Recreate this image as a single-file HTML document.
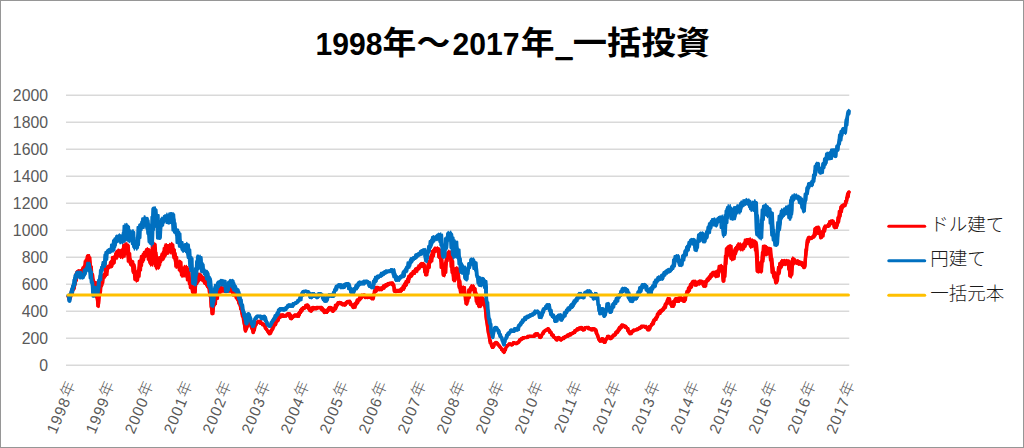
<!DOCTYPE html>
<html lang="ja"><head><meta charset="utf-8"><title>1998年～2017年_一括投資</title>
<style>
html,body{margin:0;padding:0;background:#fff;}
body{width:1024px;height:448px;overflow:hidden;font-family:"Liberation Sans","Noto Sans CJK JP",sans-serif;}
#chart{position:relative;width:1024px;height:448px;box-sizing:border-box;}
#chart svg{display:block;position:absolute;left:0;top:0;}
#frame{position:absolute;left:0;top:0;width:1024px;height:448px;box-sizing:border-box;border:1px solid #969696;pointer-events:none;}
</style></head><body>
<div id="chart">
<svg width="1024" height="448" viewBox="0 0 1024 448">
<rect x="0" y="0" width="1024" height="448" fill="#fff"/>
<line x1="66.0" x2="849.25" y1="95.25" y2="95.25" stroke="#d9d9d9" stroke-width="1.5"/>
<line x1="66.0" x2="849.25" y1="122.25" y2="122.25" stroke="#d9d9d9" stroke-width="1.5"/>
<line x1="66.0" x2="849.25" y1="149.25" y2="149.25" stroke="#d9d9d9" stroke-width="1.5"/>
<line x1="66.0" x2="849.25" y1="176.25" y2="176.25" stroke="#d9d9d9" stroke-width="1.5"/>
<line x1="66.0" x2="849.25" y1="203.25" y2="203.25" stroke="#d9d9d9" stroke-width="1.5"/>
<line x1="66.0" x2="849.25" y1="230.25" y2="230.25" stroke="#d9d9d9" stroke-width="1.5"/>
<line x1="66.0" x2="849.25" y1="257.25" y2="257.25" stroke="#d9d9d9" stroke-width="1.5"/>
<line x1="66.0" x2="849.25" y1="284.25" y2="284.25" stroke="#d9d9d9" stroke-width="1.5"/>
<line x1="66.0" x2="849.25" y1="311.25" y2="311.25" stroke="#d9d9d9" stroke-width="1.5"/>
<line x1="66.0" x2="849.25" y1="338.25" y2="338.25" stroke="#d9d9d9" stroke-width="1.5"/>
<line x1="66.0" x2="849.25" y1="365.25" y2="365.25" stroke="#d9d9d9" stroke-width="1.5"/>
<g font-family="'Liberation Sans', sans-serif" font-size="15.8" fill="#595959" text-anchor="end">
<text x="48.0" y="100.50">2000</text>
<text x="48.0" y="127.50">1800</text>
<text x="48.0" y="154.50">1600</text>
<text x="48.0" y="181.50">1400</text>
<text x="48.0" y="208.50">1200</text>
<text x="48.0" y="235.50">1000</text>
<text x="48.0" y="262.50">800</text>
<text x="48.0" y="289.50">600</text>
<text x="48.0" y="316.50">400</text>
<text x="48.0" y="343.50">200</text>
<text x="48.0" y="370.50">0</text>
</g>
<g fill="#595959" text-anchor="end">
<text transform="translate(77.30,384.5) rotate(-67)" x="0" y="0"><tspan font-family="'Liberation Sans', sans-serif" font-size="15.3" letter-spacing="1.0">1998</tspan><tspan font-family="'Noto Sans CJK JP', sans-serif" font-size="15.5" font-weight="300" dx="1.0" dy="-1.5">年</tspan></text>
<text transform="translate(116.27,384.5) rotate(-67)" x="0" y="0"><tspan font-family="'Liberation Sans', sans-serif" font-size="15.3" letter-spacing="1.0">1999</tspan><tspan font-family="'Noto Sans CJK JP', sans-serif" font-size="15.5" font-weight="300" dx="1.0" dy="-1.5">年</tspan></text>
<text transform="translate(155.24,384.5) rotate(-67)" x="0" y="0"><tspan font-family="'Liberation Sans', sans-serif" font-size="15.3" letter-spacing="1.0">2000</tspan><tspan font-family="'Noto Sans CJK JP', sans-serif" font-size="15.5" font-weight="300" dx="1.0" dy="-1.5">年</tspan></text>
<text transform="translate(194.21,384.5) rotate(-67)" x="0" y="0"><tspan font-family="'Liberation Sans', sans-serif" font-size="15.3" letter-spacing="1.0">2001</tspan><tspan font-family="'Noto Sans CJK JP', sans-serif" font-size="15.5" font-weight="300" dx="1.0" dy="-1.5">年</tspan></text>
<text transform="translate(233.18,384.5) rotate(-67)" x="0" y="0"><tspan font-family="'Liberation Sans', sans-serif" font-size="15.3" letter-spacing="1.0">2002</tspan><tspan font-family="'Noto Sans CJK JP', sans-serif" font-size="15.5" font-weight="300" dx="1.0" dy="-1.5">年</tspan></text>
<text transform="translate(272.15,384.5) rotate(-67)" x="0" y="0"><tspan font-family="'Liberation Sans', sans-serif" font-size="15.3" letter-spacing="1.0">2003</tspan><tspan font-family="'Noto Sans CJK JP', sans-serif" font-size="15.5" font-weight="300" dx="1.0" dy="-1.5">年</tspan></text>
<text transform="translate(311.12,384.5) rotate(-67)" x="0" y="0"><tspan font-family="'Liberation Sans', sans-serif" font-size="15.3" letter-spacing="1.0">2004</tspan><tspan font-family="'Noto Sans CJK JP', sans-serif" font-size="15.5" font-weight="300" dx="1.0" dy="-1.5">年</tspan></text>
<text transform="translate(350.09,384.5) rotate(-67)" x="0" y="0"><tspan font-family="'Liberation Sans', sans-serif" font-size="15.3" letter-spacing="1.0">2005</tspan><tspan font-family="'Noto Sans CJK JP', sans-serif" font-size="15.5" font-weight="300" dx="1.0" dy="-1.5">年</tspan></text>
<text transform="translate(389.06,384.5) rotate(-67)" x="0" y="0"><tspan font-family="'Liberation Sans', sans-serif" font-size="15.3" letter-spacing="1.0">2006</tspan><tspan font-family="'Noto Sans CJK JP', sans-serif" font-size="15.5" font-weight="300" dx="1.0" dy="-1.5">年</tspan></text>
<text transform="translate(428.03,384.5) rotate(-67)" x="0" y="0"><tspan font-family="'Liberation Sans', sans-serif" font-size="15.3" letter-spacing="1.0">2007</tspan><tspan font-family="'Noto Sans CJK JP', sans-serif" font-size="15.5" font-weight="300" dx="1.0" dy="-1.5">年</tspan></text>
<text transform="translate(467.00,384.5) rotate(-67)" x="0" y="0"><tspan font-family="'Liberation Sans', sans-serif" font-size="15.3" letter-spacing="1.0">2008</tspan><tspan font-family="'Noto Sans CJK JP', sans-serif" font-size="15.5" font-weight="300" dx="1.0" dy="-1.5">年</tspan></text>
<text transform="translate(505.97,384.5) rotate(-67)" x="0" y="0"><tspan font-family="'Liberation Sans', sans-serif" font-size="15.3" letter-spacing="1.0">2009</tspan><tspan font-family="'Noto Sans CJK JP', sans-serif" font-size="15.5" font-weight="300" dx="1.0" dy="-1.5">年</tspan></text>
<text transform="translate(544.94,384.5) rotate(-67)" x="0" y="0"><tspan font-family="'Liberation Sans', sans-serif" font-size="15.3" letter-spacing="1.0">2010</tspan><tspan font-family="'Noto Sans CJK JP', sans-serif" font-size="15.5" font-weight="300" dx="1.0" dy="-1.5">年</tspan></text>
<text transform="translate(583.91,384.5) rotate(-67)" x="0" y="0"><tspan font-family="'Liberation Sans', sans-serif" font-size="15.3" letter-spacing="1.0">2011</tspan><tspan font-family="'Noto Sans CJK JP', sans-serif" font-size="15.5" font-weight="300" dx="1.0" dy="-1.5">年</tspan></text>
<text transform="translate(622.88,384.5) rotate(-67)" x="0" y="0"><tspan font-family="'Liberation Sans', sans-serif" font-size="15.3" letter-spacing="1.0">2012</tspan><tspan font-family="'Noto Sans CJK JP', sans-serif" font-size="15.5" font-weight="300" dx="1.0" dy="-1.5">年</tspan></text>
<text transform="translate(661.85,384.5) rotate(-67)" x="0" y="0"><tspan font-family="'Liberation Sans', sans-serif" font-size="15.3" letter-spacing="1.0">2013</tspan><tspan font-family="'Noto Sans CJK JP', sans-serif" font-size="15.5" font-weight="300" dx="1.0" dy="-1.5">年</tspan></text>
<text transform="translate(700.82,384.5) rotate(-67)" x="0" y="0"><tspan font-family="'Liberation Sans', sans-serif" font-size="15.3" letter-spacing="1.0">2014</tspan><tspan font-family="'Noto Sans CJK JP', sans-serif" font-size="15.5" font-weight="300" dx="1.0" dy="-1.5">年</tspan></text>
<text transform="translate(739.79,384.5) rotate(-67)" x="0" y="0"><tspan font-family="'Liberation Sans', sans-serif" font-size="15.3" letter-spacing="1.0">2015</tspan><tspan font-family="'Noto Sans CJK JP', sans-serif" font-size="15.5" font-weight="300" dx="1.0" dy="-1.5">年</tspan></text>
<text transform="translate(778.76,384.5) rotate(-67)" x="0" y="0"><tspan font-family="'Liberation Sans', sans-serif" font-size="15.3" letter-spacing="1.0">2016</tspan><tspan font-family="'Noto Sans CJK JP', sans-serif" font-size="15.5" font-weight="300" dx="1.0" dy="-1.5">年</tspan></text>
<text transform="translate(817.73,384.5) rotate(-67)" x="0" y="0"><tspan font-family="'Liberation Sans', sans-serif" font-size="15.3" letter-spacing="1.0">2016</tspan><tspan font-family="'Noto Sans CJK JP', sans-serif" font-size="15.5" font-weight="300" dx="1.0" dy="-1.5">年</tspan></text>
<text transform="translate(856.70,384.5) rotate(-67)" x="0" y="0"><tspan font-family="'Liberation Sans', sans-serif" font-size="15.3" letter-spacing="1.0">2017</tspan><tspan font-family="'Noto Sans CJK JP', sans-serif" font-size="15.5" font-weight="300" dx="1.0" dy="-1.5">年</tspan></text>
</g>
<path d="M67.6,296.5 L68.1,296.3 L68.5,296.3 L68.9,300.0 L69.3,300.0 L69.8,295.0 L70.2,298.2 L70.6,293.8 L71.1,290.0 L71.5,293.4 L72.0,287.6 L72.4,291.6 L72.9,284.8 L73.4,289.8 L73.8,285.0 L74.2,285.2 L74.6,279.8 L75.0,277.6 L75.4,278.2 L75.8,273.4 L76.2,272.5 L76.7,272.7 L77.1,271.0 L77.5,272.7 L77.9,271.0 L78.4,271.1 L78.8,271.8 L79.2,271.2 L79.6,271.0 L80.1,271.5 L80.5,271.5 L80.9,271.0 L81.3,271.5 L81.7,271.2 L82.1,268.5 L82.5,267.3 L82.9,271.2 L83.4,271.5 L83.8,266.0 L84.2,266.2 L84.7,261.2 L85.2,266.5 L85.6,259.7 L86.1,260.0 L86.5,260.3 L87.0,256.0 L87.4,256.2 L87.8,260.0 L88.3,256.0 L88.7,264.0 L89.2,263.8 L89.7,263.5 L90.2,275.2 L90.7,267.3 L91.2,275.0 L91.7,282.2 L92.1,279.1 L92.6,283.3 L93.0,285.0 L93.5,282.5 L93.9,285.2 L94.3,282.3 L94.8,282.5 L95.3,291.4 L95.8,297.3 L96.4,297.5 L96.9,297.3 L97.4,306.2 L97.9,305.2 L98.4,295.9 L98.8,295.0 L99.3,289.0 L99.7,294.1 L100.1,285.2 L100.5,285.0 L100.9,285.2 L101.4,279.6 L101.8,280.8 L102.2,277.5 L102.7,274.8 L103.2,277.7 L103.7,274.8 L104.2,275.0 L104.6,275.3 L105.0,267.2 L105.4,275.3 L105.8,267.2 L106.2,273.0 L106.6,267.5 L107.1,266.8 L107.5,267.7 L107.9,266.0 L108.3,267.7 L108.7,266.0 L109.1,266.2 L109.5,266.5 L109.9,262.4 L110.4,266.5 L110.8,262.2 L111.2,265.5 L111.6,262.5 L112.0,257.2 L112.4,262.8 L112.8,257.2 L113.2,261.9 L113.6,257.4 L114.0,257.5 L114.4,257.6 L114.8,257.8 L115.2,253.4 L115.6,253.4 L116.0,257.3 L116.4,253.8 L116.8,250.9 L117.2,250.9 L117.6,254.1 L118.0,250.9 L118.4,254.1 L118.8,251.2 L119.3,250.9 L119.8,256.6 L120.3,252.6 L120.8,256.2 L121.3,256.6 L121.8,249.6 L122.3,256.3 L122.7,250.0 L123.2,244.6 L123.6,249.5 L124.0,248.5 L124.5,244.6 L124.9,245.0 L125.4,254.2 L125.8,246.1 L126.3,254.1 L126.8,253.8 L127.3,253.4 L127.8,261.6 L128.3,253.4 L128.8,261.2 L129.2,260.9 L129.7,261.1 L130.1,264.6 L130.5,262.7 L130.9,265.2 L131.4,265.0 L131.9,264.6 L132.4,265.8 L132.9,272.8 L133.4,272.5 L133.8,272.2 L134.3,279.7 L134.7,272.2 L135.1,280.3 L135.6,276.5 L136.0,280.0 L136.5,271.6 L136.9,280.3 L137.4,271.4 L137.9,270.0 L138.3,269.3 L138.8,260.9 L139.2,270.4 L139.6,260.9 L140.1,261.2 L140.5,261.6 L140.9,256.2 L141.3,261.6 L141.7,255.9 L142.1,260.7 L142.5,256.2 L142.9,253.8 L143.3,256.6 L143.8,252.2 L144.2,255.8 L144.6,252.1 L145.0,252.5 L145.4,252.9 L145.9,249.6 L146.3,252.9 L146.7,250.0 L147.2,249.6 L147.8,259.6 L148.3,255.2 L148.8,260.0 L149.3,262.8 L149.8,259.6 L150.3,264.1 L150.8,263.8 L151.3,264.1 L151.8,245.1 L152.2,254.6 L152.7,243.8 L153.1,243.3 L153.6,257.9 L154.1,247.3 L154.5,257.5 L155.0,266.3 L155.5,257.1 L155.9,267.9 L156.4,267.5 L156.9,262.6 L157.3,266.5 L157.8,259.6 L158.3,260.0 L158.7,260.4 L159.1,260.4 L159.5,257.1 L160.0,257.1 L160.4,258.8 L160.8,257.5 L161.2,255.8 L161.6,253.5 L162.0,257.9 L162.4,257.7 L162.8,256.5 L163.3,253.8 L163.7,248.2 L164.1,254.1 L164.5,254.2 L164.9,245.8 L165.3,253.6 L165.7,246.2 L166.2,245.8 L166.7,245.8 L167.2,251.7 L167.7,251.2 L168.2,245.2 L168.7,251.7 L169.2,250.9 L169.7,245.0 L170.2,244.6 L170.7,250.4 L171.2,245.1 L171.7,250.0 L172.2,253.6 L172.8,251.8 L173.3,257.9 L173.8,257.5 L174.3,257.1 L174.8,257.1 L175.3,266.6 L175.9,266.2 L176.4,263.2 L176.8,266.6 L177.3,266.6 L177.8,262.5 L178.3,262.1 L178.8,270.4 L179.2,262.1 L179.7,270.4 L180.1,270.0 L180.6,269.7 L181.0,275.3 L181.4,269.7 L181.8,275.3 L182.3,275.3 L182.7,275.0 L183.2,267.3 L183.7,275.3 L184.1,273.6 L184.6,267.5 L185.1,267.1 L185.5,267.2 L186.0,268.7 L186.4,272.5 L186.9,280.3 L187.4,272.2 L188.0,274.7 L188.5,280.0 L188.9,284.2 L189.3,279.7 L189.8,287.8 L190.2,281.1 L190.6,287.8 L191.0,287.5 L191.5,287.5 L192.0,290.7 L192.4,289.0 L192.9,292.7 L193.3,292.5 L193.8,287.7 L194.3,290.2 L194.8,282.6 L195.3,282.5 L195.7,282.8 L196.1,278.7 L196.5,280.1 L196.9,274.7 L197.3,282.0 L197.7,275.0 L198.1,277.8 L198.5,277.8 L198.9,274.7 L199.4,277.8 L199.8,275.2 L200.2,277.5 L200.6,279.8 L201.1,280.3 L201.5,277.2 L201.9,280.3 L202.3,277.2 L202.7,280.0 L203.2,281.3 L203.6,279.7 L204.0,282.8 L204.4,279.7 L204.8,282.8 L205.3,282.5 L205.7,282.2 L206.1,285.4 L206.5,282.7 L206.9,286.6 L207.4,286.6 L207.8,286.2 L208.3,286.9 L208.8,292.3 L209.3,290.3 L209.9,295.0 L210.2,300.0 L210.6,306.9 L211.1,306.8 L211.6,313.8 L212.0,313.1 L212.5,307.1 L213.0,305.0 L213.4,302.6 L213.8,305.3 L214.2,298.5 L214.7,298.8 L215.1,293.5 L215.6,299.0 L216.1,293.5 L216.6,293.8 L217.0,289.9 L217.4,294.0 L217.9,287.7 L218.3,294.0 L218.7,287.7 L219.1,289.6 L219.6,288.0 L220.0,288.6 L220.5,287.7 L220.9,290.7 L221.4,287.7 L221.8,291.1 L222.3,288.1 L222.8,291.3 L223.2,288.7 L223.7,291.3 L224.1,290.0 L224.6,291.0 L225.0,291.3 L225.5,289.9 L225.9,289.6 L226.4,291.3 L226.8,288.2 L227.3,291.3 L227.7,288.2 L228.2,290.1 L228.7,288.2 L229.1,289.7 L229.6,288.5 L230.0,288.2 L230.5,290.7 L230.9,288.9 L231.4,291.5 L231.9,290.4 L232.3,294.8 L232.8,288.7 L233.2,290.4 L233.7,294.8 L234.2,294.8 L234.6,294.5 L235.1,294.2 L235.6,297.8 L236.1,294.2 L236.6,297.5 L237.2,300.4 L237.7,298.1 L238.2,302.8 L238.7,302.5 L239.1,302.3 L239.6,302.3 L240.1,309.0 L240.5,308.8 L241.0,309.8 L241.4,313.4 L241.9,316.5 L242.4,316.2 L242.9,316.1 L243.4,322.7 L244.0,325.0 L244.5,327.5 L245.0,331.2 L245.5,331.2 L246.0,326.2 L246.5,326.2 L246.9,326.4 L247.4,326.4 L247.8,321.1 L248.2,321.2 L248.7,321.1 L249.1,323.9 L249.6,321.5 L250.0,323.8 L250.5,326.6 L250.9,324.5 L251.4,328.9 L251.8,328.8 L252.3,328.6 L252.7,332.6 L253.1,332.5 L253.6,328.4 L254.1,329.9 L254.6,326.2 L255.1,324.0 L255.6,325.4 L256.1,322.6 L256.6,322.5 L257.0,322.6 L257.5,321.5 L257.9,322.0 L258.4,321.3 L258.8,321.2 L259.2,322.1 L259.7,321.5 L260.1,323.6 L260.5,321.8 L260.9,323.9 L261.3,323.8 L261.8,323.6 L262.2,325.1 L262.6,323.6 L263.0,325.1 L263.4,324.2 L263.9,325.0 L264.3,326.4 L264.7,326.3 L265.2,328.7 L265.6,328.8 L266.1,328.8 L266.6,330.3 L267.2,330.4 L267.7,331.2 L268.1,332.6 L268.5,333.3 L269.0,333.9 L269.4,333.8 L269.9,331.2 L270.4,332.6 L270.9,330.3 L271.4,330.0 L271.8,330.1 L272.2,326.7 L272.6,328.3 L273.0,325.9 L273.5,327.6 L273.9,325.0 L274.3,322.9 L274.7,325.1 L275.1,321.6 L275.5,324.1 L275.9,323.2 L276.3,321.2 L276.8,320.3 L277.2,320.4 L277.6,318.8 L278.0,319.3 L278.4,318.7 L278.8,317.5 L279.2,316.6 L279.6,317.5 L280.1,315.4 L280.5,316.6 L280.9,314.9 L281.3,315.0 L281.7,314.9 L282.1,316.4 L282.6,314.9 L283.0,316.4 L283.4,316.4 L283.8,316.2 L284.2,315.1 L284.6,316.4 L285.1,314.9 L285.5,316.2 L285.9,314.9 L286.3,315.0 L286.7,315.1 L287.1,314.0 L287.6,315.1 L288.0,315.1 L288.4,313.6 L288.8,313.8 L289.3,317.5 L289.8,313.6 L290.3,318.9 L290.8,318.8 L291.3,317.5 L291.7,318.7 L292.2,316.1 L292.6,317.8 L293.1,316.2 L293.5,315.3 L293.9,316.4 L294.3,315.1 L294.7,315.9 L295.2,314.9 L295.6,315.0 L296.1,315.8 L296.6,314.9 L297.1,316.4 L297.6,316.2 L298.1,313.0 L298.6,316.4 L299.1,312.4 L299.6,312.5 L300.0,310.3 L300.4,309.7 L300.8,312.3 L301.2,308.6 L301.6,310.5 L302.0,308.8 L302.5,308.3 L302.9,308.6 L303.3,307.4 L303.7,308.6 L304.1,307.4 L304.5,307.5 L304.9,307.6 L305.4,304.8 L305.8,307.7 L306.2,304.8 L306.6,306.7 L307.0,305.0 L307.5,307.7 L307.9,304.9 L308.3,308.8 L308.8,308.8 L309.2,308.7 L309.7,309.1 L310.1,309.8 L310.6,311.2 L311.0,307.8 L311.5,311.4 L312.0,307.4 L312.5,307.5 L312.9,308.6 L313.4,307.4 L313.8,308.9 L314.2,308.0 L314.6,308.8 L315.0,308.8 L315.5,307.5 L315.9,308.9 L316.3,307.4 L316.7,308.9 L317.1,307.4 L317.5,307.5 L317.9,307.4 L318.4,307.6 L318.8,307.6 L319.2,307.4 L319.6,307.6 L320.0,307.5 L320.4,307.4 L320.9,309.7 L321.3,307.6 L321.7,310.1 L322.1,308.8 L322.5,310.0 L323.0,309.9 L323.4,311.2 L323.8,310.9 L324.2,312.6 L324.6,310.8 L325.1,312.5 L325.5,312.6 L325.9,310.2 L326.3,312.6 L326.7,309.9 L327.1,311.7 L327.5,310.0 L328.0,308.2 L328.4,309.7 L328.8,309.3 L329.2,307.8 L329.6,307.5 L330.0,307.5 L330.5,309.0 L331.0,308.7 L331.5,308.7 L332.1,311.2 L332.5,309.4 L333.0,311.0 L333.5,308.6 L334.0,308.8 L334.5,308.9 L334.9,304.9 L335.4,305.2 L335.8,306.9 L336.3,305.0 L336.7,304.1 L337.1,304.8 L337.5,303.0 L337.9,304.0 L338.3,302.3 L338.7,302.5 L339.2,302.3 L339.6,303.9 L340.0,302.3 L340.4,303.9 L340.8,302.9 L341.3,303.8 L341.7,304.2 L342.1,303.9 L342.5,305.1 L342.9,303.9 L343.3,303.6 L343.8,305.0 L344.2,305.2 L344.6,303.5 L345.0,303.1 L345.4,303.9 L345.8,302.5 L346.2,302.5 L346.7,301.1 L347.1,302.7 L347.5,301.1 L347.9,302.7 L348.3,301.1 L348.7,301.2 L349.2,301.1 L349.6,304.2 L350.0,304.9 L350.4,301.7 L350.8,305.2 L351.3,305.0 L351.8,304.8 L352.3,307.3 L352.8,305.3 L353.3,307.5 L353.7,307.6 L354.2,303.6 L354.6,303.6 L355.1,306.0 L355.5,303.8 L355.9,301.8 L356.3,303.9 L356.7,299.8 L357.2,302.5 L357.6,299.8 L358.0,300.0 L358.4,300.2 L358.8,298.1 L359.2,297.3 L359.6,300.2 L360.1,297.5 L360.5,297.5 L360.9,297.5 L361.3,294.9 L361.7,297.7 L362.1,295.0 L362.5,296.1 L363.0,295.0 L363.4,295.1 L363.8,295.5 L364.2,296.9 L364.6,296.1 L365.0,297.7 L365.5,297.5 L365.9,296.7 L366.3,297.4 L366.7,297.2 L367.1,296.1 L367.5,296.9 L368.0,296.2 L368.4,296.1 L368.8,297.7 L369.2,296.1 L369.6,297.7 L370.1,296.8 L370.5,297.5 L371.0,298.5 L371.5,297.3 L372.0,298.9 L372.5,298.8 L372.9,294.2 L373.3,298.2 L373.8,295.0 L374.2,291.2 L374.6,289.4 L375.0,291.4 L375.4,287.3 L375.8,289.7 L376.2,287.4 L376.7,287.5 L377.1,288.5 L377.6,287.4 L378.0,287.3 L378.5,289.7 L379.0,288.3 L379.4,289.5 L379.8,288.5 L380.3,289.7 L380.7,287.8 L381.1,288.9 L381.5,287.9 L381.9,288.0 L382.3,287.0 L382.7,288.2 L383.2,285.8 L383.6,287.9 L384.0,285.8 L384.4,286.0 L384.8,286.2 L385.2,286.2 L385.6,284.3 L386.1,284.3 L386.5,286.2 L386.9,284.5 L387.3,283.6 L387.7,284.7 L388.1,283.3 L388.6,284.7 L389.0,283.4 L389.4,283.5 L389.9,283.7 L390.4,283.7 L390.9,283.0 L391.4,282.8 L391.9,283.3 L392.4,285.1 L392.9,285.0 L393.3,285.8 L393.8,290.7 L394.2,291.5 L394.6,290.3 L395.1,291.7 L395.6,290.3 L396.0,291.7 L396.5,290.9 L396.9,290.5 L397.3,290.8 L397.8,290.3 L398.2,291.2 L398.6,291.2 L399.0,290.4 L399.4,291.0 L399.8,291.2 L400.3,289.3 L400.7,291.2 L401.1,291.2 L401.5,288.8 L401.9,289.0 L402.3,289.2 L402.7,286.4 L403.2,285.6 L403.6,288.6 L404.0,284.8 L404.4,285.0 L404.8,282.5 L405.2,285.2 L405.6,281.1 L406.0,281.1 L406.5,283.5 L406.9,281.2 L407.3,278.4 L407.7,281.4 L408.1,276.0 L408.5,276.0 L408.9,276.0 L409.3,276.2 L409.8,276.5 L410.2,274.4 L410.6,276.5 L411.0,273.5 L411.4,276.2 L411.8,273.8 L412.2,274.0 L412.7,271.0 L413.1,274.0 L413.5,273.0 L413.9,271.0 L414.3,271.2 L414.7,271.5 L415.1,268.5 L415.6,271.3 L416.0,268.5 L416.4,269.9 L416.8,268.8 L417.2,267.6 L417.6,268.8 L418.0,268.4 L418.5,269.0 L418.9,266.0 L419.3,266.2 L419.7,266.5 L420.1,263.8 L420.5,266.5 L421.0,266.0 L421.4,263.5 L421.8,263.8 L422.3,265.2 L422.8,266.5 L423.3,264.0 L423.8,266.2 L424.2,272.4 L424.7,266.2 L425.1,275.2 L425.6,275.0 L426.0,269.6 L426.4,272.6 L426.9,270.6 L427.3,267.5 L427.8,263.8 L428.3,266.9 L428.8,261.0 L429.3,261.2 L429.8,261.5 L430.2,256.4 L430.7,259.6 L431.2,256.2 L431.7,251.0 L432.2,256.5 L432.7,251.0 L433.1,251.2 L433.6,251.5 L434.0,249.3 L434.5,250.7 L434.9,248.5 L435.3,248.8 L435.7,249.5 L436.1,248.5 L436.6,250.3 L437.0,250.3 L437.4,249.1 L437.8,250.0 L438.2,257.2 L438.7,249.7 L439.1,257.8 L439.5,257.5 L440.1,257.2 L440.6,267.8 L441.1,258.9 L441.6,267.5 L442.1,267.6 L442.6,274.9 L443.1,275.0 L443.5,274.7 L443.9,266.4 L444.3,263.4 L444.7,263.8 L445.2,264.1 L445.6,262.6 L446.0,254.7 L446.4,255.0 L446.9,255.1 L447.4,252.9 L447.9,255.4 L448.3,252.5 L448.8,252.1 L449.2,258.6 L449.7,254.6 L450.1,258.8 L450.6,267.0 L451.1,260.3 L451.5,272.8 L452.0,272.5 L452.5,272.2 L453.0,280.3 L453.6,280.0 L454.0,274.5 L454.4,280.3 L454.8,268.4 L455.2,268.8 L455.7,275.3 L456.1,275.3 L456.6,275.3 L457.0,275.0 L457.5,274.7 L458.1,276.1 L458.6,287.8 L459.1,287.5 L459.6,287.2 L460.0,292.8 L460.5,289.4 L460.9,292.5 L461.4,292.8 L461.9,287.5 L462.4,290.9 L462.9,287.5 L463.3,292.6 L463.7,295.0 L464.2,295.0 L464.6,294.8 L465.1,295.4 L465.5,303.8 L465.9,298.2 L466.4,304.0 L466.8,297.3 L467.2,297.5 L467.7,297.8 L468.2,289.7 L468.7,296.0 L469.1,290.0 L469.6,290.3 L470.1,290.3 L470.6,289.8 L471.1,286.2 L471.6,286.0 L472.1,286.0 L472.6,289.0 L473.1,288.8 L473.6,288.5 L474.2,294.5 L474.7,289.2 L475.2,295.0 L475.7,301.3 L476.2,295.0 L476.7,304.0 L477.3,303.8 L477.8,303.5 L478.3,306.5 L478.8,306.2 L479.2,300.5 L479.6,306.1 L480.0,297.3 L480.5,297.5 L480.9,297.3 L481.3,300.2 L481.8,297.3 L482.2,300.0 L482.7,305.0 L483.3,299.8 L483.8,305.9 L484.3,306.2 L484.8,309.6 L485.4,314.5 L485.9,320.0 L486.4,322.5 L487.0,326.0 L487.5,330.0 L488.0,333.5 L488.6,332.9 L489.1,338.8 L489.6,343.0 L490.1,340.1 L490.7,343.8 L491.1,346.3 L491.6,343.7 L492.0,347.6 L492.5,347.5 L492.9,344.7 L493.3,347.6 L493.7,343.7 L494.2,343.8 L494.7,343.9 L495.2,342.4 L495.7,343.7 L496.2,342.5 L496.7,344.2 L497.2,342.6 L497.7,345.1 L498.2,345.0 L498.7,344.9 L499.2,346.7 L499.7,346.5 L500.2,347.5 L500.7,347.4 L501.2,350.0 L501.7,348.5 L502.3,350.0 L502.8,351.8 L503.3,351.1 L503.8,352.5 L504.3,352.0 L504.8,349.5 L505.2,349.2 L505.7,347.5 L506.2,346.1 L506.7,347.2 L507.2,345.8 L507.7,345.0 L508.2,344.5 L508.7,344.9 L509.2,343.7 L509.7,343.8 L510.2,344.7 L510.7,343.7 L511.2,344.9 L511.7,345.0 L512.2,344.1 L512.7,344.7 L513.2,342.4 L513.7,342.5 L514.2,343.0 L514.7,342.9 L515.2,343.8 L515.7,343.8 L516.2,343.8 L516.7,342.4 L517.2,343.5 L517.7,342.5 L518.2,341.3 L518.7,342.0 L519.2,339.9 L519.7,340.0 L520.2,340.1 L520.7,338.6 L521.2,340.1 L521.6,338.8 L522.1,337.6 L522.6,338.9 L523.1,337.4 L523.6,337.5 L524.1,337.6 L524.5,337.4 L524.9,337.4 L525.3,337.6 L525.7,337.4 L526.1,337.5 L526.6,337.6 L527.0,336.7 L527.4,337.6 L527.8,336.1 L528.2,337.3 L528.6,336.2 L529.0,336.1 L529.5,336.4 L529.9,336.1 L530.3,336.4 L530.7,336.1 L531.1,336.2 L531.5,336.4 L532.0,336.1 L532.4,336.4 L532.8,336.1 L533.2,336.4 L533.6,336.2 L534.0,336.3 L534.4,333.9 L534.9,336.4 L535.3,333.6 L535.7,335.4 L536.1,333.8 L536.6,334.3 L537.1,334.1 L537.6,335.1 L538.1,335.0 L538.6,334.9 L539.1,334.9 L539.6,337.6 L540.1,337.5 L540.6,335.0 L541.1,337.5 L541.6,335.7 L542.1,333.8 L542.6,332.3 L543.1,333.3 L543.6,331.1 L544.1,331.2 L544.6,331.4 L545.1,329.9 L545.6,330.1 L546.1,330.0 L546.6,329.9 L547.1,328.6 L547.6,330.1 L548.1,328.8 L548.6,328.6 L549.1,332.6 L549.6,332.6 L550.1,332.5 L550.6,332.4 L551.1,335.1 L551.6,333.2 L552.1,335.0 L552.6,336.6 L553.1,335.2 L553.6,337.6 L554.1,337.5 L554.6,337.4 L555.1,339.1 L555.7,339.1 L556.2,340.0 L556.7,340.1 L557.1,337.4 L557.6,338.5 L558.1,337.5 L558.6,337.7 L559.1,337.4 L559.7,338.1 L560.2,340.0 L560.7,340.1 L561.2,338.6 L561.7,340.0 L562.1,338.8 L562.6,337.5 L563.1,338.9 L563.6,338.8 L564.1,337.5 L564.6,336.1 L565.1,337.6 L565.6,336.1 L566.1,336.2 L566.5,336.4 L567.0,334.9 L567.4,336.4 L567.8,336.4 L568.2,334.9 L568.6,335.0 L569.0,334.1 L569.4,335.1 L569.9,333.8 L570.3,334.7 L570.7,333.6 L571.1,333.8 L571.5,333.9 L571.9,333.1 L572.3,332.8 L572.8,333.6 L573.2,332.4 L573.6,332.5 L574.0,332.6 L574.4,330.6 L574.8,332.0 L575.2,330.2 L575.7,329.9 L576.1,330.0 L576.5,330.1 L576.9,329.3 L577.3,329.6 L577.7,328.6 L578.1,329.7 L578.6,328.8 L579.0,327.6 L579.4,328.9 L579.8,327.4 L580.2,328.9 L580.6,327.4 L581.0,327.5 L581.5,329.6 L582.1,327.4 L582.6,330.1 L583.1,330.0 L583.6,329.0 L584.1,329.1 L584.5,327.4 L585.0,327.5 L585.5,327.4 L586.0,327.6 L586.5,327.6 L587.0,327.5 L587.5,327.4 L588.0,328.9 L588.6,328.1 L589.1,328.8 L589.6,329.4 L590.1,328.6 L590.6,330.1 L591.1,330.0 L591.6,328.7 L592.1,330.1 L592.6,329.7 L593.1,328.8 L593.6,328.6 L594.1,330.1 L594.6,328.6 L595.1,330.0 L595.6,333.1 L596.1,330.7 L596.6,333.8 L597.1,336.2 L597.6,336.3 L598.1,338.8 L598.7,340.4 L599.2,338.9 L599.7,341.4 L600.2,341.2 L600.7,339.3 L601.2,339.1 L601.7,338.6 L602.1,338.8 L602.7,341.6 L603.2,338.6 L603.7,342.6 L604.2,342.5 L604.7,339.9 L605.2,342.2 L605.7,338.6 L606.1,338.8 L606.6,338.9 L607.1,336.4 L607.6,337.4 L608.1,336.2 L608.6,336.4 L609.1,336.1 L609.6,338.9 L610.1,338.8 L610.6,337.5 L611.1,338.2 L611.6,336.1 L612.1,336.2 L612.6,336.4 L613.1,334.9 L613.6,336.3 L614.1,335.0 L614.6,335.1 L615.1,332.7 L615.6,334.0 L616.1,332.5 L616.6,331.0 L617.1,332.6 L617.6,331.9 L618.1,330.0 L618.6,327.8 L619.1,330.1 L619.5,327.4 L620.0,327.5 L620.5,327.6 L621.0,325.4 L621.5,326.4 L622.0,325.0 L622.5,325.1 L623.0,325.9 L623.5,324.9 L624.0,326.2 L624.5,327.6 L625.0,326.6 L625.5,327.4 L626.0,327.5 L626.6,327.5 L627.1,330.4 L627.6,329.3 L628.1,331.2 L628.6,332.6 L629.1,331.1 L629.6,333.9 L630.1,333.8 L630.6,331.8 L631.1,333.9 L631.6,331.3 L632.1,331.2 L632.6,331.4 L633.1,329.9 L633.6,331.4 L634.1,330.0 L634.6,329.9 L635.1,330.1 L635.6,329.9 L636.1,330.0 L636.6,328.9 L637.1,330.1 L637.6,328.6 L638.1,328.8 L638.6,328.9 L639.0,327.4 L639.5,328.4 L640.0,327.5 L640.5,326.6 L641.0,327.6 L641.5,326.1 L642.0,326.2 L642.5,326.4 L643.0,326.4 L643.5,326.1 L644.0,326.2 L644.5,327.5 L645.0,326.1 L645.5,327.6 L646.0,327.5 L646.5,327.4 L647.1,330.1 L647.6,328.5 L648.1,330.0 L648.6,330.1 L649.0,326.1 L649.5,326.1 L650.0,326.2 L650.5,326.4 L651.0,323.9 L651.5,325.4 L652.0,323.8 L652.5,321.4 L653.0,323.9 L653.5,319.8 L654.0,320.0 L654.5,319.9 L655.0,318.1 L655.5,319.8 L656.0,317.5 L656.4,317.7 L656.9,314.1 L657.4,313.6 L657.9,313.8 L658.4,311.9 L658.9,311.1 L659.4,313.4 L659.9,311.2 L660.4,309.8 L660.9,311.4 L661.4,309.8 L661.9,310.0 L662.4,310.2 L662.9,307.5 L663.4,308.6 L663.9,307.5 L664.4,307.2 L664.9,303.6 L665.4,307.4 L665.9,303.8 L666.4,301.3 L666.9,299.9 L667.4,304.0 L667.9,298.8 L668.4,298.5 L668.9,302.0 L669.4,300.4 L669.9,302.5 L670.4,305.0 L670.9,302.6 L671.4,306.4 L671.9,306.2 L672.4,301.5 L672.9,306.4 L673.4,301.1 L673.9,301.2 L674.4,301.4 L674.9,299.0 L675.4,300.6 L675.9,298.8 L676.4,298.6 L676.9,298.9 L677.4,301.4 L677.9,301.2 L678.4,297.3 L678.9,301.4 L679.4,297.6 L679.9,297.5 L680.4,298.8 L680.9,297.3 L681.4,297.3 L681.9,300.0 L682.4,300.9 L682.9,300.0 L683.5,301.4 L684.0,301.2 L684.4,296.2 L684.9,294.8 L685.4,295.0 L685.9,295.2 L686.4,291.1 L686.9,294.6 L687.4,291.2 L687.9,288.2 L688.4,291.4 L688.9,287.3 L689.4,287.5 L689.9,284.9 L690.4,287.7 L690.9,287.3 L691.4,283.8 L691.9,281.5 L692.4,283.9 L692.9,281.1 L693.4,281.2 L693.9,283.3 L694.4,281.1 L694.9,285.2 L695.4,285.0 L695.9,282.8 L696.4,285.2 L696.9,282.3 L697.4,282.5 L697.7,284.0 L698.1,283.8 L698.5,281.0 L699.0,284.0 L699.4,281.0 L699.8,281.2 L700.3,282.7 L700.8,282.7 L701.3,281.2 L701.8,282.5 L702.4,285.0 L702.9,282.6 L703.4,286.5 L703.9,286.2 L704.4,281.3 L704.8,285.1 L705.3,281.3 L705.8,281.2 L706.3,281.5 L706.8,278.5 L707.3,280.0 L707.8,278.8 L708.3,277.5 L708.8,279.0 L709.3,276.0 L709.8,276.2 L710.3,274.0 L710.8,276.5 L711.3,273.5 L711.8,273.8 L712.3,272.4 L712.8,274.0 L713.3,272.3 L713.8,272.5 L714.3,275.4 L714.8,272.3 L715.2,276.5 L715.7,276.2 L716.2,271.0 L716.7,275.2 L717.2,271.2 L717.7,271.2 L718.1,271.5 L718.6,266.0 L719.1,271.5 L719.6,266.2 L720.1,266.0 L720.6,269.0 L721.1,268.8 L721.6,269.8 L722.1,272.1 L722.6,281.2 L723.1,281.5 L723.5,267.2 L724.0,267.5 L724.5,267.8 L724.9,255.9 L725.4,256.2 L725.9,248.4 L726.4,252.5 L726.9,248.8 L727.3,246.9 L727.8,249.1 L728.3,246.2 L728.9,245.9 L729.4,254.1 L729.9,253.8 L730.4,258.6 L730.9,255.7 L731.4,258.8 L731.9,256.2 L732.4,258.7 L732.9,255.0 L733.4,250.8 L733.9,253.6 L734.4,250.0 L734.9,248.2 L735.4,250.4 L735.9,247.1 L736.4,247.5 L736.8,247.9 L737.3,244.8 L737.8,247.9 L738.3,245.0 L738.8,244.6 L739.4,249.1 L739.9,245.8 L740.4,248.8 L740.9,247.0 L741.4,248.7 L741.9,245.9 L742.4,246.2 L742.8,246.6 L743.3,243.4 L743.8,246.6 L744.3,243.8 L744.8,239.6 L745.3,239.6 L745.8,244.1 L746.3,240.0 L746.8,239.6 L747.3,240.4 L747.8,239.6 L748.3,240.0 L748.8,244.3 L749.3,240.0 L749.9,246.6 L750.4,246.2 L750.9,240.9 L751.3,246.6 L751.8,241.2 L752.3,240.9 L752.8,240.9 L753.3,242.9 L753.8,242.5 L754.4,242.1 L754.9,250.4 L755.4,250.0 L756.0,256.6 L756.6,271.2 L757.0,271.6 L757.5,270.3 L758.0,263.8 L758.5,263.4 L759.0,263.4 L759.6,271.2 L760.0,271.6 L760.5,267.9 L761.0,261.2 L761.5,261.6 L761.9,252.2 L762.4,252.5 L762.9,245.9 L763.4,245.9 L763.9,246.2 L764.4,251.8 L764.9,245.9 L765.4,254.1 L765.9,253.8 L766.4,249.3 L766.9,254.1 L767.4,248.9 L767.9,248.8 L768.4,251.6 L768.9,249.2 L769.4,253.8 L770.0,260.3 L770.5,255.3 L771.0,265.0 L771.5,272.8 L772.1,267.6 L772.6,272.5 L773.1,276.5 L773.6,277.8 L774.1,277.5 L774.6,277.2 L775.1,282.8 L775.7,282.5 L776.1,273.6 L776.6,273.5 L777.1,273.8 L777.6,274.0 L778.1,267.2 L778.6,267.5 L779.0,267.8 L779.4,263.4 L779.8,267.8 L780.3,263.8 L780.7,264.1 L781.1,261.0 L781.6,263.3 L782.0,261.2 L782.5,260.9 L783.0,264.1 L783.5,260.9 L784.0,263.8 L784.5,264.1 L785.0,264.1 L785.5,263.5 L786.0,261.2 L786.5,260.9 L786.9,261.6 L787.3,260.9 L787.8,261.2 L788.2,269.7 L788.7,263.6 L789.2,276.2 L789.6,276.2 L790.1,276.5 L790.6,267.0 L791.1,266.2 L791.6,266.4 L792.1,258.5 L792.5,258.8 L793.1,262.8 L793.6,258.8 L794.1,262.5 L794.6,262.8 L795.1,261.1 L795.7,262.2 L796.2,261.2 L796.7,261.0 L797.2,264.0 L797.7,261.0 L798.2,263.8 L798.8,264.0 L799.3,262.3 L799.8,264.0 L800.3,262.5 L800.8,262.3 L801.3,265.1 L801.8,263.9 L802.4,265.0 L802.9,266.5 L803.4,265.8 L803.9,267.5 L804.4,263.6 L804.9,257.5 L805.4,249.3 L805.9,252.1 L806.4,243.8 L806.9,239.7 L807.3,241.6 L807.8,237.5 L808.3,239.0 L808.8,237.3 L809.3,238.8 L809.8,239.0 L810.3,237.3 L810.8,239.0 L811.3,237.5 L811.8,237.7 L812.3,237.6 L812.8,236.0 L813.3,236.2 L813.8,236.5 L814.3,228.5 L814.8,233.9 L815.3,228.8 L815.8,227.3 L816.3,228.8 L816.8,227.5 L817.3,227.5 L817.8,234.0 L818.3,228.8 L818.9,233.8 L819.4,233.8 L819.9,234.6 L820.4,237.7 L820.9,237.5 L821.4,232.9 L821.9,231.0 L822.4,236.4 L822.8,231.2 L823.3,228.9 L823.8,227.5 L824.3,230.5 L824.8,226.2 L825.3,226.0 L825.8,226.5 L826.3,226.0 L826.8,226.2 L827.3,226.1 L827.8,224.5 L828.3,226.5 L828.8,223.8 L829.3,221.0 L829.8,224.0 L830.3,224.0 L830.8,221.2 L831.3,221.2 L831.8,221.5 L832.3,222.7 L832.8,222.5 L833.3,222.3 L833.9,227.7 L834.4,222.3 L834.9,227.5 L835.4,227.7 L835.9,223.5 L836.4,227.7 L836.9,223.8 L837.4,217.3 L837.8,224.0 L838.3,217.5 L838.8,211.0 L839.3,216.9 L839.8,211.2 L840.3,206.7 L840.8,206.5 L841.3,209.5 L841.8,206.2 L842.3,204.8 L842.8,206.5 L843.3,204.8 L843.8,205.0 L844.3,205.2 L844.8,204.8 L845.3,201.0 L845.8,201.2 L846.3,197.5 L846.8,197.3 L847.3,193.2 L847.8,193.0 L848.2,193.1 L848.5,192.0" fill="none" stroke="#ff0000" stroke-width="2.2" stroke-linejoin="round" stroke-linecap="round"/>
<path d="M68.2,296.5 L68.7,296.8 L69.1,299.7 L69.5,300.0 L69.9,297.6 L70.4,297.9 L70.8,293.8 L71.2,293.8 L71.7,293.8 L72.2,290.1 L72.6,291.2 L73.1,286.3 L73.6,285.2 L74.0,288.7 L74.5,285.0 L74.9,280.3 L75.3,283.6 L75.8,275.8 L76.2,274.0 L76.6,276.8 L77.0,272.5 L77.4,271.9 L77.9,272.7 L78.3,271.0 L78.7,272.7 L79.1,271.0 L79.6,272.2 L80.0,271.2 L80.4,271.0 L80.8,271.5 L81.2,271.0 L81.7,271.0 L82.1,271.5 L82.5,271.2 L82.9,269.6 L83.3,270.6 L83.8,267.7 L84.2,269.8 L84.6,266.0 L85.0,266.2 L85.5,265.6 L86.0,262.1 L86.5,263.9 L87.0,260.0 L87.4,256.1 L87.8,260.3 L88.2,256.2 L88.7,256.0 L89.1,261.3 L89.6,260.8 L90.0,263.8 L90.5,269.2 L91.0,266.4 L91.5,275.2 L92.0,275.0 L92.4,274.8 L92.9,283.3 L93.3,279.7 L93.8,285.0 L94.2,285.2 L94.6,282.3 L95.1,285.2 L95.5,282.5 L96.0,284.4 L96.5,293.5 L97.0,297.5 L97.5,300.9 L98.0,306.2 L98.5,303.9 L99.0,297.2 L99.5,295.0 L99.9,293.8 L100.4,288.4 L100.8,286.7 L101.2,285.0 L101.7,284.0 L102.1,280.6 L102.6,280.0 L103.0,277.5 L103.5,276.2 L104.0,277.0 L104.5,274.8 L105.0,275.0 L105.4,275.3 L105.8,270.3 L106.2,273.6 L106.7,267.2 L107.1,271.4 L107.5,267.5 L107.9,266.3 L108.3,267.8 L108.8,267.8 L109.2,266.0 L109.6,266.9 L110.0,266.2 L110.4,266.4 L110.8,262.6 L111.2,266.5 L111.7,266.5 L112.1,262.2 L112.5,262.5 L112.9,259.0 L113.3,262.8 L113.8,257.2 L114.2,262.8 L114.6,257.2 L115.0,257.5 L115.4,257.8 L115.8,255.3 L116.2,256.7 L116.7,254.2 L117.1,255.0 L117.5,253.8 L117.9,251.0 L118.3,254.1 L118.8,250.9 L119.2,253.7 L119.6,250.9 L120.0,251.2 L120.5,250.9 L121.0,256.6 L121.5,250.9 L122.0,256.2 L122.5,256.6 L123.0,250.7 L123.5,253.1 L124.0,250.0 L124.5,247.6 L124.9,249.6 L125.3,245.4 L125.8,248.0 L126.2,245.0 L126.7,245.0 L127.1,253.4 L127.6,248.1 L128.0,253.8 L128.5,253.4 L129.0,253.4 L129.5,257.8 L130.0,261.2 L130.4,262.8 L130.8,260.9 L131.2,265.1 L131.7,265.4 L132.1,262.4 L132.5,265.0 L133.0,271.4 L133.5,264.6 L134.0,271.5 L134.5,272.5 L134.9,274.5 L135.3,276.6 L135.8,274.5 L136.2,280.0 L136.6,276.8 L137.0,280.0 L137.5,280.3 L138.0,271.4 L138.5,273.8 L139.0,270.0 L139.4,267.0 L139.9,268.0 L140.3,263.2 L140.8,263.8 L141.2,261.2 L141.7,261.1 L142.1,256.5 L142.5,261.6 L142.9,255.9 L143.3,259.6 L143.8,256.2 L144.2,254.9 L144.6,255.9 L145.0,252.1 L145.4,256.3 L145.8,252.1 L146.2,252.5 L146.7,249.6 L147.1,252.0 L147.6,251.3 L148.0,250.0 L148.5,249.6 L149.0,259.1 L149.5,260.4 L150.0,260.0 L150.5,259.6 L151.0,264.1 L151.5,264.1 L152.0,263.8 L152.5,257.8 L153.0,254.9 L153.5,247.5 L154.0,243.8 L154.4,248.5 L154.9,248.4 L155.3,255.9 L155.8,257.5 L156.2,258.0 L156.6,264.8 L157.1,260.5 L157.5,267.5 L158.0,261.1 L158.5,267.9 L159.0,265.8 L159.5,260.0 L159.9,258.3 L160.3,260.4 L160.8,259.5 L161.2,259.0 L161.6,257.1 L162.0,257.5 L162.4,255.2 L162.8,254.6 L163.2,257.3 L163.7,257.9 L164.1,253.4 L164.5,253.8 L164.9,254.1 L165.3,248.5 L165.8,254.2 L166.2,245.8 L166.6,249.1 L167.0,246.2 L167.5,245.8 L168.0,250.9 L168.5,248.1 L169.0,251.2 L169.5,251.7 L170.0,251.7 L170.5,245.4 L171.0,245.0 L171.5,247.4 L172.0,244.6 L172.5,250.4 L173.0,250.0 L173.5,255.6 L174.0,249.6 L174.5,257.9 L175.0,257.5 L175.5,262.0 L176.0,259.7 L176.5,265.9 L177.0,266.2 L177.5,263.3 L178.0,266.6 L178.5,262.1 L179.0,262.5 L179.4,266.7 L179.9,262.2 L180.3,270.3 L180.8,267.0 L181.2,270.0 L181.7,272.1 L182.1,274.0 L182.5,270.1 L182.9,275.3 L183.3,270.6 L183.8,275.0 L184.2,275.3 L184.8,274.9 L185.2,267.6 L185.8,267.5 L186.2,267.1 L186.6,272.8 L187.1,268.8 L187.5,272.5 L188.0,277.9 L188.5,272.3 L189.0,280.3 L189.5,280.0 L189.9,279.7 L190.3,281.5 L190.8,284.8 L191.2,287.8 L191.6,282.6 L192.0,287.5 L192.4,291.9 L192.9,292.8 L193.3,287.2 L193.8,292.8 L194.2,292.5 L194.8,287.3 L195.2,290.7 L195.8,282.4 L196.2,282.5 L196.7,282.8 L197.1,276.8 L197.5,282.2 L197.9,274.9 L198.3,278.4 L198.8,275.0 L199.2,274.7 L199.6,277.2 L200.0,275.3 L200.4,277.6 L200.8,275.3 L201.2,277.5 L201.7,279.7 L202.1,279.6 L202.5,277.4 L202.9,280.3 L203.3,277.6 L203.8,280.0 L204.2,282.0 L204.6,282.8 L205.0,280.2 L205.4,282.6 L205.8,281.6 L206.2,282.5 L206.7,283.7 L207.1,282.2 L207.5,286.6 L207.9,284.4 L208.3,286.1 L208.8,286.2 L209.2,286.0 L209.8,295.2 L210.2,289.0 L210.8,295.0 L211.0,300.0 L211.4,308.2 L211.8,308.2 L212.2,313.8 L212.8,311.8 L213.2,305.6 L213.8,305.0 L214.2,305.3 L214.6,298.5 L215.1,304.0 L215.5,298.8 L216.0,299.0 L216.5,293.5 L217.0,295.8 L217.5,293.8 L217.9,292.4 L218.4,294.0 L218.8,287.7 L219.2,293.3 L219.6,287.7 L220.1,290.6 L220.5,288.0 L221.0,287.7 L221.4,290.0 L221.9,287.7 L222.3,289.7 L222.8,290.0 L223.2,289.1 L223.7,290.4 L224.1,289.7 L224.6,290.0 L225.0,291.3 L225.5,291.0 L226.0,291.3 L226.4,289.7 L226.9,291.3 L227.3,289.4 L227.8,289.1 L228.2,291.3 L228.7,288.2 L229.1,290.0 L229.6,288.2 L230.0,290.0 L230.5,288.5 L231.0,288.2 L231.4,291.2 L231.9,288.3 L232.3,292.4 L232.8,289.5 L233.2,292.7 L233.7,291.4 L234.1,293.4 L234.6,293.0 L235.0,294.5 L235.5,294.5 L236.0,294.4 L236.5,297.8 L237.0,295.2 L237.5,297.5 L238.0,299.5 L238.5,300.8 L239.0,299.8 L239.5,302.5 L239.9,305.5 L240.4,303.7 L240.8,308.8 L241.2,308.8 L241.7,309.5 L242.1,313.8 L242.6,312.9 L243.0,316.2 L243.5,320.6 L244.0,320.4 L244.5,325.0 L245.0,329.7 L245.5,331.2 L246.0,328.5 L246.5,329.0 L247.0,326.2 L247.4,323.7 L247.9,322.3 L248.3,321.9 L248.8,321.2 L249.2,322.3 L249.6,321.1 L250.1,323.9 L250.5,323.8 L250.9,323.9 L251.4,327.5 L251.8,326.6 L252.2,328.8 L252.7,330.9 L253.1,332.6 L253.5,332.5 L254.0,329.0 L254.5,328.7 L255.0,326.2 L255.5,325.6 L256.0,323.3 L256.5,322.5 L257.0,322.5 L257.4,322.6 L257.9,321.2 L258.4,322.0 L258.8,321.3 L259.2,321.2 L259.7,321.1 L260.1,323.1 L260.5,322.0 L260.9,323.4 L261.3,323.0 L261.8,323.8 L262.2,324.2 L262.6,324.0 L263.0,324.6 L263.4,324.0 L263.8,325.1 L264.2,325.0 L264.7,324.9 L265.1,328.1 L265.6,327.5 L266.0,328.8 L266.5,329.6 L267.0,329.5 L267.5,331.0 L268.0,331.2 L268.4,332.6 L268.9,331.7 L269.3,333.9 L269.8,333.8 L270.2,331.7 L270.8,333.0 L271.2,329.9 L271.8,330.0 L272.2,330.1 L272.6,326.9 L273.0,328.8 L273.4,325.4 L273.8,327.0 L274.2,325.0 L274.7,325.1 L275.1,323.5 L275.5,323.4 L275.9,323.9 L276.3,321.1 L276.8,321.2 L277.2,320.9 L277.6,319.7 L278.0,320.7 L278.4,320.0 L278.8,317.4 L279.2,317.5 L279.7,317.6 L280.1,315.6 L280.5,315.1 L280.9,315.0 L281.3,316.1 L281.8,315.0 L282.2,314.9 L282.6,315.0 L283.0,316.4 L283.4,315.0 L283.8,316.4 L284.2,316.2 L284.7,315.6 L285.1,316.1 L285.5,315.4 L285.9,315.8 L286.3,314.9 L286.8,315.0 L287.2,315.1 L287.6,313.8 L288.0,314.1 L288.4,314.4 L288.8,313.6 L289.2,313.8 L289.8,315.9 L290.2,314.9 L290.8,318.7 L291.2,318.8 L291.7,318.0 L292.1,317.4 L292.6,316.9 L293.1,317.0 L293.5,316.2 L293.9,315.8 L294.3,316.2 L294.8,314.9 L295.2,316.2 L295.6,314.9 L296.0,315.0 L296.5,315.8 L297.0,314.9 L297.5,316.4 L298.0,316.2 L298.5,314.5 L299.0,315.3 L299.5,312.4 L300.0,312.5 L300.4,312.6 L300.8,310.3 L301.2,311.7 L301.7,309.2 L302.1,310.0 L302.5,308.8 L302.9,307.8 L303.3,308.9 L303.8,307.8 L304.2,308.2 L304.6,308.4 L305.0,307.5 L305.4,306.2 L305.8,307.0 L306.2,305.9 L306.7,306.0 L307.1,305.2 L307.5,305.0 L307.9,306.4 L308.4,307.4 L308.8,306.2 L309.2,308.8 L309.7,310.6 L310.1,309.6 L310.6,311.0 L311.0,311.2 L311.5,309.0 L312.0,307.8 L312.5,308.8 L313.0,307.5 L313.4,307.9 L313.8,307.4 L314.2,308.9 L314.7,307.7 L315.1,308.9 L315.5,308.8 L315.9,307.8 L316.3,308.9 L316.8,307.4 L317.2,308.6 L317.6,307.4 L318.0,307.5 L318.4,307.6 L318.8,307.4 L319.2,307.6 L319.7,307.4 L320.1,307.4 L320.5,307.5 L320.9,308.9 L321.3,307.4 L321.8,307.5 L322.2,308.0 L322.6,310.1 L323.0,310.0 L323.4,311.4 L323.8,309.9 L324.2,312.6 L324.7,312.4 L325.1,311.5 L325.5,312.5 L325.9,312.5 L326.3,311.1 L326.8,312.1 L327.2,310.0 L327.6,311.0 L328.0,310.0 L328.4,309.0 L328.8,310.1 L329.2,307.6 L329.7,309.2 L330.1,307.4 L330.5,307.5 L331.0,309.2 L331.5,310.2 L332.0,308.9 L332.5,311.2 L333.0,311.4 L333.5,308.6 L334.0,310.6 L334.5,308.8 L334.9,307.5 L335.4,307.9 L335.9,308.4 L336.3,307.3 L336.8,305.0 L337.2,304.4 L337.6,304.4 L338.0,303.4 L338.4,303.7 L338.8,303.4 L339.2,302.5 L339.7,302.3 L340.1,303.4 L340.5,302.6 L340.9,303.9 L341.3,303.0 L341.8,303.8 L342.2,304.5 L342.6,304.9 L343.0,303.7 L343.4,304.0 L343.8,304.0 L344.2,305.0 L344.7,305.2 L345.1,304.0 L345.5,304.0 L345.9,302.6 L346.3,303.5 L346.8,302.5 L347.2,302.7 L347.6,302.7 L348.0,301.4 L348.4,302.1 L348.8,302.3 L349.2,301.2 L349.7,301.1 L350.1,303.2 L350.5,302.4 L350.9,304.5 L351.3,305.0 L351.8,305.0 L352.2,304.8 L352.8,305.1 L353.2,307.6 L353.8,307.5 L354.2,305.5 L354.6,307.2 L355.1,304.1 L355.6,305.6 L356.0,303.8 L356.4,302.1 L356.8,303.3 L357.2,301.0 L357.7,302.9 L358.1,299.8 L358.5,300.0 L358.9,300.0 L359.3,298.6 L359.8,299.7 L360.2,297.5 L360.6,298.4 L361.0,297.5 L361.4,296.6 L361.8,297.1 L362.2,295.7 L362.7,296.2 L363.1,295.1 L363.5,295.0 L363.9,296.0 L364.3,295.1 L364.8,295.1 L365.2,297.7 L365.6,297.4 L366.0,297.5 L366.4,297.5 L366.8,296.1 L367.2,296.1 L367.7,297.5 L368.1,296.1 L368.5,296.2 L368.9,296.1 L369.3,297.4 L369.8,296.1 L370.2,297.7 L370.6,297.1 L371.0,297.5 L371.5,298.0 L372.0,297.3 L372.5,298.9 L373.0,298.8 L373.4,296.2 L373.9,295.8 L374.3,291.1 L374.8,291.2 L375.2,291.4 L375.6,288.0 L376.0,291.4 L376.4,287.3 L376.8,289.8 L377.2,287.5 L377.7,287.3 L378.2,288.8 L378.6,288.1 L379.1,288.4 L379.5,289.7 L380.0,289.5 L380.4,288.4 L380.8,289.6 L381.2,288.1 L381.7,289.5 L382.1,287.8 L382.5,288.0 L382.9,286.9 L383.3,288.2 L383.8,285.8 L384.2,288.1 L384.6,285.8 L385.0,286.0 L385.4,286.2 L385.8,284.7 L386.2,286.1 L386.7,284.4 L387.1,285.2 L387.5,284.5 L387.9,283.6 L388.3,284.7 L388.8,283.6 L389.2,284.2 L389.6,283.3 L390.0,283.5 L390.5,283.7 L391.0,282.8 L391.5,283.0 L392.0,284.5 L392.5,282.8 L393.0,285.2 L393.5,285.0 L393.9,285.2 L394.3,291.3 L394.8,291.5 L395.2,291.2 L395.7,291.4 L396.1,290.3 L396.6,290.3 L397.0,291.4 L397.5,290.5 L397.9,290.3 L398.3,290.3 L398.8,291.2 L399.2,290.3 L399.6,291.2 L400.0,291.0 L400.4,291.2 L400.8,289.3 L401.2,290.8 L401.7,288.9 L402.1,290.0 L402.5,289.0 L402.9,287.3 L403.3,286.1 L403.8,288.6 L404.2,284.8 L404.6,287.3 L405.0,285.0 L405.4,283.3 L405.8,285.0 L406.2,285.1 L406.7,281.1 L407.1,282.8 L407.5,281.2 L407.9,279.3 L408.3,280.3 L408.8,278.0 L409.2,278.7 L409.6,276.4 L410.0,276.2 L410.4,276.5 L410.8,274.1 L411.2,276.0 L411.7,273.6 L412.1,275.2 L412.5,273.8 L412.9,272.3 L413.3,273.5 L413.8,271.8 L414.2,273.0 L414.6,271.0 L415.0,271.2 L415.4,271.1 L415.8,270.1 L416.2,271.2 L416.7,268.5 L417.1,269.5 L417.5,268.8 L417.9,268.0 L418.3,268.9 L418.8,268.5 L419.2,266.0 L419.6,267.7 L420.0,266.2 L420.4,265.4 L420.8,266.0 L421.2,263.9 L421.7,265.7 L422.1,263.5 L422.5,263.8 L423.0,265.2 L423.5,266.2 L424.0,264.6 L424.5,266.2 L424.9,270.1 L425.4,268.7 L425.8,273.8 L426.2,275.0 L426.7,272.1 L427.1,268.6 L427.6,271.7 L428.0,267.5 L428.5,263.1 L429.0,267.7 L429.5,262.3 L430.0,261.2 L430.5,260.6 L431.0,260.7 L431.5,256.0 L432.0,256.2 L432.5,256.4 L433.0,252.1 L433.5,255.6 L434.0,251.2 L434.4,248.9 L434.9,248.5 L435.4,251.5 L435.8,248.5 L436.2,248.8 L436.7,249.5 L437.1,248.5 L437.5,250.3 L437.9,248.5 L438.3,250.3 L438.8,250.0 L439.2,249.7 L439.6,257.7 L440.1,254.7 L440.5,257.5 L441.0,260.9 L441.5,259.6 L442.0,267.5 L442.5,267.5 L443.0,267.2 L443.5,275.3 L444.0,275.0 L444.4,269.0 L444.9,265.6 L445.3,267.4 L445.8,263.8 L446.2,260.7 L446.6,261.4 L447.1,255.4 L447.5,255.0 L448.0,255.4 L448.5,252.1 L449.0,254.8 L449.5,252.5 L449.9,256.7 L450.4,252.1 L450.8,259.1 L451.2,258.8 L451.7,258.4 L452.1,270.2 L452.6,270.6 L453.0,272.5 L453.5,276.6 L454.0,274.0 L454.5,280.0 L454.9,280.3 L455.4,278.7 L455.8,268.4 L456.2,268.8 L456.7,274.4 L457.1,268.4 L457.6,275.3 L458.0,275.0 L458.5,275.0 L459.0,285.9 L459.5,280.4 L460.0,287.5 L460.4,291.0 L460.9,287.4 L461.3,292.8 L461.8,292.5 L462.2,287.7 L462.8,290.8 L463.2,288.1 L463.8,287.5 L464.2,291.8 L464.6,290.8 L465.0,295.0 L465.4,300.1 L465.8,298.7 L466.2,303.8 L466.7,304.0 L467.1,297.3 L467.6,297.4 L468.0,297.5 L468.5,293.9 L469.0,297.6 L469.5,295.3 L470.0,290.0 L470.5,287.5 L471.0,290.0 L471.5,288.0 L472.0,286.2 L472.5,286.3 L473.0,288.7 L473.5,287.1 L474.0,288.8 L474.5,293.3 L475.0,288.5 L475.5,295.3 L476.0,295.0 L476.5,295.0 L477.0,302.3 L477.5,299.1 L478.0,303.8 L478.5,305.2 L479.0,304.8 L479.5,306.2 L479.9,305.4 L480.4,300.3 L480.8,301.2 L481.2,297.5 L481.7,297.3 L482.1,300.2 L482.6,300.2 L483.0,300.0 L483.5,301.0 L484.0,303.7 L484.5,302.4 L485.0,306.2 L485.5,308.6 L486.0,316.2 L486.5,320.0 L487.0,322.7 L487.5,327.3 L488.0,330.0 L488.5,333.4 L489.0,335.2 L489.5,338.8 L490.0,341.0 L490.5,341.5 L491.0,343.8 L491.4,345.1 L491.9,344.6 L492.3,347.4 L492.8,347.5 L493.2,345.7 L493.6,346.6 L494.1,344.1 L494.5,343.8 L495.0,343.7 L495.5,342.5 L496.0,342.4 L496.5,342.5 L497.0,343.7 L497.5,344.4 L498.0,343.9 L498.5,345.0 L499.0,346.1 L499.5,345.6 L500.0,347.4 L500.5,347.5 L501.0,347.6 L501.5,349.3 L502.0,348.9 L502.5,350.0 L503.0,351.4 L503.5,351.2 L504.0,352.5 L504.5,351.8 L505.0,348.8 L505.5,349.9 L506.0,347.5 L506.5,346.7 L507.0,346.5 L507.5,345.3 L508.0,345.0 L508.5,345.0 L509.0,343.9 L509.5,344.4 L510.0,343.8 L510.5,343.9 L511.0,344.5 L511.5,345.1 L512.0,345.0 L512.5,343.9 L513.0,344.2 L513.5,342.7 L514.0,342.5 L514.5,343.0 L515.0,343.0 L515.5,343.6 L516.0,343.8 L516.5,343.2 L517.0,343.5 L517.5,342.5 L518.0,342.5 L518.5,342.3 L519.0,341.8 L519.5,339.9 L520.0,340.0 L520.5,340.1 L521.0,339.0 L521.5,339.4 L522.0,338.8 L522.5,338.8 L523.0,337.7 L523.5,338.4 L524.0,337.5 L524.4,337.6 L524.8,337.4 L525.2,337.6 L525.7,337.6 L526.1,337.4 L526.5,337.5 L526.9,337.6 L527.3,336.7 L527.8,337.3 L528.2,336.2 L528.6,336.9 L529.0,336.2 L529.4,336.1 L529.8,336.4 L530.2,336.1 L530.7,336.1 L531.1,336.4 L531.5,336.2 L531.9,336.1 L532.3,336.1 L532.8,336.1 L533.2,336.4 L533.6,336.1 L534.0,336.2 L534.4,336.4 L534.8,336.0 L535.2,334.3 L535.7,335.6 L536.1,333.6 L536.5,333.8 L537.0,334.6 L537.5,333.7 L538.0,335.1 L538.5,335.0 L539.0,335.1 L539.5,337.2 L540.0,336.1 L540.5,337.5 L541.0,337.2 L541.5,334.8 L542.0,335.2 L542.5,333.8 L543.0,332.7 L543.5,333.3 L544.0,331.2 L544.5,331.2 L545.0,331.2 L545.5,330.3 L546.0,329.9 L546.5,330.0 L547.0,330.1 L547.5,329.8 L548.0,328.7 L548.5,328.8 L549.0,330.3 L549.5,330.0 L550.0,332.3 L550.5,332.5 L551.0,332.6 L551.5,334.0 L552.0,334.6 L552.5,335.0 L553.0,335.2 L553.5,336.8 L554.0,337.4 L554.5,337.5 L555.0,337.7 L555.5,339.0 L556.0,339.2 L556.5,340.0 L557.0,340.1 L557.5,337.8 L558.0,338.7 L558.5,337.5 L559.0,338.7 L559.5,337.8 L560.0,338.6 L560.5,340.0 L561.0,340.1 L561.5,338.8 L562.0,339.3 L562.5,338.8 L563.0,338.7 L563.5,337.4 L564.0,338.5 L564.5,337.5 L565.0,337.4 L565.5,336.7 L566.0,336.1 L566.5,336.2 L566.9,336.4 L567.3,335.0 L567.8,334.9 L568.2,336.3 L568.6,334.9 L569.0,335.0 L569.4,334.1 L569.8,335.1 L570.2,333.6 L570.7,335.0 L571.1,334.2 L571.5,333.8 L571.9,333.3 L572.3,333.8 L572.8,332.6 L573.2,333.2 L573.6,332.4 L574.0,332.5 L574.4,332.6 L574.8,330.6 L575.2,331.7 L575.7,330.4 L576.1,329.9 L576.5,330.0 L576.9,330.1 L577.3,328.6 L577.8,330.1 L578.2,328.9 L578.6,329.2 L579.0,328.8 L579.4,327.8 L579.8,328.9 L580.2,327.9 L580.7,328.1 L581.1,327.4 L581.5,327.5 L582.0,329.3 L582.5,328.3 L583.0,329.8 L583.5,330.0 L584.0,329.0 L584.5,329.2 L585.0,327.7 L585.5,327.5 L586.0,327.6 L586.5,327.4 L587.0,327.4 L587.5,327.5 L588.0,328.5 L588.5,327.4 L589.0,328.9 L589.5,328.8 L590.0,328.6 L590.5,328.6 L591.0,328.9 L591.5,330.0 L592.0,330.1 L592.5,328.6 L593.0,328.6 L593.5,328.8 L594.0,329.7 L594.5,329.1 L595.0,329.9 L595.5,330.0 L596.0,329.9 L596.5,333.9 L597.0,333.8 L597.5,336.1 L598.0,336.4 L598.5,338.8 L599.0,339.7 L599.5,339.6 L600.0,341.2 L600.5,341.2 L601.0,340.1 L601.5,341.0 L602.0,338.6 L602.5,338.8 L603.0,339.3 L603.5,341.0 L604.0,340.6 L604.5,342.5 L605.0,342.5 L605.5,339.7 L606.0,338.9 L606.5,338.8 L607.0,338.9 L607.5,336.4 L608.0,337.5 L608.5,336.2 L609.0,337.5 L609.5,337.8 L610.0,337.9 L610.5,338.8 L611.0,338.7 L611.5,336.8 L612.0,337.8 L612.5,336.2 L613.0,335.2 L613.5,336.1 L614.0,334.9 L614.5,335.0 L615.0,335.1 L615.5,332.5 L616.0,333.9 L616.5,332.5 L617.0,331.1 L617.5,332.4 L618.0,329.9 L618.5,330.0 L619.0,330.1 L619.5,327.4 L620.0,329.0 L620.5,327.5 L621.0,326.0 L621.5,327.6 L622.0,324.9 L622.5,325.0 L623.0,325.1 L623.5,325.8 L624.0,325.6 L624.5,326.2 L625.0,326.9 L625.5,326.1 L626.0,327.6 L626.5,327.5 L627.0,327.9 L627.5,329.9 L628.0,329.1 L628.5,331.2 L629.0,332.7 L629.5,331.4 L630.0,333.9 L630.5,333.8 L631.0,333.7 L631.5,331.8 L632.0,332.5 L632.5,331.2 L633.0,330.5 L633.5,330.9 L634.0,330.1 L634.5,330.0 L635.0,330.1 L635.5,329.9 L636.0,330.1 L636.5,330.0 L637.0,328.9 L637.5,329.0 L638.0,329.4 L638.5,328.8 L639.0,328.1 L639.5,328.6 L640.0,327.4 L640.5,327.5 L641.0,327.6 L641.5,326.1 L642.0,327.2 L642.5,326.2 L643.0,326.4 L643.5,326.1 L644.0,326.1 L644.5,326.2 L645.0,327.0 L645.5,327.6 L646.0,326.3 L646.5,327.5 L647.0,328.6 L647.5,328.2 L648.0,328.7 L648.5,330.0 L649.0,330.0 L649.5,326.5 L650.0,328.6 L650.5,326.2 L651.0,325.9 L651.5,324.7 L652.0,324.6 L652.5,323.8 L653.0,323.1 L653.5,321.3 L654.0,321.4 L654.5,320.0 L655.0,318.8 L655.5,319.4 L656.0,317.3 L656.5,317.5 L657.0,317.7 L657.5,314.0 L658.0,313.6 L658.5,313.8 L659.0,313.7 L659.5,311.8 L660.0,312.4 L660.5,311.2 L661.0,310.5 L661.5,311.4 L662.0,309.8 L662.5,310.0 L663.0,310.2 L663.5,309.7 L664.0,307.3 L664.5,307.5 L665.0,305.2 L665.5,307.5 L666.0,303.6 L666.5,303.8 L667.0,303.6 L667.5,300.0 L668.0,298.5 L668.5,298.8 L669.0,301.3 L669.5,299.5 L670.0,302.5 L670.5,302.5 L671.0,302.3 L671.5,306.0 L672.0,304.3 L672.5,306.2 L673.0,306.2 L673.5,301.7 L674.0,304.3 L674.5,301.2 L675.0,299.6 L675.5,301.2 L676.0,298.6 L676.5,298.8 L677.0,300.8 L677.5,299.0 L678.0,301.4 L678.5,301.2 L679.0,299.4 L679.5,300.4 L680.0,297.3 L680.5,297.5 L681.0,299.2 L681.5,298.3 L682.0,299.7 L682.5,300.0 L683.0,299.8 L683.5,301.4 L684.0,301.4 L684.5,301.2 L685.0,296.8 L685.5,299.7 L686.0,295.0 L686.5,295.2 L687.0,292.4 L687.5,291.6 L688.0,291.2 L688.5,291.4 L689.0,287.4 L689.5,290.6 L690.0,287.5 L690.5,284.3 L691.0,287.5 L691.5,283.6 L692.0,283.8 L692.5,283.9 L693.0,281.3 L693.5,282.3 L694.0,281.2 L694.5,281.6 L695.0,285.2 L695.5,282.1 L696.0,285.0 L696.5,285.2 L697.0,282.3 L697.5,284.1 L698.0,282.5 L698.4,282.3 L698.8,283.8 L699.2,284.0 L699.6,281.0 L700.1,283.4 L700.5,281.2 L701.0,281.0 L701.5,281.0 L702.0,282.7 L702.5,282.5 L703.0,282.3 L703.5,282.4 L704.0,286.1 L704.5,286.2 L705.0,284.1 L705.5,285.1 L706.0,281.3 L706.5,281.2 L707.0,281.1 L707.5,279.4 L708.0,280.1 L708.5,278.8 L709.0,277.4 L709.5,279.0 L710.0,276.0 L710.5,276.2 L711.0,276.1 L711.5,274.5 L712.0,276.1 L712.5,273.8 L713.0,272.3 L713.5,274.0 L714.0,272.3 L714.5,272.5 L715.0,274.9 L715.5,272.6 L716.0,276.5 L716.5,276.2 L717.0,273.1 L717.5,274.4 L718.0,271.9 L718.5,271.2 L719.0,270.9 L719.5,267.7 L720.0,270.2 L720.5,266.2 L721.0,266.0 L721.5,269.0 L722.0,268.8 L722.5,269.1 L723.0,278.5 L723.5,281.2 L724.0,275.3 L724.5,273.9 L725.0,267.5 L725.5,261.7 L726.0,263.9 L726.5,256.2 L727.0,249.7 L727.5,252.7 L728.0,248.8 L728.5,246.8 L729.0,249.1 L729.5,246.2 L730.0,245.9 L730.5,254.1 L731.0,253.8 L731.5,258.8 L732.0,253.7 L732.5,258.8 L733.0,259.1 L733.5,254.7 L734.0,255.0 L734.5,255.3 L735.0,249.6 L735.5,250.0 L736.0,250.4 L736.5,247.5 L737.0,247.1 L737.5,247.5 L738.0,247.9 L738.5,244.6 L739.0,247.9 L739.5,245.0 L740.0,244.6 L740.5,249.0 L741.0,245.9 L741.5,248.8 L742.0,249.1 L742.5,245.9 L743.0,247.8 L743.5,246.2 L744.0,244.6 L744.5,246.6 L745.0,243.4 L745.5,243.8 L746.0,241.7 L746.5,243.1 L747.0,239.6 L747.5,240.0 L748.0,240.4 L748.5,239.6 L749.0,240.4 L749.5,240.0 L750.0,240.6 L750.5,244.2 L751.0,240.9 L751.5,246.2 L752.0,246.6 L752.5,241.0 L753.0,241.2 L753.5,240.9 L754.0,240.9 L754.5,242.9 L755.0,242.5 L755.5,242.1 L756.0,250.4 L756.5,250.0 L757.0,255.5 L757.5,271.2 L758.0,271.6 L758.5,263.4 L759.0,263.8 L759.5,263.4 L760.0,271.6 L760.5,271.2 L761.0,263.7 L761.5,268.2 L762.0,261.2 L762.5,254.6 L763.0,259.0 L763.5,252.5 L764.0,252.8 L764.5,246.0 L765.0,246.2 L765.5,250.3 L766.0,248.1 L766.5,253.5 L767.0,253.8 L767.5,254.1 L768.0,248.4 L768.5,252.3 L769.0,248.8 L769.5,248.4 L770.0,253.4 L770.5,253.8 L771.0,256.2 L771.5,262.4 L772.0,265.0 L772.5,266.4 L773.0,268.2 L773.5,272.5 L774.0,272.4 L774.5,274.1 L775.0,277.5 L775.5,280.9 L776.0,277.3 L776.5,282.5 L777.0,276.0 L777.5,280.7 L778.0,273.8 L778.5,267.4 L779.0,274.0 L779.5,267.5 L779.9,263.4 L780.4,267.8 L780.8,263.4 L781.2,263.8 L781.7,264.1 L782.1,264.1 L782.6,260.9 L783.0,261.2 L783.5,263.5 L784.0,260.9 L784.5,264.1 L785.0,263.8 L785.5,261.5 L786.0,260.9 L786.5,263.8 L787.0,261.2 L787.4,260.9 L787.9,261.6 L788.3,260.9 L788.8,261.2 L789.2,267.7 L789.6,265.7 L790.1,270.2 L790.5,276.2 L791.0,275.4 L791.5,273.6 L792.0,266.2 L792.5,259.6 L793.0,264.7 L793.5,258.8 L794.0,262.8 L794.5,259.7 L795.0,262.5 L795.5,262.8 L796.0,261.0 L796.5,262.8 L797.0,261.2 L797.5,261.0 L798.0,261.0 L798.5,263.5 L799.0,263.8 L799.5,263.7 L800.0,263.5 L800.5,263.1 L801.0,262.5 L801.5,262.3 L802.0,265.2 L802.5,263.0 L803.0,265.0 L803.5,267.5 L804.0,265.7 L804.5,267.5 L805.0,263.7 L805.5,257.5 L806.0,254.4 L806.5,246.8 L807.0,243.8 L807.5,240.0 L808.0,241.3 L808.5,237.5 L809.0,237.3 L809.5,239.0 L810.0,238.8 L810.5,238.2 L811.0,238.4 L811.5,237.5 L812.0,237.5 L812.5,237.5 L813.0,236.1 L813.5,237.2 L814.0,236.2 L814.5,232.2 L815.0,235.1 L815.5,228.5 L816.0,228.8 L816.5,229.0 L817.0,227.3 L817.5,227.5 L818.0,231.3 L818.5,229.9 L819.0,232.8 L819.5,233.8 L820.0,233.6 L820.5,236.9 L821.0,237.7 L821.5,237.5 L822.0,233.7 L822.5,235.2 L823.0,232.1 L823.5,231.2 L824.0,231.5 L824.5,226.8 L825.0,229.0 L825.5,226.2 L826.0,226.0 L826.5,226.5 L827.0,226.0 L827.5,226.2 L828.0,226.4 L828.5,224.2 L829.0,224.7 L829.5,223.8 L830.0,222.8 L830.5,224.0 L831.0,223.8 L831.5,221.2 L832.0,221.0 L832.5,222.7 L833.0,221.0 L833.5,222.5 L834.0,226.5 L834.5,223.4 L835.0,227.6 L835.5,227.5 L836.0,225.1 L836.5,227.3 L837.0,223.8 L837.5,223.8 L838.0,222.8 L838.5,219.0 L839.0,217.5 L839.5,214.8 L840.0,214.0 L840.5,211.2 L841.0,209.4 L841.5,211.5 L842.0,206.0 L842.5,206.2 L843.0,206.2 L843.5,205.9 L844.0,204.8 L844.5,205.0 L845.0,205.2 L845.5,201.7 L846.0,203.4 L846.5,201.2 L847.0,197.5 L847.5,194.1 L848.0,196.4 L848.5,193.0 L848.9,191.8 L849.2,192.0" fill="none" stroke="#ff0000" stroke-width="3.2" stroke-linejoin="round" stroke-linecap="round"/>
<path d="M68.9,296.5 L69.3,296.3 L69.7,300.2 L70.1,300.0 L70.5,296.1 L71.0,294.2 L71.4,296.9 L71.9,293.8 L72.3,291.1 L72.8,292.9 L73.3,288.2 L73.8,290.0 L74.2,286.4 L74.7,288.6 L75.2,285.0 L75.6,280.3 L76.0,282.5 L76.5,277.0 L76.9,280.8 L77.3,272.3 L77.8,272.5 L78.2,272.7 L78.6,271.6 L79.1,272.7 L79.5,271.0 L79.9,272.7 L80.3,271.0 L80.8,271.2 L81.2,271.5 L81.6,271.0 L82.0,271.5 L82.4,271.0 L82.9,271.5 L83.3,271.2 L83.7,269.3 L84.1,271.5 L84.6,266.0 L85.0,270.8 L85.4,266.0 L85.8,266.2 L86.3,266.5 L86.8,266.5 L87.4,266.5 L87.9,260.0 L88.3,256.0 L88.7,258.6 L89.1,256.2 L89.6,257.1 L90.0,264.0 L90.4,257.6 L90.8,263.8 L91.3,268.7 L91.8,266.9 L92.3,275.1 L92.8,275.0 L93.2,274.8 L93.6,281.1 L94.0,281.6 L94.5,285.0 L94.9,285.2 L95.3,282.3 L95.8,285.1 L96.2,282.5 L96.7,284.6 L97.2,295.0 L97.6,297.5 L98.1,299.5 L98.6,306.2 L99.1,303.8 L99.6,297.4 L100.2,295.0 L100.6,293.6 L101.1,291.3 L101.5,284.8 L102.0,285.0 L102.4,285.2 L102.9,277.3 L103.3,282.9 L103.8,277.5 L104.3,277.7 L104.8,277.7 L105.3,274.8 L105.8,275.0 L106.2,270.8 L106.6,274.4 L107.1,269.2 L107.5,274.9 L107.9,267.2 L108.4,267.5 L108.8,267.8 L109.2,266.2 L109.6,267.7 L110.0,266.0 L110.4,266.0 L110.9,266.2 L111.3,266.5 L111.7,262.2 L112.1,266.5 L112.6,262.2 L113.0,264.6 L113.4,262.5 L113.9,258.9 L114.3,262.8 L114.7,258.1 L115.2,257.4 L115.6,257.2 L116.0,257.5 L116.4,257.8 L116.9,253.4 L117.3,257.8 L117.7,253.4 L118.2,256.5 L118.6,253.8 L119.0,250.9 L119.5,254.1 L119.9,250.9 L120.3,254.1 L120.7,250.9 L121.2,251.2 L121.7,256.1 L122.2,250.9 L122.7,256.6 L123.2,256.2 L123.7,256.6 L124.2,249.6 L124.7,256.6 L125.3,250.0 L125.7,244.6 L126.2,250.4 L126.7,244.6 L127.1,250.4 L127.6,245.0 L128.0,244.6 L128.4,254.2 L128.8,245.4 L129.2,253.8 L129.7,261.6 L130.2,253.4 L130.7,261.6 L131.2,261.2 L131.6,260.9 L132.0,265.4 L132.4,260.9 L132.8,265.4 L133.2,261.4 L133.6,265.0 L134.1,272.9 L134.6,264.6 L135.1,267.3 L135.6,272.5 L136.0,276.5 L136.4,272.2 L136.8,280.3 L137.2,272.2 L137.6,280.3 L138.0,280.0 L138.5,276.1 L139.1,276.7 L139.6,276.6 L140.1,270.0 L140.6,264.3 L141.0,270.4 L141.5,260.9 L142.0,266.0 L142.4,261.2 L142.9,257.9 L143.3,261.6 L143.7,255.9 L144.1,260.1 L144.6,255.9 L145.0,256.2 L145.4,256.6 L145.8,253.6 L146.2,255.8 L146.7,255.1 L147.1,252.1 L147.5,252.5 L147.9,249.6 L148.4,252.9 L148.8,249.6 L149.3,250.0 L149.8,249.6 L150.2,259.6 L150.7,256.1 L151.2,260.0 L151.7,262.1 L152.2,260.6 L152.7,261.7 L153.2,263.8 L153.7,251.2 L154.2,262.8 L154.8,246.1 L155.3,243.8 L155.7,244.5 L156.1,252.3 L156.6,252.6 L157.0,257.5 L157.4,267.6 L157.8,257.1 L158.2,266.4 L158.6,267.5 L159.1,264.2 L159.7,260.1 L160.2,265.1 L160.7,260.0 L161.1,260.4 L161.5,257.8 L162.0,260.4 L162.4,257.1 L162.8,260.2 L163.2,257.5 L163.6,254.0 L164.1,254.7 L164.5,257.3 L164.9,253.4 L165.3,256.1 L165.7,253.8 L166.2,247.8 L166.6,254.1 L167.0,245.8 L167.5,245.8 L167.9,253.7 L168.3,246.2 L168.8,245.8 L169.3,251.7 L169.8,247.4 L170.3,251.2 L170.8,251.7 L171.3,251.7 L171.8,244.6 L172.3,245.0 L172.8,249.4 L173.3,244.6 L173.8,250.4 L174.3,250.0 L174.8,249.6 L175.2,257.9 L175.7,253.1 L176.2,257.5 L176.7,262.2 L177.2,257.1 L177.7,266.6 L178.1,266.2 L178.6,262.1 L179.2,266.6 L179.7,262.1 L180.2,262.5 L180.6,270.2 L181.0,270.4 L181.5,262.1 L181.9,270.4 L182.4,270.0 L182.8,269.7 L183.2,275.3 L183.6,269.7 L184.0,270.8 L184.4,275.3 L184.8,275.0 L185.3,270.3 L185.8,268.0 L186.4,272.9 L186.9,267.5 L187.3,267.1 L187.7,267.8 L188.2,269.3 L188.6,272.5 L189.1,280.3 L189.6,272.2 L190.0,280.3 L190.5,280.0 L190.9,284.1 L191.3,280.8 L191.7,285.5 L192.1,283.1 L192.5,287.8 L193.0,287.5 L193.4,291.9 L193.8,287.2 L194.3,292.4 L194.7,290.0 L195.2,292.5 L195.7,292.8 L196.2,282.3 L196.7,282.2 L197.2,282.5 L197.7,282.8 L198.1,277.1 L198.5,281.8 L199.0,281.1 L199.4,279.2 L199.8,275.0 L200.2,274.7 L200.6,277.8 L201.1,274.7 L201.5,277.8 L201.9,276.0 L202.3,277.5 L202.7,279.0 L203.1,277.6 L203.5,279.6 L203.9,277.2 L204.4,280.3 L204.8,280.0 L205.2,279.7 L205.6,282.8 L206.0,279.7 L206.4,282.8 L206.8,279.9 L207.2,282.5 L207.7,285.8 L208.1,285.8 L208.5,286.5 L208.9,283.1 L209.3,286.6 L209.7,286.2 L210.2,291.1 L210.7,287.6 L211.2,289.7 L211.6,295.0 L211.8,300.0 L212.2,307.5 L212.6,304.1 L212.9,313.8 L213.5,314.0 L214.0,306.7 L214.5,305.0 L215.0,304.6 L215.4,298.5 L215.9,304.1 L216.3,298.8 L216.9,294.0 L217.4,293.5 L217.9,299.0 L218.4,293.8 L218.8,289.3 L219.3,294.0 L219.7,287.7 L220.1,294.0 L220.6,287.7 L221.0,291.3 L221.4,288.0 L221.9,287.7 L222.3,290.7 L222.8,287.7 L223.3,291.3 L223.7,287.7 L224.2,291.3 L224.6,287.7 L225.1,291.3 L225.5,289.1 L226.0,291.3 L226.4,291.0 L226.9,288.9 L227.3,291.3 L227.8,288.2 L228.2,290.6 L228.7,289.3 L229.2,291.3 L229.6,288.2 L230.1,291.0 L230.5,288.2 L231.0,290.3 L231.4,288.5 L231.9,288.2 L232.3,292.5 L232.8,288.2 L233.2,292.1 L233.7,289.7 L234.1,294.8 L234.6,288.7 L235.0,294.8 L235.5,290.5 L235.9,294.8 L236.4,294.5 L236.9,297.8 L237.4,294.2 L237.9,295.2 L238.4,297.5 L238.8,301.5 L239.3,302.8 L239.8,297.7 L240.3,302.5 L240.7,307.5 L241.1,304.2 L241.6,308.4 L242.0,308.8 L242.4,309.3 L242.8,314.0 L243.2,316.5 L243.6,316.2 L244.1,316.1 L244.6,323.7 L245.0,325.0 L245.5,329.6 L246.0,331.2 L246.5,328.6 L247.0,328.9 L247.5,326.2 L247.9,322.4 L248.4,326.4 L248.8,321.1 L249.3,321.2 L249.7,323.5 L250.1,321.2 L250.5,322.0 L251.0,323.8 L251.4,323.6 L251.8,327.9 L252.2,328.9 L252.7,328.8 L253.1,328.6 L253.5,332.1 L253.9,332.5 L254.4,329.5 L254.9,330.4 L255.4,326.2 L255.9,323.6 L256.4,325.2 L256.9,324.1 L257.4,322.5 L257.9,321.9 L258.3,322.5 L258.8,321.3 L259.2,321.9 L259.7,321.2 L260.1,321.4 L260.5,322.5 L260.9,321.3 L261.3,321.8 L261.7,323.7 L262.2,323.8 L262.6,323.7 L263.0,325.1 L263.4,323.6 L263.8,325.1 L264.2,324.3 L264.6,325.0 L265.1,326.7 L265.5,326.0 L265.9,328.9 L266.4,328.8 L266.9,328.6 L267.4,331.4 L267.8,331.4 L268.3,331.2 L268.8,331.1 L269.2,333.4 L269.6,332.3 L270.1,333.8 L270.6,333.8 L271.1,330.6 L271.6,332.1 L272.1,330.0 L272.5,328.1 L272.9,329.6 L273.4,326.7 L273.8,327.4 L274.2,324.9 L274.6,325.0 L275.1,325.1 L275.5,321.8 L275.9,325.1 L276.3,321.8 L276.7,322.4 L277.2,321.2 L277.6,319.6 L278.0,321.3 L278.4,318.8 L278.8,319.3 L279.3,317.4 L279.7,317.5 L280.1,317.6 L280.5,315.1 L280.9,317.6 L281.4,315.2 L281.8,315.9 L282.2,315.0 L282.6,314.9 L283.0,316.4 L283.4,315.0 L283.9,315.3 L284.3,316.3 L284.7,316.2 L285.1,315.8 L285.5,316.1 L285.9,315.4 L286.4,316.4 L286.8,314.9 L287.2,315.0 L287.6,315.1 L288.0,313.9 L288.4,315.1 L288.9,313.6 L289.3,314.9 L289.7,313.8 L290.2,313.6 L290.7,318.9 L291.2,314.9 L291.7,318.8 L292.1,318.9 L292.6,316.9 L293.0,316.6 L293.5,317.3 L293.9,316.2 L294.3,315.0 L294.8,316.4 L295.2,315.1 L295.6,315.0 L296.0,315.8 L296.4,315.0 L296.9,314.9 L297.4,316.4 L297.9,315.3 L298.4,316.2 L298.9,316.3 L299.4,313.2 L299.9,314.9 L300.4,312.5 L300.9,310.8 L301.3,311.9 L301.7,310.0 L302.1,308.6 L302.5,311.2 L303.0,308.8 L303.4,307.4 L303.8,308.9 L304.2,307.6 L304.6,308.4 L305.1,307.4 L305.5,307.5 L305.9,307.6 L306.3,305.3 L306.7,307.7 L307.1,304.8 L307.6,306.5 L308.0,305.0 L308.4,305.0 L308.9,305.8 L309.3,308.9 L309.7,308.8 L310.1,308.6 L310.6,311.0 L311.0,309.7 L311.4,311.2 L312.0,310.9 L312.5,308.7 L313.0,310.1 L313.5,307.5 L313.9,307.4 L314.3,308.4 L314.7,307.6 L315.1,308.9 L315.5,307.8 L316.0,308.8 L316.4,308.9 L316.8,307.4 L317.2,308.8 L317.6,308.5 L318.1,307.4 L318.5,307.5 L318.9,307.6 L319.3,307.4 L319.7,307.6 L320.1,307.4 L320.6,307.6 L321.0,307.5 L321.4,307.4 L321.8,307.6 L322.2,310.1 L322.6,307.8 L323.0,310.1 L323.5,310.0 L323.9,309.9 L324.3,312.4 L324.7,309.9 L325.1,312.6 L325.5,311.2 L325.9,312.5 L326.4,312.4 L326.8,311.3 L327.2,312.2 L327.6,309.9 L328.0,311.9 L328.5,310.0 L328.9,308.1 L329.3,310.1 L329.7,310.1 L330.1,307.9 L330.6,308.2 L331.0,307.5 L331.5,309.9 L332.0,307.7 L332.5,309.4 L332.9,311.2 L333.5,311.3 L334.0,309.3 L334.5,310.0 L335.0,308.8 L335.4,306.9 L335.9,308.6 L336.3,305.6 L336.8,306.5 L337.2,305.0 L337.7,303.1 L338.1,305.2 L338.5,302.6 L338.9,304.4 L339.3,302.3 L339.8,302.5 L340.2,303.9 L340.6,302.3 L341.0,303.8 L341.4,302.4 L341.8,303.9 L342.2,303.8 L342.7,303.6 L343.1,303.6 L343.5,304.9 L343.9,304.0 L344.3,305.2 L344.7,305.0 L345.2,303.1 L345.6,302.7 L346.0,305.2 L346.4,302.5 L346.8,303.6 L347.3,302.5 L347.7,301.8 L348.1,302.7 L348.5,301.1 L348.9,302.7 L349.3,301.1 L349.8,301.2 L350.2,303.5 L350.6,303.1 L351.0,302.5 L351.4,305.2 L351.8,305.2 L352.2,305.0 L352.7,304.8 L353.2,307.7 L353.7,306.6 L354.2,307.5 L354.7,307.1 L355.1,303.7 L355.6,307.6 L356.0,303.6 L356.5,303.8 L356.9,303.9 L357.3,303.8 L357.8,300.5 L358.2,302.8 L358.6,299.8 L359.0,300.0 L359.4,300.2 L359.9,298.3 L360.3,299.7 L360.7,297.5 L361.1,298.9 L361.5,297.5 L362.0,296.1 L362.4,297.0 L362.8,295.9 L363.2,296.6 L363.6,294.8 L364.0,295.0 L364.5,294.8 L364.9,297.7 L365.3,295.1 L365.7,297.7 L366.1,296.6 L366.5,297.5 L366.9,296.9 L367.4,297.7 L367.8,296.1 L368.2,297.7 L368.6,296.1 L369.0,296.2 L369.5,297.4 L369.9,297.7 L370.3,297.7 L370.7,296.1 L371.1,297.7 L371.5,297.5 L372.0,297.3 L372.5,298.9 L373.0,297.3 L373.5,298.8 L374.0,298.3 L374.4,293.3 L374.9,291.1 L375.3,291.2 L375.7,291.4 L376.2,288.2 L376.6,291.3 L377.0,287.3 L377.4,290.6 L377.8,287.5 L378.3,287.3 L378.8,287.3 L379.2,289.5 L379.7,287.9 L380.1,289.6 L380.6,289.5 L381.0,288.8 L381.4,289.4 L381.8,288.3 L382.3,289.7 L382.7,287.8 L383.1,288.0 L383.5,288.0 L383.9,287.0 L384.3,288.2 L384.8,285.8 L385.2,287.3 L385.6,286.0 L386.0,284.9 L386.4,286.2 L386.9,284.3 L387.3,286.2 L387.7,284.3 L388.1,284.5 L388.5,284.7 L388.9,283.4 L389.4,284.7 L389.8,283.3 L390.2,283.3 L390.6,283.5 L391.1,283.7 L391.6,283.7 L392.1,283.0 L392.6,282.8 L393.1,284.8 L393.6,283.8 L394.1,285.0 L394.5,288.8 L394.9,287.8 L395.3,291.5 L395.8,291.6 L396.2,290.8 L396.7,291.7 L397.2,290.3 L397.6,291.0 L398.1,290.5 L398.5,290.3 L398.9,291.0 L399.3,290.4 L399.7,291.2 L400.2,290.3 L400.6,291.0 L401.0,291.2 L401.4,288.8 L401.8,291.2 L402.2,288.8 L402.7,289.9 L403.1,289.0 L403.5,287.5 L403.9,288.7 L404.3,285.9 L404.8,288.1 L405.2,284.8 L405.6,285.0 L406.0,285.2 L406.4,281.8 L406.9,285.0 L407.3,281.1 L407.7,282.6 L408.1,281.2 L408.5,279.5 L409.0,281.4 L409.4,276.0 L409.8,276.0 L410.2,276.0 L410.7,276.2 L411.1,276.5 L411.5,273.5 L411.9,276.5 L412.3,273.5 L412.7,273.5 L413.2,273.8 L413.6,274.0 L414.0,274.0 L414.4,271.0 L414.8,274.0 L415.3,271.0 L415.7,271.2 L416.1,271.5 L416.5,268.5 L416.9,268.5 L417.4,271.5 L417.8,268.6 L418.2,268.8 L418.6,267.8 L419.0,269.0 L419.5,269.0 L419.9,266.5 L420.3,267.1 L420.7,266.2 L421.1,265.5 L421.5,265.9 L422.0,263.5 L422.4,266.5 L422.8,263.5 L423.2,263.8 L423.7,266.1 L424.2,263.5 L424.7,266.5 L425.2,266.2 L425.6,266.0 L426.1,274.8 L426.5,269.0 L426.9,275.0 L427.4,275.2 L427.8,269.2 L428.3,267.5 L428.7,267.5 L429.2,267.7 L429.7,267.7 L430.2,261.0 L430.7,261.2 L431.2,261.5 L431.8,256.0 L432.3,261.5 L432.8,256.2 L433.3,251.4 L433.8,256.5 L434.3,251.0 L434.9,251.2 L435.3,251.5 L435.8,248.5 L436.2,248.5 L436.7,250.0 L437.2,248.8 L437.6,248.5 L438.0,250.0 L438.4,248.5 L438.9,250.3 L439.3,248.8 L439.7,250.0 L440.1,249.7 L440.6,257.8 L441.0,254.1 L441.5,257.5 L441.9,261.5 L442.4,259.5 L442.9,267.6 L443.4,267.5 L443.9,267.2 L444.4,275.3 L444.9,275.0 L445.4,269.1 L445.8,273.0 L446.3,272.8 L446.8,263.8 L447.2,255.0 L447.7,261.1 L448.1,255.7 L448.6,255.0 L449.1,252.1 L449.6,255.4 L450.1,252.1 L450.7,252.5 L451.1,252.1 L451.5,259.1 L451.9,252.1 L452.4,258.8 L452.8,266.4 L453.2,261.0 L453.6,272.2 L454.0,272.5 L454.5,272.2 L455.0,280.3 L455.4,280.0 L455.9,273.3 L456.4,270.2 L456.8,275.3 L457.3,268.8 L457.7,268.4 L458.1,274.6 L458.6,269.1 L459.0,275.0 L459.5,282.3 L459.9,285.3 L460.4,281.0 L460.9,287.5 L461.3,292.8 L461.7,292.8 L462.2,290.3 L462.6,292.5 L463.1,292.2 L463.6,287.2 L464.1,287.2 L464.6,287.5 L465.0,287.2 L465.4,295.3 L465.8,295.0 L466.2,294.8 L466.6,297.6 L467.0,303.8 L467.4,304.0 L467.9,297.3 L468.3,301.7 L468.8,297.5 L469.3,292.8 L469.8,297.8 L470.3,289.7 L470.9,290.0 L471.4,286.0 L471.9,286.0 L472.4,286.0 L472.9,286.2 L473.4,288.9 L473.9,286.0 L474.4,289.0 L474.9,288.8 L475.4,288.5 L475.8,295.2 L476.3,292.2 L476.8,295.0 L477.3,298.4 L477.8,294.8 L478.3,304.0 L478.7,303.8 L479.2,303.5 L479.7,306.5 L480.2,306.2 L480.7,299.8 L481.1,306.5 L481.6,297.3 L482.0,297.5 L482.5,300.2 L482.9,297.3 L483.3,300.2 L483.8,300.0 L484.3,299.8 L484.7,306.5 L485.2,302.2 L485.7,306.2 L486.2,313.3 L486.6,317.8 L487.1,320.0 L487.6,321.2 L488.0,328.8 L488.5,330.0 L489.0,331.0 L489.4,334.4 L489.9,338.8 L490.4,341.7 L490.9,340.3 L491.3,343.8 L491.8,346.1 L492.2,345.0 L492.6,346.1 L493.0,347.5 L493.5,347.6 L493.9,343.7 L494.4,346.4 L494.8,343.8 L495.3,342.6 L495.8,343.3 L496.3,342.6 L496.8,342.5 L497.3,344.1 L497.8,342.7 L498.3,344.6 L498.8,345.0 L499.3,345.4 L499.8,346.9 L500.3,346.4 L500.8,347.5 L501.3,348.9 L501.8,349.6 L502.3,350.1 L502.7,350.0 L503.2,350.0 L503.7,352.1 L504.2,352.5 L504.7,351.8 L505.2,348.5 L505.8,350.1 L506.3,347.5 L506.8,346.3 L507.3,346.9 L507.8,345.0 L508.3,345.0 L508.8,345.1 L509.3,344.2 L509.8,344.2 L510.3,343.8 L510.8,343.7 L511.3,345.1 L511.8,343.9 L512.3,345.0 L512.8,345.1 L513.3,342.8 L513.8,343.9 L514.3,342.5 L514.8,342.4 L515.3,343.8 L515.8,343.8 L516.3,343.8 L516.8,342.8 L517.3,342.4 L517.8,343.7 L518.3,342.5 L518.8,340.8 L519.3,342.5 L519.8,339.9 L520.3,340.0 L520.8,340.1 L521.3,338.6 L521.8,339.8 L522.4,338.8 L522.9,337.4 L523.4,337.4 L523.9,338.5 L524.4,337.5 L524.8,337.4 L525.2,337.6 L525.6,337.4 L526.0,337.6 L526.4,337.4 L526.9,337.5 L527.3,337.6 L527.7,336.2 L528.1,337.5 L528.5,336.1 L529.0,336.1 L529.4,336.2 L529.8,336.4 L530.2,336.1 L530.6,336.4 L531.0,336.1 L531.5,336.4 L531.9,336.2 L532.3,336.4 L532.7,336.1 L533.1,336.4 L533.5,336.1 L534.0,336.4 L534.4,336.2 L534.8,335.6 L535.2,336.2 L535.6,334.1 L536.1,334.3 L536.5,334.4 L536.9,333.8 L537.4,333.6 L537.9,333.6 L538.4,335.0 L538.9,335.0 L539.4,335.3 L539.9,337.6 L540.4,335.7 L540.9,337.5 L541.4,335.8 L541.9,336.5 L542.4,333.6 L542.9,333.8 L543.4,333.9 L543.9,333.4 L544.4,331.1 L544.9,331.2 L545.4,331.4 L545.9,329.9 L546.4,329.9 L546.9,330.0 L547.4,330.1 L547.9,329.0 L548.4,328.7 L548.9,328.8 L549.4,330.3 L549.9,329.9 L550.4,330.6 L550.9,332.5 L551.4,332.4 L551.9,334.2 L552.4,334.0 L552.9,335.0 L553.4,337.0 L553.9,334.9 L554.4,337.4 L554.9,337.5 L555.4,337.6 L555.9,340.1 L556.3,338.0 L556.8,340.0 L557.3,340.1 L557.9,337.4 L558.4,338.6 L558.9,337.5 L559.4,338.6 L559.9,338.2 L560.3,339.8 L560.8,340.0 L561.3,339.1 L561.8,340.1 L562.3,338.6 L562.9,338.8 L563.4,337.6 L563.9,337.8 L564.4,338.1 L564.9,337.5 L565.4,336.1 L565.9,337.6 L566.4,336.3 L566.9,336.2 L567.3,336.3 L567.7,336.4 L568.1,334.9 L568.6,335.7 L569.0,335.0 L569.4,335.0 L569.8,334.0 L570.2,335.1 L570.6,335.1 L571.1,333.6 L571.5,334.3 L571.9,333.8 L572.3,333.2 L572.7,333.9 L573.2,332.4 L573.6,333.3 L574.0,332.4 L574.4,332.5 L574.8,332.6 L575.3,332.6 L575.7,330.1 L576.1,329.9 L576.5,329.9 L576.9,330.0 L577.4,330.1 L577.8,329.2 L578.2,329.8 L578.6,328.6 L579.0,329.7 L579.4,328.8 L579.9,328.2 L580.3,328.8 L580.7,327.8 L581.1,328.3 L581.5,328.0 L582.0,327.5 L582.5,328.6 L582.9,330.1 L583.4,328.2 L583.9,330.0 L584.4,330.1 L584.9,330.1 L585.5,327.4 L586.0,327.5 L586.5,327.6 L587.0,327.4 L587.5,327.4 L588.0,327.5 L588.5,328.7 L589.0,327.4 L589.4,328.9 L589.9,328.8 L590.4,328.6 L590.9,329.8 L591.4,329.3 L591.9,330.0 L592.4,330.1 L592.9,328.6 L593.4,328.6 L593.9,328.8 L594.4,329.9 L594.9,328.6 L595.4,330.1 L595.9,330.0 L596.4,333.0 L596.9,330.8 L597.4,333.8 L597.9,337.5 L598.4,335.1 L598.9,338.8 L599.3,340.8 L599.8,338.6 L600.3,341.1 L600.8,341.2 L601.3,340.2 L601.8,338.7 L602.3,340.5 L602.9,338.8 L603.3,338.6 L603.8,342.2 L604.3,341.2 L604.8,342.5 L605.3,341.9 L605.8,339.5 L606.3,340.7 L606.9,338.8 L607.4,337.7 L607.9,338.0 L608.4,336.4 L608.9,336.2 L609.4,336.4 L609.9,338.1 L610.4,338.6 L610.9,338.8 L611.4,337.0 L611.9,336.2 L612.4,338.3 L612.9,336.2 L613.4,334.9 L613.9,335.9 L614.4,335.0 L614.9,335.0 L615.4,333.4 L615.9,334.9 L616.4,332.4 L616.9,332.5 L617.4,332.6 L617.9,332.6 L618.4,332.2 L618.9,330.0 L619.4,327.8 L619.9,330.1 L620.5,327.7 L621.0,327.5 L621.5,327.3 L622.0,325.6 L622.5,325.0 L623.0,325.0 L623.5,326.1 L624.0,324.9 L624.5,326.4 L625.0,326.2 L625.5,326.1 L626.0,327.6 L626.5,326.6 L627.0,327.5 L627.4,330.9 L627.9,331.4 L628.4,328.1 L628.9,331.2 L629.4,333.5 L629.9,331.4 L630.4,333.9 L630.9,333.8 L631.4,331.6 L631.9,333.9 L632.4,331.1 L632.9,331.2 L633.4,331.4 L633.9,329.9 L634.4,331.2 L634.9,330.0 L635.4,329.9 L635.9,330.1 L636.4,329.9 L636.9,330.0 L637.4,330.1 L637.9,330.1 L638.4,328.6 L638.9,328.8 L639.4,327.6 L640.0,328.9 L640.5,328.9 L641.0,327.5 L641.5,326.1 L642.0,327.3 L642.5,326.2 L643.0,326.2 L643.5,326.4 L644.0,326.4 L644.5,326.1 L645.0,326.2 L645.5,327.0 L646.0,327.3 L646.5,326.8 L647.0,327.5 L647.5,329.2 L647.9,327.5 L648.4,327.6 L648.9,330.0 L649.4,330.1 L650.0,329.4 L650.5,326.1 L651.0,326.2 L651.5,326.4 L652.0,323.9 L652.5,325.1 L653.0,323.8 L653.5,321.8 L654.0,323.9 L654.5,319.8 L655.0,320.0 L655.5,320.2 L656.0,317.7 L656.5,320.0 L657.0,317.5 L657.6,314.0 L658.1,316.9 L658.6,313.6 L659.1,313.8 L659.6,313.9 L660.1,311.3 L660.6,313.9 L661.1,311.2 L661.6,309.8 L662.1,311.4 L662.6,309.8 L663.1,310.0 L663.6,310.2 L664.1,307.3 L664.6,308.8 L665.1,307.5 L665.6,305.7 L666.1,306.4 L666.6,304.0 L667.1,303.8 L667.6,303.9 L668.1,298.5 L668.6,303.2 L669.1,298.8 L669.6,298.5 L670.1,298.6 L670.6,302.7 L671.1,302.5 L671.6,305.6 L672.1,302.3 L672.6,303.7 L673.1,306.2 L673.6,306.4 L674.1,301.1 L674.6,305.4 L675.1,301.2 L675.6,299.3 L676.1,301.4 L676.6,298.6 L677.1,298.8 L677.6,301.4 L678.1,298.8 L678.6,301.4 L679.1,301.2 L679.6,299.2 L680.1,300.6 L680.6,297.3 L681.1,297.5 L681.6,300.2 L682.1,297.9 L682.6,300.1 L683.1,300.0 L683.6,300.0 L684.1,301.0 L684.5,300.4 L685.0,301.2 L685.6,300.4 L686.1,294.8 L686.6,295.0 L687.1,295.2 L687.6,291.8 L688.1,293.3 L688.6,291.2 L689.1,289.3 L689.6,290.5 L690.1,287.3 L690.6,287.5 L691.1,287.7 L691.6,283.6 L692.1,287.1 L692.6,283.8 L693.1,282.4 L693.6,283.3 L694.1,281.1 L694.6,281.2 L695.1,284.3 L695.6,281.6 L696.1,285.2 L696.6,285.0 L697.1,282.3 L697.6,282.3 L698.1,284.3 L698.6,282.5 L699.0,282.3 L699.4,283.8 L699.8,284.0 L700.3,281.0 L700.7,282.7 L701.2,281.2 L701.7,281.0 L702.2,282.7 L702.7,281.3 L703.2,282.5 L703.6,286.4 L704.1,282.3 L704.6,286.5 L705.1,286.2 L705.6,281.0 L706.2,286.5 L706.7,281.0 L707.2,281.2 L707.7,281.5 L708.2,278.5 L708.7,280.7 L709.2,278.8 L709.7,276.8 L710.2,276.0 L710.7,278.6 L711.2,276.2 L711.7,273.5 L712.2,276.5 L712.7,273.5 L713.2,273.8 L713.7,274.0 L714.2,272.3 L714.7,273.6 L715.2,272.5 L715.7,272.3 L716.2,272.3 L716.8,276.5 L717.3,276.2 L717.8,271.4 L718.3,276.5 L718.8,276.5 L719.3,271.2 L719.9,267.8 L720.4,271.4 L720.9,266.0 L721.4,266.2 L721.9,269.0 L722.4,266.2 L722.9,268.8 L723.4,275.0 L723.9,281.5 L724.4,281.2 L724.9,270.3 L725.5,276.8 L726.0,267.5 L726.5,258.6 L727.1,257.8 L727.6,256.2 L728.1,256.0 L728.6,248.4 L729.1,248.8 L729.7,249.1 L730.2,245.9 L730.7,246.2 L731.1,250.7 L731.6,245.9 L732.1,253.8 L732.6,259.1 L733.1,259.0 L733.6,258.8 L734.1,255.6 L734.6,259.1 L735.1,255.0 L735.6,249.7 L736.1,253.9 L736.6,250.0 L737.1,248.0 L737.6,250.4 L738.1,247.1 L738.6,247.5 L739.2,247.9 L739.7,244.6 L740.2,247.9 L740.7,245.0 L741.2,244.6 L741.6,244.6 L742.1,244.6 L742.6,248.8 L743.1,249.1 L743.6,245.9 L744.1,249.1 L744.6,246.2 L745.2,243.4 L745.7,246.6 L746.2,243.4 L746.7,243.8 L747.2,244.1 L747.7,239.6 L748.2,242.2 L748.7,240.0 L749.2,239.6 L749.7,240.4 L750.2,239.6 L750.7,240.0 L751.2,239.6 L751.7,246.6 L752.1,239.6 L752.6,246.2 L753.1,246.6 L753.7,240.9 L754.2,241.2 L754.7,242.9 L755.2,240.9 L755.7,242.9 L756.2,242.5 L756.6,242.2 L757.1,244.8 L757.6,250.0 L758.0,259.2 L758.4,271.2 L759.0,270.0 L759.5,263.4 L760.0,263.8 L760.5,271.6 L761.0,263.4 L761.4,271.2 L762.0,271.6 L762.5,260.9 L763.0,261.2 L763.5,261.6 L764.1,252.2 L764.6,252.5 L765.1,252.8 L765.6,252.8 L766.1,246.2 L766.6,253.5 L767.1,247.7 L767.6,253.8 L768.1,253.8 L768.6,250.8 L769.1,253.2 L769.6,248.4 L770.1,248.8 L770.6,254.1 L771.1,248.4 L771.6,253.8 L772.0,261.7 L772.5,258.5 L773.0,265.0 L773.5,270.1 L773.9,272.8 L774.4,272.5 L774.9,277.8 L775.4,272.3 L775.9,277.5 L776.4,277.2 L776.9,282.8 L777.3,282.5 L777.9,275.7 L778.4,273.5 L778.9,273.8 L779.4,267.2 L779.9,272.7 L780.4,267.5 L780.9,267.8 L781.3,263.4 L781.8,267.3 L782.2,263.8 L782.7,260.9 L783.1,264.1 L783.5,260.9 L784.0,261.2 L784.5,264.1 L785.0,260.9 L785.5,260.9 L786.0,263.8 L786.5,264.1 L787.0,260.9 L787.5,264.1 L788.0,261.2 L788.4,260.9 L788.9,261.6 L789.3,260.9 L789.7,261.2 L790.1,266.5 L790.6,267.1 L791.0,275.0 L791.4,276.2 L791.9,270.2 L792.4,274.7 L792.9,266.2 L793.4,258.5 L793.9,263.2 L794.5,258.8 L794.9,261.9 L795.4,262.8 L795.9,262.5 L796.4,261.0 L796.9,262.8 L797.3,262.8 L797.8,261.2 L798.3,261.0 L798.8,264.0 L799.3,261.0 L799.8,263.8 L800.2,262.3 L800.7,264.0 L801.2,262.3 L801.7,262.5 L802.2,264.1 L802.7,262.7 L803.2,265.2 L803.6,265.0 L804.1,267.0 L804.6,264.8 L805.1,267.5 L805.6,265.9 L806.1,257.5 L806.6,250.7 L807.1,250.6 L807.6,243.8 L808.1,238.8 L808.7,242.5 L809.2,237.5 L809.7,237.3 L810.2,237.3 L810.7,238.8 L811.2,237.3 L811.7,239.0 L812.2,238.4 L812.7,237.5 L813.2,237.7 L813.7,236.2 L814.2,237.1 L814.7,236.2 L815.2,231.9 L815.7,235.4 L816.2,228.6 L816.7,228.8 L817.2,229.0 L817.7,227.3 L818.2,227.5 L818.7,231.7 L819.2,227.3 L819.7,229.2 L820.1,233.8 L820.6,236.0 L821.1,234.2 L821.6,237.6 L822.1,237.5 L822.6,234.7 L823.1,231.0 L823.6,236.3 L824.2,231.2 L824.7,226.7 L825.2,231.5 L825.7,226.0 L826.2,226.2 L826.7,226.5 L827.2,226.0 L827.7,226.0 L828.2,226.2 L828.7,226.5 L829.2,223.5 L829.7,226.4 L830.2,223.8 L830.7,221.1 L831.2,223.9 L831.7,223.1 L832.2,221.2 L832.7,221.0 L833.2,222.7 L833.7,221.5 L834.2,222.5 L834.7,225.1 L835.1,227.1 L835.6,224.4 L836.1,227.5 L836.6,227.7 L837.1,223.5 L837.6,225.9 L838.1,223.8 L838.6,220.0 L839.2,221.9 L839.7,217.5 L840.2,213.0 L840.7,216.3 L841.2,211.2 L841.7,207.2 L842.2,207.4 L842.7,208.6 L843.2,206.2 L843.7,204.8 L844.2,204.8 L844.7,206.5 L845.2,205.0 L845.7,201.0 L846.2,201.0 L846.7,201.0 L847.2,201.2 L847.7,197.5 L848.2,197.7 L848.7,196.9 L849.2,193.0 L849.2,191.8 L849.2,192.0" fill="none" stroke="#ff0000" stroke-width="2.2" stroke-linejoin="round" stroke-linecap="round"/>
<path d="M68.2,296.5 L68.9,296.7 L69.5,300.0 L70.1,299.3 L70.7,292.6 L71.2,293.8 L71.9,294.9 L72.5,285.5 L73.2,293.3 L73.8,283.7 L74.5,285.0 L75.1,277.4 L75.8,285.0 L76.4,271.1 L77.0,272.5 L77.6,271.1 L78.2,273.4 L78.8,269.8 L79.4,273.3 L80.0,271.2 L80.6,269.8 L81.2,272.7 L81.9,269.8 L82.5,271.2 L83.1,272.7 L83.8,266.8 L84.4,265.8 L85.0,266.2 L85.7,267.8 L86.3,267.9 L87.0,260.0 L87.6,254.6 L88.2,256.2 L88.8,254.6 L89.4,254.6 L90.0,263.8 L90.7,274.5 L91.3,268.8 L92.0,275.0 L92.6,280.6 L93.2,273.6 L93.8,285.0 L94.3,286.4 L94.9,281.1 L95.5,282.5 L96.2,297.1 L97.0,297.5 L97.5,296.4 L98.0,306.2 L98.8,307.4 L99.5,295.0 L100.1,287.5 L100.7,292.6 L101.2,285.0 L101.8,276.1 L102.4,286.4 L103.0,277.5 L103.7,273.5 L104.3,273.5 L105.0,275.0 L105.6,276.5 L106.2,276.6 L106.9,265.9 L107.5,267.5 L108.1,269.1 L108.8,265.7 L109.4,267.6 L110.0,266.2 L110.6,260.8 L111.2,267.9 L111.9,260.8 L112.5,262.5 L113.1,264.3 L113.8,264.3 L114.4,255.6 L115.0,257.5 L115.6,251.8 L116.2,251.8 L116.9,259.5 L117.5,253.8 L118.1,249.2 L118.8,249.1 L119.4,255.9 L120.0,251.2 L120.7,258.4 L121.3,249.1 L122.0,256.2 L122.7,258.5 L123.3,247.7 L124.0,250.0 L124.6,252.4 L125.1,242.6 L125.7,252.5 L126.2,245.0 L126.8,242.6 L127.4,256.1 L128.0,253.8 L128.7,251.4 L129.3,263.5 L130.0,261.2 L130.6,259.0 L131.2,259.0 L131.9,267.2 L132.5,265.0 L133.2,262.9 L133.8,274.6 L134.5,272.5 L135.1,270.5 L135.8,271.3 L136.4,282.0 L137.0,280.0 L137.7,271.9 L138.3,275.8 L139.0,270.0 L139.6,265.4 L140.1,259.1 L140.7,259.1 L141.2,261.2 L141.9,263.5 L142.5,254.0 L143.1,260.9 L143.8,256.2 L144.4,252.5 L145.0,256.3 L145.6,251.7 L146.2,252.5 L146.8,254.9 L147.4,247.6 L148.0,250.0 L148.7,256.0 L149.3,254.0 L150.0,260.0 L150.7,266.0 L151.3,257.8 L152.0,263.8 L152.7,266.0 L153.3,241.3 L154.0,243.8 L154.6,254.8 L155.2,246.7 L155.8,257.5 L156.3,269.7 L156.9,255.3 L157.5,267.5 L158.2,269.1 L158.8,258.3 L159.5,260.0 L160.1,262.3 L160.8,255.2 L161.4,262.3 L162.0,257.5 L162.6,251.4 L163.2,251.4 L163.9,259.8 L164.5,253.8 L165.1,243.9 L165.8,256.2 L166.4,243.8 L167.0,246.2 L167.7,253.7 L168.3,253.7 L169.0,251.2 L169.7,243.5 L170.3,253.7 L171.0,245.0 L171.7,242.5 L172.3,244.2 L173.0,250.0 L173.7,256.5 L174.3,259.8 L175.0,257.5 L175.7,255.3 L176.3,268.4 L177.0,266.2 L177.7,260.3 L178.3,268.4 L179.0,262.5 L179.6,260.3 L180.1,272.2 L180.7,260.7 L181.2,270.0 L181.9,277.1 L182.5,268.0 L183.1,277.0 L183.8,275.0 L184.4,265.5 L185.1,277.1 L185.8,267.5 L186.3,265.4 L186.9,274.6 L187.5,272.5 L188.2,270.5 L188.8,282.0 L189.5,280.0 L190.1,288.5 L190.8,278.9 L191.4,289.3 L192.0,287.5 L192.6,286.6 L193.1,287.6 L193.7,294.2 L194.2,292.5 L194.9,280.7 L195.6,294.3 L196.2,282.5 L196.9,273.1 L197.5,284.4 L198.1,273.0 L198.8,275.0 L199.4,279.5 L200.0,273.0 L200.6,279.5 L201.2,277.5 L201.9,275.5 L202.5,280.9 L203.1,277.5 L203.8,280.0 L204.4,284.4 L205.0,278.1 L205.6,284.4 L206.2,282.5 L206.9,280.6 L207.5,288.1 L208.1,280.9 L208.8,286.2 L209.4,296.8 L210.1,284.5 L210.8,295.0 L211.0,300.0 L211.6,312.9 L212.2,313.8 L213.0,303.6 L213.8,305.0 L214.3,306.5 L214.9,297.2 L215.5,298.8 L216.2,300.4 L216.8,292.1 L217.5,293.8 L218.1,295.5 L218.7,286.3 L219.3,295.0 L219.9,293.1 L220.5,288.0 L221.1,286.2 L221.8,292.8 L222.4,291.0 L223.0,287.5 L223.6,291.0 L224.2,289.2 L224.9,286.9 L225.5,291.0 L226.1,292.7 L226.8,288.6 L227.4,292.1 L228.0,288.3 L228.6,290.8 L229.2,286.7 L229.9,292.4 L230.5,288.5 L231.1,286.7 L231.8,295.0 L232.4,286.8 L233.0,296.2 L233.6,289.0 L234.2,295.9 L234.9,290.1 L235.5,294.5 L236.2,299.2 L236.8,292.9 L237.5,297.5 L238.2,304.1 L238.8,295.9 L239.5,302.5 L240.1,310.0 L240.7,305.0 L241.2,308.8 L241.8,312.8 L242.4,312.2 L243.0,316.2 L243.8,322.1 L244.5,325.0 L245.0,326.4 L245.5,331.2 L246.2,330.4 L247.0,326.2 L247.6,322.9 L248.2,324.6 L248.8,321.2 L249.3,320.3 L249.9,324.7 L250.5,323.8 L251.1,323.4 L251.7,329.0 L252.2,328.8 L252.9,328.4 L253.5,332.5 L254.2,331.6 L255.0,326.2 L255.7,324.3 L256.3,324.5 L257.0,322.5 L257.6,321.6 L258.1,322.5 L258.7,320.8 L259.2,321.2 L259.9,322.8 L260.5,320.5 L261.1,320.5 L261.8,323.8 L262.4,323.1 L263.0,325.5 L263.6,323.8 L264.2,325.0 L264.8,328.1 L265.4,324.3 L266.0,328.8 L266.7,331.9 L267.3,329.8 L268.0,331.2 L268.6,332.7 L269.2,330.6 L269.8,333.8 L270.4,334.4 L271.1,329.7 L271.8,330.0 L272.4,330.3 L273.0,325.6 L273.6,327.9 L274.2,325.0 L274.9,322.5 L275.5,324.9 L276.1,321.3 L276.8,321.2 L277.4,321.2 L278.0,317.7 L278.6,319.9 L279.2,317.5 L279.9,318.3 L280.5,314.2 L281.1,317.2 L281.8,315.0 L282.4,314.2 L283.0,317.1 L283.6,314.2 L284.2,316.2 L284.9,316.5 L285.5,315.0 L286.1,317.1 L286.8,315.0 L287.4,312.9 L288.0,315.8 L288.6,312.9 L289.2,313.8 L289.9,317.5 L290.6,315.0 L291.2,318.8 L291.8,319.5 L292.4,319.2 L292.9,316.4 L293.5,316.2 L294.1,316.3 L294.8,314.8 L295.4,316.0 L296.0,315.0 L296.7,314.3 L297.3,316.9 L298.0,316.2 L298.7,311.7 L299.3,317.1 L300.0,312.5 L300.6,308.9 L301.2,313.4 L301.9,307.9 L302.5,308.8 L303.1,306.6 L303.8,309.6 L304.4,306.6 L305.0,307.5 L305.6,306.0 L306.2,307.2 L306.9,304.1 L307.5,305.0 L308.1,309.7 L308.7,306.5 L309.2,308.8 L309.8,310.3 L310.4,309.2 L311.0,311.2 L311.7,311.5 L312.3,307.8 L313.0,307.5 L313.6,308.3 L314.2,306.6 L314.9,309.6 L315.5,308.8 L316.1,306.6 L316.8,306.6 L317.4,309.0 L318.0,307.5 L318.6,306.6 L319.2,306.9 L319.9,308.0 L320.5,307.5 L321.1,306.6 L321.8,310.9 L322.4,308.1 L323.0,310.0 L323.6,311.8 L324.2,309.2 L324.9,313.3 L325.5,312.5 L326.1,309.2 L326.8,313.3 L327.4,313.4 L328.0,310.0 L328.6,306.6 L329.2,310.9 L329.9,306.6 L330.5,307.5 L331.2,306.6 L331.8,306.6 L332.5,311.2 L333.2,312.1 L333.8,307.9 L334.5,308.8 L335.1,309.6 L335.6,304.1 L336.2,309.7 L336.8,305.0 L337.4,301.6 L338.0,305.8 L338.6,301.6 L339.2,302.5 L339.9,304.0 L340.5,301.8 L341.1,304.7 L341.8,303.8 L342.4,302.8 L343.0,305.1 L343.6,304.0 L344.2,305.0 L344.9,305.9 L345.5,305.6 L346.1,302.0 L346.8,302.5 L347.4,303.1 L348.0,301.3 L348.6,301.1 L349.2,301.2 L349.9,303.1 L350.5,302.1 L351.1,305.6 L351.8,305.0 L352.4,304.4 L353.1,308.4 L353.8,307.5 L354.3,303.2 L354.9,303.3 L355.4,306.8 L356.0,303.8 L356.6,299.2 L357.2,304.7 L357.9,299.0 L358.5,300.0 L359.1,296.5 L359.8,301.0 L360.4,296.5 L361.0,297.5 L361.6,294.2 L362.2,298.5 L362.9,297.4 L363.5,295.0 L364.1,294.0 L364.8,298.0 L365.4,295.3 L366.0,297.5 L366.6,298.5 L367.2,295.2 L367.9,298.5 L368.5,296.2 L369.1,295.2 L369.8,297.6 L370.4,296.5 L371.0,297.5 L371.7,299.7 L372.3,296.5 L373.0,298.8 L373.6,299.8 L374.2,290.2 L374.8,291.2 L375.4,292.3 L376.0,286.8 L376.6,290.3 L377.2,287.5 L377.8,286.7 L378.4,290.0 L378.9,287.0 L379.4,290.6 L380.0,289.5 L380.6,287.1 L381.2,290.6 L381.9,290.6 L382.5,288.0 L383.1,284.9 L383.8,289.1 L384.4,284.9 L385.0,286.0 L385.6,283.8 L386.2,283.9 L386.9,286.1 L387.5,284.5 L388.1,282.4 L388.8,285.7 L389.4,282.3 L390.0,283.5 L390.8,284.7 L391.5,283.0 L392.2,285.7 L392.8,286.1 L393.5,285.0 L394.1,284.5 L394.8,291.5 L395.3,292.5 L395.9,289.4 L396.4,292.6 L396.9,290.3 L397.5,290.5 L398.1,291.1 L398.8,289.4 L399.4,292.1 L400.0,291.0 L400.6,287.9 L401.2,292.1 L401.9,287.9 L402.5,289.0 L403.1,290.1 L403.8,283.9 L404.4,290.1 L405.0,285.0 L405.6,280.9 L406.2,286.2 L406.9,280.2 L407.5,281.2 L408.1,282.4 L408.8,275.0 L409.4,282.5 L410.0,276.2 L410.6,273.1 L411.2,277.5 L411.9,273.6 L412.5,273.8 L413.1,273.9 L413.8,270.0 L414.4,270.0 L415.0,271.2 L415.6,272.5 L416.2,267.5 L416.9,272.6 L417.5,268.8 L418.1,264.9 L418.8,270.1 L419.4,264.9 L420.0,266.2 L420.6,267.6 L421.2,262.4 L421.9,267.6 L422.5,263.8 L423.2,262.4 L423.8,267.6 L424.5,266.2 L425.1,265.2 L425.7,273.6 L426.2,275.0 L426.8,274.0 L427.4,267.0 L428.0,267.5 L428.7,268.5 L429.3,259.9 L430.0,261.2 L430.7,254.8 L431.3,262.7 L432.0,256.2 L432.7,249.7 L433.3,257.8 L434.0,251.2 L434.6,247.1 L435.1,252.4 L435.7,247.3 L436.2,248.8 L436.9,251.8 L437.5,247.0 L438.1,251.8 L438.8,250.0 L439.3,248.2 L439.9,259.3 L440.5,257.5 L441.2,255.7 L441.8,268.4 L442.5,267.5 L443.2,266.9 L444.0,275.0 L444.6,276.8 L445.2,261.9 L445.8,263.8 L446.3,265.7 L446.9,253.0 L447.5,255.0 L448.2,257.1 L448.8,250.3 L449.5,252.5 L450.1,259.8 L450.7,251.5 L451.2,258.8 L451.8,269.2 L452.4,262.3 L453.0,272.5 L453.8,281.8 L454.5,280.0 L455.1,281.8 L455.7,277.6 L456.2,268.8 L456.8,266.8 L457.4,275.4 L458.0,275.0 L458.7,276.8 L459.3,288.6 L460.0,287.5 L460.6,294.1 L461.2,285.9 L461.8,292.5 L462.4,294.1 L463.1,285.9 L463.8,287.5 L464.4,296.6 L465.0,295.0 L465.6,293.5 L466.2,303.8 L466.8,305.2 L467.4,303.8 L468.0,297.5 L468.7,299.0 L469.3,288.4 L470.0,290.0 L470.7,291.6 L471.3,284.6 L472.0,286.2 L472.7,290.4 L473.3,284.6 L474.0,288.8 L474.7,296.6 L475.3,290.0 L476.0,295.0 L476.7,300.6 L477.3,293.5 L478.0,303.8 L478.8,307.6 L479.5,306.2 L480.1,296.5 L480.7,307.5 L481.2,297.5 L481.8,296.0 L482.4,301.5 L483.0,300.0 L483.7,298.6 L484.3,298.6 L485.0,306.2 L485.8,314.9 L486.5,320.0 L487.2,323.5 L488.0,330.0 L488.8,339.6 L489.5,338.8 L490.2,338.1 L491.0,343.8 L491.6,346.3 L492.2,345.0 L492.8,347.5 L493.3,347.9 L493.9,343.3 L494.5,343.8 L495.2,343.8 L495.8,342.5 L496.5,342.5 L497.2,344.6 L497.8,345.4 L498.5,345.0 L499.2,344.4 L499.8,348.1 L500.5,347.5 L501.2,347.4 L501.8,350.1 L502.5,350.0 L503.2,350.6 L504.0,352.5 L504.7,351.7 L505.3,351.8 L506.0,347.5 L506.7,344.8 L507.3,347.4 L508.0,345.0 L508.7,345.6 L509.3,343.2 L510.0,343.8 L510.7,345.6 L511.3,345.5 L512.0,345.0 L512.7,342.0 L513.3,341.9 L514.0,342.5 L514.7,344.1 L515.3,344.2 L516.0,343.8 L516.7,342.5 L517.3,344.2 L518.0,342.5 L518.7,339.9 L519.3,342.6 L520.0,340.0 L520.7,338.2 L521.3,339.7 L522.0,338.8 L522.7,337.8 L523.3,339.4 L524.0,337.5 L524.6,336.8 L525.2,338.2 L525.9,336.8 L526.5,337.5 L527.1,337.8 L527.8,336.2 L528.4,337.8 L529.0,336.2 L529.6,335.5 L530.2,337.0 L530.9,335.5 L531.5,336.2 L532.1,337.0 L532.8,335.5 L533.4,337.0 L534.0,336.2 L534.6,333.4 L535.2,335.7 L535.9,333.7 L536.5,333.8 L537.2,335.7 L537.8,333.0 L538.5,335.0 L539.2,338.0 L539.8,338.2 L540.5,337.5 L541.2,334.6 L541.8,336.8 L542.5,333.8 L543.2,331.4 L543.8,333.7 L544.5,331.2 L545.2,329.7 L545.8,329.2 L546.5,330.0 L547.2,330.8 L547.8,327.9 L548.5,328.8 L549.2,330.9 L549.8,330.4 L550.5,332.5 L551.2,335.8 L551.8,331.8 L552.5,335.0 L553.2,334.3 L553.8,338.2 L554.5,337.5 L555.2,337.0 L555.8,337.9 L556.5,340.0 L557.2,339.7 L557.8,337.8 L558.5,337.5 L559.2,340.2 L559.8,337.3 L560.5,340.0 L561.2,340.6 L561.8,338.1 L562.5,338.8 L563.2,339.1 L563.8,337.2 L564.5,337.5 L565.2,337.5 L565.8,337.1 L566.5,336.2 L567.1,334.9 L567.8,334.4 L568.4,336.0 L569.0,335.0 L569.6,334.0 L570.2,335.3 L570.9,333.3 L571.5,333.8 L572.1,334.1 L572.8,332.3 L573.4,333.7 L574.0,332.5 L574.6,330.7 L575.2,333.3 L575.9,329.2 L576.5,330.0 L577.1,330.8 L577.8,327.9 L578.4,329.9 L579.0,328.8 L579.6,327.6 L580.2,329.6 L580.9,326.6 L581.5,327.5 L582.2,326.7 L582.8,330.8 L583.5,330.0 L584.2,327.2 L584.8,330.3 L585.5,327.5 L586.2,326.6 L586.8,326.6 L587.5,327.5 L588.2,326.6 L588.8,329.6 L589.5,328.8 L590.2,328.5 L590.8,330.2 L591.5,330.0 L592.2,328.9 L592.8,329.8 L593.5,328.8 L594.2,327.9 L594.8,330.8 L595.5,330.0 L596.2,329.2 L597.0,333.8 L597.8,339.0 L598.5,338.8 L599.2,338.1 L599.8,341.9 L600.5,341.2 L601.2,339.7 L601.8,340.3 L602.5,338.8 L603.2,338.7 L603.8,342.5 L604.5,342.5 L605.2,338.8 L605.8,342.6 L606.5,338.8 L607.2,335.9 L607.8,339.2 L608.5,336.2 L609.2,335.6 L609.8,339.4 L610.5,338.8 L611.2,338.4 L611.8,336.6 L612.5,336.2 L613.2,336.4 L613.8,334.8 L614.5,335.0 L615.2,335.7 L615.8,331.7 L616.5,332.5 L617.2,333.3 L617.8,329.2 L618.5,330.0 L619.2,330.8 L619.8,326.7 L620.5,327.5 L621.2,328.4 L621.8,324.1 L622.5,325.0 L623.2,326.1 L623.8,325.2 L624.5,326.2 L625.2,328.4 L625.8,325.4 L626.5,327.5 L627.2,331.0 L627.8,327.8 L628.5,331.2 L629.2,332.8 L629.8,333.6 L630.5,333.8 L631.2,334.5 L631.8,330.5 L632.5,331.2 L633.2,332.1 L633.8,329.2 L634.5,330.0 L635.2,330.8 L635.8,329.2 L636.5,330.0 L637.2,328.6 L637.8,330.2 L638.5,328.8 L639.2,327.6 L639.8,328.7 L640.5,327.5 L641.2,326.1 L641.8,327.7 L642.5,326.2 L643.2,327.1 L643.8,325.4 L644.5,326.2 L645.2,328.4 L645.8,328.4 L646.5,327.5 L647.2,326.7 L647.8,330.8 L648.5,330.0 L649.2,326.6 L649.8,329.7 L650.5,326.2 L651.2,326.1 L651.8,325.3 L652.5,323.8 L653.2,319.1 L653.8,324.7 L654.5,320.0 L655.2,321.0 L655.8,316.5 L656.5,317.5 L657.2,318.6 L657.8,312.7 L658.5,313.8 L659.2,314.9 L659.8,310.1 L660.5,311.2 L661.2,312.4 L661.8,308.9 L662.5,310.0 L663.2,311.1 L663.8,306.4 L664.5,307.5 L665.2,308.7 L665.8,302.6 L666.5,303.8 L667.2,303.5 L667.8,299.0 L668.5,298.8 L669.2,303.7 L669.8,297.6 L670.5,302.5 L671.2,307.2 L671.8,301.7 L672.5,306.2 L673.2,307.3 L673.8,307.4 L674.5,301.2 L675.2,297.6 L675.8,302.4 L676.5,298.8 L677.2,302.4 L677.8,297.6 L678.5,301.2 L679.2,302.3 L679.8,296.4 L680.5,297.5 L681.2,300.2 L681.8,301.0 L682.5,300.0 L683.2,299.0 L683.8,302.3 L684.5,301.2 L685.2,294.0 L686.0,295.0 L686.7,296.1 L687.3,290.2 L688.0,291.2 L688.7,292.4 L689.3,286.8 L690.0,287.5 L690.7,288.2 L691.3,282.6 L692.0,283.8 L692.7,284.9 L693.3,280.7 L694.0,281.2 L694.7,284.3 L695.3,280.1 L696.0,285.0 L696.7,281.3 L697.3,284.5 L698.0,282.5 L698.8,283.8 L699.3,284.2 L699.9,280.0 L700.5,281.2 L701.2,283.4 L701.8,283.4 L702.5,282.5 L703.2,286.2 L703.8,281.3 L704.5,286.2 L705.2,287.5 L705.8,280.0 L706.5,281.2 L707.2,282.5 L707.8,280.9 L708.5,278.8 L709.2,276.6 L709.8,279.6 L710.5,276.2 L711.2,272.9 L711.8,275.9 L712.5,273.8 L713.2,272.3 L713.8,275.2 L714.5,272.5 L715.2,271.1 L715.8,277.7 L716.5,276.2 L717.2,269.8 L717.8,277.1 L718.5,271.2 L719.2,265.1 L719.8,272.9 L720.5,266.2 L721.2,264.5 L722.0,268.8 L722.8,279.0 L723.5,281.2 L724.2,270.2 L725.0,267.5 L725.8,265.0 L726.5,256.2 L727.2,249.1 L728.0,248.8 L728.8,250.9 L729.5,246.2 L730.2,245.1 L731.0,253.8 L731.8,260.8 L732.5,258.8 L733.2,253.0 L734.0,255.0 L734.8,257.1 L735.5,250.0 L736.2,246.1 L736.8,252.2 L737.5,247.5 L738.2,242.8 L738.8,248.9 L739.5,245.0 L740.2,242.8 L740.8,250.9 L741.5,248.8 L742.2,244.1 L742.8,250.9 L743.5,246.2 L744.2,241.6 L744.8,246.6 L745.5,243.8 L746.2,239.9 L746.8,244.3 L747.5,240.0 L748.2,238.6 L748.8,242.2 L749.5,240.0 L750.2,237.8 L750.8,248.4 L751.5,246.2 L752.2,239.1 L753.0,241.2 L753.7,244.7 L754.3,244.7 L755.0,242.5 L755.8,241.4 L756.5,250.0 L757.0,256.2 L757.5,271.2 L758.2,273.1 L759.0,263.8 L759.8,261.9 L760.5,271.2 L761.2,273.1 L762.0,261.2 L762.8,250.5 L763.5,252.5 L764.2,254.6 L765.0,246.2 L765.7,255.8 L766.3,255.8 L767.0,253.8 L767.7,246.7 L768.3,253.9 L769.0,248.8 L769.8,247.6 L770.5,253.8 L771.2,266.1 L772.0,265.0 L772.8,274.3 L773.5,272.5 L774.2,270.8 L775.0,277.5 L775.8,284.1 L776.5,282.5 L777.2,276.1 L778.0,273.8 L778.8,272.8 L779.5,267.5 L780.1,262.6 L780.7,268.7 L781.2,263.8 L781.8,259.4 L782.4,265.6 L783.0,261.2 L783.7,265.6 L784.3,259.4 L785.0,263.8 L785.7,265.6 L786.3,259.4 L787.0,261.2 L787.6,262.1 L788.2,260.4 L788.8,261.2 L789.3,275.5 L789.9,262.3 L790.5,276.2 L791.2,278.0 L792.0,266.2 L792.8,257.0 L793.5,258.8 L794.2,264.2 L795.0,262.5 L795.7,260.1 L796.3,264.1 L797.0,261.2 L797.7,259.7 L798.3,265.2 L799.0,263.8 L799.7,265.2 L800.3,261.1 L801.0,262.5 L801.7,266.3 L802.3,262.2 L803.0,265.0 L803.8,268.5 L804.5,267.5 L805.0,258.4 L805.5,257.5 L806.2,254.9 L807.0,243.8 L807.8,245.0 L808.5,237.5 L809.2,236.3 L810.0,238.8 L810.7,239.2 L811.3,237.1 L812.0,237.5 L812.7,238.7 L813.3,235.0 L814.0,236.2 L814.7,237.5 L815.3,227.5 L816.0,228.8 L816.8,230.0 L817.5,227.5 L818.2,226.2 L818.8,226.3 L819.5,233.8 L820.2,238.7 L820.8,238.7 L821.5,237.5 L822.2,232.0 L822.8,230.0 L823.5,231.2 L824.2,232.5 L824.8,225.0 L825.5,226.2 L826.2,227.5 L826.8,225.3 L827.5,226.2 L828.2,227.0 L828.8,223.0 L829.5,223.8 L830.2,224.5 L830.8,220.0 L831.5,221.2 L832.2,220.0 L832.8,223.6 L833.5,222.5 L834.2,221.3 L834.8,228.7 L835.5,227.5 L836.2,222.5 L836.8,228.4 L837.5,223.8 L838.2,216.3 L839.0,217.5 L839.8,218.8 L840.5,211.2 L841.2,205.0 L841.8,212.5 L842.5,206.2 L843.2,203.7 L843.8,207.1 L844.5,205.0 L845.2,200.8 L845.8,206.3 L846.5,201.2 L847.0,197.5 L847.8,191.7 L848.5,193.0 L849.2,192.0" fill="none" stroke="#ff0000" stroke-width="1.4" stroke-linejoin="round" stroke-linecap="round"/>
<path d="M67.6,295.5 L68.2,296.8 L68.7,301.2 L69.2,300.4 L69.6,293.8 L70.1,297.4 L70.6,292.5 L71.0,290.6 L71.4,290.8 L71.8,290.5 L72.3,285.8 L72.7,289.6 L73.1,285.0 L73.5,279.8 L73.9,283.1 L74.3,281.5 L74.7,275.2 L75.1,279.2 L75.5,275.0 L75.9,273.7 L76.4,274.6 L76.8,272.3 L77.2,272.5 L77.7,272.3 L78.2,276.1 L78.6,277.0 L79.1,277.7 L79.6,273.2 L80.0,277.7 L80.5,277.5 L80.9,277.7 L81.3,274.8 L81.7,277.7 L82.2,276.9 L82.6,274.8 L83.0,275.0 L83.4,275.2 L83.8,269.9 L84.2,275.1 L84.6,269.8 L85.0,269.8 L85.5,270.0 L85.9,270.3 L86.3,270.3 L86.7,270.3 L87.2,263.8 L87.7,263.5 L88.2,263.5 L88.7,263.5 L89.2,270.0 L89.7,278.2 L90.2,271.8 L90.8,282.7 L91.3,282.5 L91.7,282.9 L92.2,292.7 L92.7,296.5 L93.1,296.2 L93.5,290.2 L94.0,296.1 L94.4,287.3 L94.8,287.5 L95.3,290.9 L95.8,292.7 L96.3,291.3 L96.8,293.8 L97.3,291.2 L97.8,282.7 L98.3,279.8 L98.7,280.0 L99.2,280.2 L99.6,280.2 L100.0,270.3 L100.4,270.0 L100.9,270.3 L101.3,267.0 L101.7,268.1 L102.1,266.2 L102.6,262.2 L103.1,266.5 L103.6,262.2 L104.1,262.5 L104.5,254.7 L105.0,262.8 L105.4,252.2 L105.8,252.5 L106.3,252.8 L106.8,251.0 L107.3,252.8 L107.8,251.2 L108.2,251.6 L108.6,249.7 L109.0,251.6 L109.4,249.7 L109.8,249.7 L110.3,250.0 L110.7,250.3 L111.1,244.7 L111.5,250.3 L111.9,244.7 L112.3,249.6 L112.7,245.0 L113.1,240.3 L113.5,245.3 L113.9,239.6 L114.3,245.0 L114.7,239.6 L115.1,240.0 L115.5,240.2 L115.9,237.7 L116.3,240.4 L116.7,235.9 L117.1,240.3 L117.5,236.2 L117.9,235.9 L118.3,241.3 L118.7,235.9 L119.2,241.6 L119.6,237.7 L120.0,241.2 L120.4,241.6 L120.8,238.8 L121.2,241.7 L121.6,237.1 L122.0,240.1 L122.4,237.5 L122.8,232.8 L123.2,237.9 L123.6,225.8 L124.0,234.5 L124.4,225.8 L124.8,226.2 L125.2,235.5 L125.7,225.8 L126.1,226.1 L126.6,235.0 L127.1,240.4 L127.6,234.6 L128.1,240.4 L128.6,240.0 L129.1,235.3 L129.6,239.6 L130.1,232.1 L130.6,232.5 L131.0,238.2 L131.5,232.1 L132.0,244.2 L132.4,243.8 L132.8,243.3 L133.3,246.8 L133.7,243.3 L134.1,247.9 L134.5,244.1 L135.0,247.5 L135.4,240.5 L135.8,245.4 L136.2,242.6 L136.6,237.5 L137.1,237.9 L137.6,227.1 L138.1,227.0 L138.5,227.5 L139.0,228.0 L139.4,224.5 L139.8,228.0 L140.2,224.5 L140.6,228.0 L141.0,225.0 L141.4,221.5 L141.9,225.5 L142.3,218.3 L142.7,225.5 L143.1,218.3 L143.6,218.3 L144.0,218.8 L144.5,218.3 L145.0,225.5 L145.5,221.8 L146.0,225.0 L146.5,228.8 L147.1,224.9 L147.6,234.2 L148.1,233.8 L148.6,242.0 L149.1,235.3 L149.7,243.5 L150.1,243.4 L150.6,239.0 L151.1,230.0 L151.5,216.9 L151.9,222.1 L152.4,208.8 L152.8,208.2 L153.3,216.0 L153.7,210.7 L154.2,215.5 L154.7,215.2 L155.1,226.7 L155.6,215.2 L156.0,226.2 L156.6,225.8 L157.1,238.4 L157.6,238.0 L158.0,231.2 L158.4,235.7 L158.9,224.5 L159.3,225.0 L159.7,225.5 L160.1,220.8 L160.6,222.8 L161.0,220.0 L161.4,218.8 L161.8,218.3 L162.2,220.5 L162.6,218.3 L163.1,220.5 L163.5,218.8 L163.9,216.2 L164.3,219.2 L164.7,215.8 L165.1,219.1 L165.5,215.8 L166.0,216.2 L166.5,223.0 L167.0,215.8 L167.5,223.0 L168.0,222.5 L168.4,218.1 L168.8,223.0 L169.3,213.3 L169.7,213.8 L170.1,220.5 L170.6,213.3 L171.0,220.5 L171.5,220.0 L172.0,219.5 L172.5,230.5 L173.0,222.5 L173.6,230.0 L174.0,232.1 L174.4,229.5 L174.8,232.6 L175.2,230.4 L175.7,229.6 L176.1,232.5 L176.6,242.9 L177.1,232.1 L177.6,242.9 L178.2,242.5 L178.6,242.1 L179.0,246.7 L179.4,246.7 L179.8,242.1 L180.3,246.7 L180.7,246.2 L181.1,245.8 L181.6,249.6 L182.1,246.7 L182.5,250.4 L183.0,250.0 L183.5,246.4 L184.0,249.8 L184.4,248.2 L184.9,245.0 L185.4,244.6 L185.8,250.4 L186.3,246.6 L186.7,250.0 L187.2,254.0 L187.8,257.9 L188.3,249.6 L188.8,257.5 L189.3,266.4 L189.7,257.1 L190.2,270.8 L190.7,264.4 L191.2,271.2 L191.7,270.9 L192.2,283.8 L192.7,277.7 L193.3,283.8 L193.7,283.4 L194.1,275.0 L194.5,277.6 L195.0,268.4 L195.4,268.8 L195.8,269.1 L196.2,261.1 L196.6,267.3 L197.0,257.1 L197.4,262.9 L197.8,257.5 L198.2,257.1 L198.7,265.4 L199.2,259.5 L199.6,265.4 L200.1,265.0 L200.5,264.6 L201.0,271.6 L201.4,271.6 L201.8,264.6 L202.2,271.6 L202.7,271.2 L203.1,272.5 L203.5,270.9 L203.9,274.1 L204.3,271.5 L204.8,274.1 L205.2,273.8 L205.6,273.4 L206.0,279.1 L206.4,279.1 L206.9,273.4 L207.3,279.1 L207.7,278.8 L208.2,286.0 L208.8,278.4 L209.3,287.8 L209.8,287.5 L210.4,292.6 L210.9,300.9 L211.5,306.0 L211.9,301.1 L212.3,301.4 L212.7,292.7 L213.1,293.0 L213.5,288.8 L214.0,293.3 L214.4,287.1 L214.8,293.3 L215.2,286.0 L215.7,291.0 L216.1,289.5 L216.5,286.2 L216.9,283.6 L217.4,282.5 L217.8,286.6 L218.2,282.2 L218.6,286.3 L219.0,282.5 L219.4,282.8 L219.8,280.9 L220.2,282.8 L220.7,280.9 L221.1,282.4 L221.5,281.2 L221.9,285.3 L222.3,280.9 L222.8,285.3 L223.2,280.9 L223.6,285.3 L224.0,285.0 L224.5,284.7 L225.1,291.8 L225.6,284.7 L226.1,291.5 L226.6,291.8 L227.1,283.5 L227.5,288.5 L228.0,283.8 L228.5,281.7 L228.9,284.1 L229.4,283.7 L229.8,280.9 L230.2,281.2 L230.7,284.6 L231.1,280.9 L231.5,286.3 L231.9,286.6 L232.4,280.9 L232.8,286.2 L233.2,290.3 L233.6,286.0 L234.1,290.3 L234.5,286.0 L234.9,290.3 L235.3,290.0 L235.8,289.7 L236.2,289.7 L236.7,292.8 L237.1,292.5 L237.6,292.2 L238.1,299.0 L238.6,294.6 L239.2,298.8 L239.6,302.8 L240.1,298.5 L240.5,305.2 L241.0,305.0 L241.5,304.8 L241.9,304.8 L242.4,311.5 L242.8,311.2 L243.4,316.5 L243.9,314.3 L244.4,318.9 L244.9,320.0 L245.4,319.8 L245.8,323.9 L246.2,323.8 L246.6,318.3 L247.0,319.3 L247.4,313.8 L247.9,314.0 L248.4,316.4 L249.0,314.7 L249.5,317.5 L249.9,321.1 L250.4,319.2 L250.8,321.0 L251.3,323.8 L251.7,324.8 L252.2,324.6 L252.6,326.4 L253.1,326.2 L253.6,321.3 L254.1,322.8 L254.6,318.8 L255.0,317.6 L255.4,318.7 L255.8,316.6 L256.2,317.8 L256.6,316.1 L257.0,316.2 L257.5,316.4 L257.9,316.1 L258.3,316.4 L258.7,316.1 L259.1,316.4 L259.5,316.2 L260.0,316.1 L260.4,317.6 L260.8,317.0 L261.2,318.9 L261.6,317.5 L262.1,318.8 L262.5,318.9 L262.9,316.6 L263.4,316.1 L263.8,316.2 L264.2,316.1 L264.7,320.3 L265.1,318.6 L265.6,321.2 L266.1,321.1 L266.6,324.9 L267.1,325.0 L267.6,325.0 L268.1,324.9 L268.6,326.4 L269.1,325.1 L269.6,326.2 L270.1,326.4 L270.6,322.4 L271.1,324.8 L271.6,322.5 L272.0,320.6 L272.5,322.5 L272.9,318.8 L273.4,320.9 L273.8,318.8 L274.2,316.9 L274.6,315.3 L275.1,318.9 L275.5,314.9 L275.9,317.2 L276.3,315.0 L276.7,313.1 L277.1,314.7 L277.5,314.4 L277.9,309.9 L278.4,313.0 L278.8,310.0 L279.2,308.7 L279.6,310.2 L280.0,310.2 L280.4,308.6 L280.8,309.9 L281.3,308.8 L281.7,310.0 L282.1,310.2 L282.5,308.6 L282.9,310.2 L283.4,309.5 L283.8,310.0 L284.2,310.0 L284.6,308.5 L285.0,309.4 L285.4,307.3 L285.8,309.1 L286.3,307.5 L286.7,306.0 L287.1,307.7 L287.5,304.8 L287.9,307.4 L288.3,304.8 L288.8,305.0 L289.2,306.4 L289.6,304.8 L290.0,306.4 L290.4,305.3 L290.8,306.4 L291.3,306.2 L291.7,304.5 L292.1,306.4 L292.5,304.3 L292.9,305.2 L293.3,303.6 L293.7,303.8 L294.2,303.9 L294.6,302.9 L295.0,303.5 L295.4,302.6 L295.8,303.0 L296.2,302.5 L296.7,301.3 L297.1,302.7 L297.5,300.2 L297.9,301.9 L298.3,299.8 L298.7,300.0 L299.1,300.2 L299.6,296.4 L300.0,299.5 L300.4,295.1 L300.8,297.1 L301.2,295.0 L301.6,292.6 L302.0,295.2 L302.4,294.8 L302.9,291.1 L303.3,292.7 L303.7,291.2 L304.1,291.1 L304.5,291.4 L304.9,291.1 L305.3,291.1 L305.8,291.4 L306.2,291.2 L306.6,291.4 L307.0,292.4 L307.4,291.8 L307.9,293.6 L308.3,293.9 L308.7,293.8 L309.1,293.6 L309.6,297.7 L310.0,293.6 L310.5,297.5 L311.0,293.7 L311.5,297.7 L312.0,293.6 L312.4,293.8 L312.9,293.6 L313.3,295.1 L313.7,294.5 L314.1,296.0 L314.5,295.4 L315.0,296.2 L315.5,296.1 L316.0,297.7 L316.5,296.1 L317.0,297.5 L317.4,297.7 L317.8,297.7 L318.3,293.6 L318.7,293.8 L319.1,294.7 L319.5,293.6 L319.9,295.2 L320.4,293.6 L320.8,295.2 L321.2,295.0 L321.6,294.8 L322.0,298.3 L322.5,295.7 L322.9,300.2 L323.3,297.1 L323.7,300.0 L324.2,301.4 L324.6,299.8 L325.1,301.4 L325.5,301.2 L326.0,298.8 L326.5,296.1 L327.0,300.7 L327.5,296.2 L327.9,294.8 L328.3,296.4 L328.7,294.8 L329.1,296.2 L329.5,294.8 L330.0,295.0 L330.4,296.4 L330.8,295.0 L331.2,296.1 L331.6,295.2 L332.0,296.4 L332.5,296.2 L333.0,292.1 L333.4,296.1 L333.9,292.9 L334.4,290.0 L334.8,288.5 L335.3,290.2 L335.7,286.1 L336.1,289.5 L336.5,286.1 L336.9,286.2 L337.3,286.4 L337.7,285.2 L338.1,286.4 L338.6,284.8 L339.0,286.4 L339.4,285.0 L339.8,287.3 L340.2,285.3 L340.7,286.8 L341.1,284.8 L341.5,287.7 L341.9,287.5 L342.3,287.7 L342.7,284.8 L343.2,287.7 L343.6,284.8 L344.0,287.1 L344.4,285.0 L344.8,283.6 L345.2,285.2 L345.6,283.7 L346.1,285.2 L346.5,283.6 L346.9,283.8 L347.3,286.4 L347.7,283.6 L348.2,288.9 L348.6,284.1 L349.0,288.9 L349.4,288.8 L349.8,288.6 L350.3,292.7 L350.7,288.6 L351.1,291.9 L351.5,291.3 L351.9,292.5 L352.4,292.7 L352.8,292.7 L353.2,288.6 L353.6,288.6 L354.0,290.8 L354.4,288.8 L354.8,288.9 L355.3,288.9 L355.7,284.8 L356.1,288.9 L356.5,288.2 L357.0,284.8 L357.4,285.0 L357.8,282.7 L358.2,284.9 L358.6,282.9 L359.1,284.3 L359.5,282.3 L359.9,282.5 L360.3,283.0 L360.7,282.5 L361.1,283.9 L361.6,282.3 L362.0,283.9 L362.4,283.8 L362.8,281.7 L363.2,283.9 L363.6,281.4 L364.0,282.8 L364.5,281.1 L364.9,281.2 L365.3,281.1 L365.7,281.1 L366.1,282.7 L366.5,281.1 L367.0,282.7 L367.4,282.5 L367.8,282.3 L368.2,282.3 L368.6,285.9 L369.1,286.4 L369.5,284.3 L369.9,286.2 L370.4,287.3 L370.9,286.1 L371.4,287.5 L371.9,287.5 L372.3,285.3 L372.8,287.2 L373.2,281.1 L373.6,281.2 L374.0,281.4 L374.5,278.9 L374.9,281.4 L375.3,281.5 L375.7,277.6 L376.1,277.5 L376.5,277.6 L376.9,276.0 L377.4,277.7 L377.8,276.0 L378.2,277.5 L378.6,276.2 L379.0,276.0 L379.3,276.2 L379.8,276.5 L380.2,274.4 L380.6,276.1 L381.0,273.5 L381.4,273.5 L381.8,273.8 L382.2,274.0 L382.7,272.3 L383.1,274.0 L383.5,272.3 L383.9,274.0 L384.3,272.5 L384.7,271.0 L385.2,272.7 L385.6,271.2 L386.0,271.0 L386.4,272.7 L386.8,271.2 L387.2,271.5 L387.7,271.0 L388.1,271.5 L388.5,271.0 L388.9,271.5 L389.3,271.2 L389.7,270.5 L390.2,271.5 L390.6,269.8 L391.0,271.4 L391.4,269.8 L391.8,270.0 L392.2,269.8 L392.7,274.7 L393.1,271.0 L393.5,276.2 L393.9,271.9 L394.3,276.2 L394.8,276.0 L395.2,279.8 L395.6,276.0 L396.0,280.2 L396.4,277.7 L396.9,280.0 L397.3,278.0 L397.7,280.2 L398.1,277.3 L398.5,280.2 L398.9,279.9 L399.4,277.5 L399.8,276.0 L400.2,276.4 L400.6,277.6 L401.0,276.0 L401.4,277.3 L401.8,276.2 L402.3,276.5 L402.7,276.2 L403.1,271.8 L403.5,274.7 L403.9,271.2 L404.3,271.2 L404.7,269.9 L405.1,270.8 L405.6,268.5 L406.0,269.5 L406.4,267.5 L406.8,267.5 L407.2,267.7 L407.6,262.3 L408.0,265.8 L408.4,264.9 L408.9,262.5 L409.3,262.5 L409.7,262.5 L410.1,259.8 L410.5,262.2 L410.9,261.4 L411.3,258.5 L411.8,258.8 L412.2,259.0 L412.6,259.0 L413.0,257.3 L413.4,259.0 L413.8,257.3 L414.2,257.5 L414.7,257.6 L415.1,255.7 L415.5,255.2 L415.9,255.2 L416.3,255.9 L416.7,255.0 L417.1,253.8 L417.6,255.2 L418.0,253.5 L418.4,255.2 L418.8,253.5 L419.2,253.8 L419.6,254.0 L420.1,251.0 L420.5,254.0 L420.9,254.0 L421.3,254.0 L421.7,251.2 L422.2,250.0 L422.7,249.8 L423.2,251.5 L423.7,250.0 L424.2,250.5 L424.7,258.3 L425.3,261.0 L425.8,257.7 L426.2,260.9 L426.7,251.0 L427.2,251.2 L427.7,251.5 L428.2,246.0 L428.7,251.5 L429.2,246.2 L429.7,241.0 L430.2,246.5 L430.6,241.0 L431.1,241.2 L431.6,241.5 L432.1,237.2 L432.6,240.4 L433.1,237.5 L433.5,237.2 L433.9,239.1 L434.4,239.1 L434.8,237.8 L435.3,238.8 L435.7,237.0 L436.1,235.9 L436.5,239.1 L437.0,236.2 L437.5,234.7 L437.9,236.6 L438.4,234.7 L438.9,235.0 L439.4,241.9 L439.9,234.7 L440.4,245.3 L440.9,245.0 L441.4,244.7 L441.8,254.5 L442.3,256.8 L442.7,256.5 L443.1,256.8 L443.6,247.2 L444.0,256.2 L444.4,247.5 L444.9,238.4 L445.3,247.9 L445.8,238.4 L446.3,238.8 L446.8,239.1 L447.2,233.4 L447.7,233.3 L448.2,233.8 L448.6,237.9 L449.1,233.3 L449.5,233.3 L450.0,237.5 L450.5,247.9 L451.0,239.5 L451.5,247.5 L452.0,255.0 L452.4,249.2 L452.9,256.5 L453.3,256.0 L453.8,248.6 L454.3,242.0 L454.8,242.9 L455.3,250.4 L455.8,250.0 L456.3,249.6 L456.7,249.6 L457.2,257.9 L457.6,257.5 L458.1,257.1 L458.5,264.1 L459.0,259.2 L459.4,263.8 L460.0,271.4 L460.5,272.5 L460.9,267.2 L461.3,266.7 L461.7,267.0 L462.1,272.8 L462.6,266.7 L463.0,272.8 L463.5,272.5 L463.9,272.2 L464.4,278.4 L464.8,279.0 L465.2,275.6 L465.7,276.2 L466.1,274.2 L466.5,268.4 L467.0,268.8 L467.4,269.1 L467.9,269.1 L468.4,263.4 L468.9,263.8 L469.4,264.1 L469.9,264.1 L470.4,259.7 L470.9,260.0 L471.4,259.7 L471.9,262.8 L472.4,260.0 L472.9,262.5 L473.4,268.8 L473.9,262.2 L474.4,269.1 L475.0,268.8 L475.5,268.4 L476.0,275.5 L476.5,273.3 L477.0,277.5 L477.5,283.1 L478.1,277.2 L478.6,285.3 L479.1,285.0 L479.6,279.1 L480.1,285.3 L480.6,278.5 L481.0,278.8 L481.5,281.5 L482.1,281.5 L482.6,279.8 L483.1,281.2 L483.6,284.1 L484.1,287.8 L484.6,282.9 L485.1,287.5 L485.2,292.5 L485.7,300.2 L486.2,302.5 L486.8,304.5 L487.3,311.2 L487.9,319.0 L488.4,318.8 L488.8,318.6 L489.3,323.0 L489.7,323.8 L490.1,325.8 L490.6,332.7 L491.0,332.5 L491.5,332.4 L491.9,336.5 L492.3,337.5 L492.7,334.3 L493.1,335.5 L493.5,330.0 L494.0,327.5 L494.5,330.2 L495.0,327.3 L495.5,327.5 L495.9,328.9 L496.4,329.6 L496.8,328.8 L497.3,330.0 L497.7,331.7 L498.2,330.4 L498.6,331.5 L499.1,333.8 L499.6,336.8 L500.1,333.6 L500.6,337.0 L501.1,337.5 L501.6,338.6 L502.1,340.0 L502.7,342.5 L503.2,344.5 L503.7,345.0 L504.2,344.9 L504.7,338.7 L505.1,338.8 L505.6,338.9 L506.1,334.9 L506.6,336.6 L507.1,335.0 L507.6,333.8 L508.1,332.8 L508.6,334.0 L509.1,332.5 L509.6,331.5 L510.1,331.7 L510.6,330.1 L511.1,330.0 L511.6,330.7 L512.1,329.9 L512.6,331.4 L513.1,331.2 L513.6,330.0 L514.1,330.7 L514.6,328.7 L515.1,328.8 L515.6,329.6 L516.1,328.6 L516.6,330.1 L517.1,330.0 L517.6,326.4 L518.0,330.1 L518.5,324.9 L519.0,325.0 L519.5,325.2 L520.0,323.3 L520.5,322.7 L521.0,322.5 L521.4,322.7 L521.8,320.5 L522.2,322.7 L522.6,319.8 L523.1,319.8 L523.5,320.0 L523.9,320.2 L524.3,317.3 L524.7,320.2 L525.1,317.3 L525.5,319.3 L526.0,317.5 L526.4,316.4 L526.8,317.7 L527.2,316.1 L527.6,317.7 L528.0,316.1 L528.4,316.2 L528.9,316.4 L529.3,314.8 L529.7,316.4 L530.1,315.0 L530.5,315.5 L530.9,315.0 L531.3,315.2 L531.8,315.2 L532.2,315.2 L532.6,313.6 L533.0,315.1 L533.4,313.8 L533.8,311.8 L534.2,313.9 L534.7,311.1 L535.1,313.4 L535.5,311.1 L535.9,311.2 L536.4,312.7 L536.9,311.1 L537.4,312.6 L537.9,312.5 L538.4,312.8 L538.9,317.7 L539.4,313.4 L540.0,317.5 L540.4,317.4 L540.9,313.6 L541.4,314.7 L541.9,312.5 L542.4,310.7 L542.9,311.9 L543.4,308.6 L543.9,308.8 L544.4,308.8 L544.9,308.2 L545.4,306.1 L545.9,306.2 L546.3,306.5 L546.7,305.1 L547.2,305.8 L547.6,305.0 L548.0,304.8 L548.5,304.8 L548.9,310.2 L549.4,310.0 L549.9,309.8 L550.4,315.2 L550.9,310.0 L551.4,315.0 L551.9,317.0 L552.4,314.8 L552.9,317.7 L553.5,317.5 L554.0,317.3 L554.5,321.4 L555.0,317.6 L555.5,321.2 L556.0,321.4 L556.5,316.1 L557.0,321.1 L557.4,316.2 L557.9,314.8 L558.4,316.2 L558.9,314.8 L559.4,315.0 L559.9,319.0 L560.5,320.2 L561.0,320.0 L561.5,316.7 L562.0,320.2 L562.5,316.1 L562.9,316.2 L563.4,316.4 L563.9,312.3 L564.4,315.5 L564.9,312.5 L565.4,311.6 L565.8,312.0 L566.2,310.1 L566.7,311.2 L567.1,310.0 L567.6,307.6 L568.0,310.2 L568.4,307.5 L568.8,309.5 L569.2,309.5 L569.6,307.5 L570.0,305.4 L570.4,305.9 L570.9,307.0 L571.3,304.8 L571.7,306.6 L572.1,305.0 L572.5,302.7 L572.9,305.2 L573.3,302.1 L573.7,303.5 L574.2,301.0 L574.6,301.2 L575.0,301.5 L575.4,299.2 L575.8,300.2 L576.2,300.7 L576.6,297.3 L577.0,297.5 L577.5,297.7 L577.9,294.8 L578.3,297.2 L578.7,293.5 L579.1,294.9 L579.5,293.8 L579.9,293.8 L580.4,297.7 L580.8,293.5 L581.2,297.7 L581.6,295.4 L582.0,297.5 L582.5,297.7 L582.9,294.8 L583.3,297.4 L583.8,295.0 L584.3,292.7 L584.8,295.0 L585.3,292.3 L585.8,292.5 L586.2,292.7 L586.7,291.0 L587.2,292.7 L587.7,291.2 L588.2,291.0 L588.8,293.1 L589.3,292.6 L589.8,293.8 L590.3,296.4 L590.8,293.5 L591.3,296.5 L591.8,296.2 L592.3,296.0 L592.8,299.0 L593.3,298.8 L593.8,294.0 L594.3,296.5 L594.8,293.8 L595.3,293.7 L595.8,294.5 L596.3,296.2 L596.8,300.4 L597.3,298.8 L597.9,305.0 L598.4,311.0 L598.9,306.5 L599.4,313.8 L599.9,313.9 L600.4,311.1 L600.9,311.2 L601.4,311.4 L601.9,308.6 L602.4,308.8 L602.9,308.8 L603.4,315.9 L603.9,316.2 L604.4,312.5 L604.9,313.6 L605.4,311.2 L605.9,309.4 L606.4,303.5 L606.8,303.8 L607.4,307.7 L607.9,304.4 L608.4,307.5 L608.9,311.0 L609.4,309.0 L609.9,312.5 L610.4,312.6 L610.9,310.2 L611.4,307.5 L611.9,305.7 L612.4,307.7 L612.8,303.5 L613.3,303.8 L613.8,304.0 L614.3,301.0 L614.8,303.6 L615.3,301.2 L615.8,298.0 L616.3,301.5 L616.8,301.3 L617.3,297.5 L617.8,296.4 L618.3,296.8 L618.8,294.8 L619.3,295.0 L619.8,295.2 L620.3,291.0 L620.7,294.9 L621.2,291.2 L621.7,288.5 L622.2,291.5 L622.7,288.5 L623.2,288.8 L623.7,290.2 L624.2,288.5 L624.7,290.2 L625.2,290.0 L625.7,292.7 L626.1,289.8 L626.6,292.7 L627.0,292.5 L627.5,292.5 L627.9,297.6 L628.4,295.5 L628.8,298.8 L629.3,300.4 L629.8,298.8 L630.3,301.5 L630.8,301.2 L631.3,299.1 L631.8,301.5 L632.3,297.3 L632.8,297.5 L633.3,299.0 L633.8,297.3 L634.3,299.0 L634.8,298.8 L635.3,294.8 L635.8,298.7 L636.3,294.8 L636.8,295.0 L637.3,295.2 L637.8,291.6 L638.2,295.2 L638.7,291.2 L639.2,287.3 L639.7,291.5 L640.2,287.3 L640.7,287.5 L641.2,287.7 L641.7,284.7 L642.2,287.8 L642.7,285.0 L643.2,286.5 L643.7,286.5 L644.2,285.1 L644.7,286.2 L645.2,286.0 L645.7,290.2 L646.2,290.2 L646.7,290.0 L647.2,289.8 L647.7,289.8 L648.3,294.0 L648.8,293.8 L649.3,294.0 L649.7,288.5 L650.2,291.4 L650.7,288.8 L651.2,287.2 L651.7,289.0 L652.2,286.0 L652.7,286.2 L653.2,286.5 L653.7,282.2 L654.2,286.5 L654.7,282.5 L655.2,279.7 L655.7,282.8 L656.2,279.7 L656.7,280.0 L657.2,280.3 L657.6,277.2 L658.1,280.3 L658.6,277.5 L659.1,279.0 L659.6,277.2 L660.2,279.0 L660.7,278.8 L661.2,274.9 L661.7,279.0 L662.1,274.7 L662.6,275.0 L663.1,275.3 L663.6,272.2 L664.1,275.3 L664.6,272.5 L665.1,271.7 L665.5,272.6 L666.0,272.6 L666.5,272.2 L666.9,271.2 L667.3,269.7 L667.7,271.5 L668.2,269.7 L668.6,269.7 L669.0,271.0 L669.4,270.0 L669.8,270.3 L670.2,270.3 L670.7,268.8 L671.2,266.4 L671.7,269.0 L672.2,266.2 L672.7,266.5 L673.1,259.9 L673.6,264.4 L674.1,260.0 L674.6,256.0 L675.1,260.3 L675.6,256.0 L676.1,256.2 L676.6,256.0 L677.2,261.5 L677.7,257.5 L678.2,261.2 L678.7,264.0 L679.2,262.3 L679.7,265.0 L680.2,265.2 L680.7,259.7 L681.2,264.3 L681.7,260.0 L682.2,255.7 L682.7,260.3 L683.2,254.7 L683.7,255.0 L684.2,255.3 L684.7,250.6 L685.2,253.9 L685.7,250.0 L686.2,246.8 L686.7,250.3 L687.2,246.0 L687.7,246.2 L688.2,246.1 L688.7,243.5 L689.2,246.1 L689.7,242.5 L690.2,239.8 L690.7,242.8 L691.2,242.8 L691.6,240.0 L692.2,242.1 L692.7,240.5 L693.2,244.0 L693.7,243.8 L694.1,243.5 L694.5,250.3 L695.0,245.1 L695.4,250.0 L695.9,242.9 L696.3,250.3 L696.7,241.0 L697.1,241.2 L697.6,241.5 L698.1,234.7 L698.6,239.8 L699.1,235.0 L699.6,233.5 L700.1,233.5 L700.6,235.3 L701.1,233.8 L701.5,239.4 L702.0,235.9 L702.4,240.7 L702.9,241.2 L703.3,238.1 L703.7,241.5 L704.2,237.2 L704.6,237.5 L705.1,237.8 L705.6,237.8 L706.1,232.2 L706.6,232.5 L707.0,232.8 L707.5,227.2 L708.0,232.8 L708.5,227.5 L709.0,223.4 L709.5,227.7 L710.0,226.5 L710.5,223.8 L711.0,220.9 L711.5,224.1 L712.0,219.7 L712.5,220.0 L713.0,225.3 L713.5,219.7 L714.0,225.3 L714.5,225.0 L714.9,225.3 L715.4,220.9 L715.9,224.4 L716.4,221.2 L716.9,221.6 L717.3,218.4 L717.8,221.6 L718.3,218.8 L718.8,217.1 L719.3,219.1 L719.8,217.1 L720.2,217.5 L720.7,227.9 L721.2,226.1 L721.8,227.5 L722.3,229.2 L722.8,235.0 L723.2,235.4 L723.7,232.9 L724.2,222.5 L724.6,215.0 L725.1,222.4 L725.6,210.8 L726.1,211.2 L726.6,211.7 L727.1,207.1 L727.6,211.7 L728.1,207.5 L728.6,207.1 L729.1,215.4 L729.6,207.8 L730.1,215.0 L730.6,219.2 L731.1,214.6 L731.6,218.8 L732.1,219.2 L732.6,213.3 L733.1,213.8 L733.6,214.2 L734.1,207.1 L734.6,214.2 L735.1,207.5 L735.6,207.1 L736.1,211.7 L736.6,207.1 L737.1,211.2 L737.6,211.7 L738.1,205.8 L738.6,205.8 L739.1,206.2 L739.6,206.7 L740.1,203.3 L740.6,206.7 L741.1,203.8 L741.5,202.0 L741.9,204.0 L742.3,202.4 L742.7,203.8 L743.1,202.0 L743.6,202.5 L744.0,203.0 L744.4,200.8 L744.8,200.8 L745.2,203.0 L745.6,200.8 L746.0,201.2 L746.5,203.8 L746.9,200.8 L747.3,204.2 L747.7,202.0 L748.1,204.1 L748.6,203.8 L749.1,207.2 L749.6,203.8 L750.1,209.2 L750.6,208.8 L751.1,204.2 L751.6,208.4 L752.1,203.3 L752.6,203.8 L753.1,204.2 L753.6,202.1 L754.1,202.5 L754.6,204.9 L755.2,215.0 L755.7,228.6 L756.3,235.0 L756.8,229.6 L757.3,235.4 L757.8,230.0 L758.3,229.6 L758.8,229.6 L759.3,237.5 L759.8,224.0 L760.2,233.8 L760.7,220.0 L761.2,220.4 L761.7,209.6 L762.1,210.0 L762.6,210.4 L763.1,205.8 L763.6,206.2 L764.1,215.4 L764.6,205.8 L765.2,208.4 L765.7,215.0 L766.2,215.4 L766.7,208.3 L767.1,215.4 L767.6,208.8 L768.1,208.3 L768.7,212.9 L769.2,212.5 L769.7,223.5 L770.2,214.1 L770.7,225.0 L771.3,235.4 L771.8,224.6 L772.3,235.0 L772.8,240.4 L773.3,234.6 L773.9,240.0 L774.4,245.4 L774.9,239.6 L775.4,245.0 L775.9,237.1 L776.3,237.9 L776.8,230.0 L777.3,222.1 L777.8,230.4 L778.2,222.5 L778.7,215.9 L779.1,215.8 L779.5,222.9 L780.0,216.2 L780.4,216.7 L780.8,210.8 L781.2,216.7 L781.7,211.2 L782.2,214.2 L782.7,210.8 L783.2,214.2 L783.7,213.8 L784.2,208.3 L784.7,214.2 L785.2,208.3 L785.7,208.8 L786.1,209.2 L786.5,207.1 L787.0,209.2 L787.4,207.5 L787.8,207.1 L788.3,217.9 L788.7,217.5 L789.1,209.6 L789.5,217.9 L789.9,210.0 L790.1,200.0 L790.6,200.4 L791.1,197.1 L791.6,200.4 L792.2,197.5 L792.7,195.9 L793.2,197.9 L793.7,195.8 L794.2,196.2 L794.8,197.9 L795.3,195.9 L795.8,197.9 L796.3,197.5 L796.9,197.1 L797.4,199.1 L797.9,197.2 L798.4,198.8 L798.9,202.8 L799.5,198.4 L800.0,202.8 L800.5,202.5 L801.0,202.2 L801.6,207.8 L802.1,207.5 L802.6,207.2 L803.2,211.2 L803.7,210.1 L804.2,200.0 L804.7,193.8 L805.2,199.9 L805.7,193.8 L806.2,193.9 L806.7,187.3 L807.2,187.5 L807.6,187.8 L808.1,183.5 L808.6,183.8 L809.1,185.3 L809.6,185.3 L810.2,183.5 L810.7,185.0 L811.2,185.3 L811.6,181.0 L812.1,181.2 L812.6,181.5 L813.1,174.7 L813.6,175.0 L814.1,175.3 L814.6,166.0 L815.1,166.2 L815.6,166.5 L816.1,163.5 L816.6,163.8 L817.1,163.5 L817.6,169.0 L818.1,168.8 L818.6,172.1 L819.1,169.4 L819.6,172.6 L820.1,172.5 L820.6,169.3 L821.1,167.6 L821.6,167.5 L822.1,167.8 L822.6,163.5 L823.1,167.8 L823.6,163.8 L824.1,158.5 L824.6,164.0 L825.1,162.5 L825.6,158.8 L826.1,153.5 L826.6,159.0 L827.1,153.5 L827.6,153.8 L828.1,157.6 L828.6,155.2 L829.1,158.8 L829.6,158.6 L830.1,152.2 L830.6,152.5 L831.1,149.7 L831.6,152.8 L832.1,149.7 L832.6,150.0 L833.1,155.3 L833.6,151.0 L834.1,156.2 L834.6,156.5 L835.1,149.7 L835.6,150.0 L836.1,150.3 L836.6,146.0 L837.1,146.2 L837.6,145.6 L838.1,143.6 L838.6,140.0 L839.1,134.7 L839.6,140.3 L840.1,135.0 L840.6,131.0 L841.1,131.0 L841.6,131.2 L842.1,129.4 L842.6,130.6 L843.1,128.8 L843.6,128.5 L844.1,132.5 L844.6,132.8 L845.1,125.0 L845.6,119.7 L846.1,118.8 L846.6,118.4 L847.0,113.8 L847.5,111.4 L847.9,110.9 L848.3,111.2" fill="none" stroke="#0070c0" stroke-width="2.2" stroke-linejoin="round" stroke-linecap="round"/>
<path d="M68.2,295.5 L68.8,297.3 L69.2,301.2 L69.8,300.0 L70.2,296.0 L70.8,295.5 L71.2,292.5 L71.7,288.9 L72.1,292.7 L72.5,287.6 L72.9,288.6 L73.3,285.5 L73.8,285.0 L74.2,284.2 L74.6,278.4 L75.0,283.5 L75.4,275.3 L75.8,279.1 L76.2,275.0 L76.7,272.7 L77.1,272.3 L77.6,275.2 L78.0,272.5 L78.5,272.3 L78.9,275.8 L79.4,272.6 L79.9,276.9 L80.3,277.5 L80.8,275.0 L81.2,277.5 L81.7,277.7 L82.1,274.8 L82.5,274.8 L82.9,277.7 L83.3,274.8 L83.8,275.0 L84.2,275.2 L84.6,271.1 L85.0,274.0 L85.4,270.2 L85.8,271.4 L86.2,270.0 L86.7,267.7 L87.1,269.5 L87.6,263.5 L88.0,263.8 L88.5,269.1 L89.0,263.5 L89.5,269.6 L90.0,270.0 L90.5,272.0 L91.0,278.1 L91.5,277.8 L92.0,282.5 L92.4,283.9 L92.9,291.6 L93.3,292.2 L93.8,296.2 L94.2,294.7 L94.6,289.5 L95.1,291.8 L95.5,287.5 L96.0,288.1 L96.5,291.7 L97.0,294.0 L97.5,293.8 L98.0,292.6 L98.5,289.8 L99.0,280.8 L99.5,280.0 L99.9,276.1 L100.4,276.6 L100.8,274.3 L101.2,270.0 L101.7,267.3 L102.1,270.3 L102.6,266.0 L103.0,266.2 L103.5,266.5 L104.0,262.3 L104.5,266.5 L105.0,262.5 L105.4,256.0 L105.9,258.4 L106.3,254.2 L106.8,252.5 L107.2,252.8 L107.8,251.0 L108.2,252.8 L108.8,251.2 L109.2,249.7 L109.6,251.3 L110.0,250.2 L110.4,251.6 L110.8,249.7 L111.2,250.0 L111.7,250.3 L112.1,250.3 L112.5,246.3 L112.9,247.8 L113.3,247.7 L113.8,245.0 L114.2,242.2 L114.6,245.1 L115.0,240.6 L115.4,244.2 L115.8,242.9 L116.2,240.0 L116.7,236.5 L117.1,240.4 L117.5,236.5 L117.9,239.1 L118.3,238.1 L118.8,236.2 L119.2,235.9 L119.6,236.8 L120.0,239.9 L120.4,235.9 L120.8,236.0 L121.2,241.2 L121.7,241.7 L122.1,237.1 L122.5,241.7 L122.9,237.1 L123.3,237.1 L123.8,237.5 L124.2,230.7 L124.6,236.8 L125.0,228.6 L125.4,235.0 L125.8,225.8 L126.2,226.2 L126.7,233.1 L127.1,225.8 L127.6,226.8 L128.0,235.0 L128.5,240.4 L129.0,240.4 L129.5,234.6 L130.0,240.0 L130.5,236.9 L131.0,237.6 L131.5,232.1 L132.0,232.5 L132.4,241.5 L132.9,236.0 L133.3,242.7 L133.8,243.8 L134.2,247.3 L134.6,243.3 L135.0,244.9 L135.4,247.0 L135.8,243.5 L136.2,247.5 L136.7,247.9 L137.1,247.9 L137.6,237.1 L138.0,237.5 L138.5,237.9 L139.0,227.1 L139.5,227.2 L140.0,227.5 L140.4,228.0 L140.8,224.5 L141.2,228.0 L141.7,225.1 L142.1,226.0 L142.5,225.0 L142.9,219.5 L143.4,225.5 L143.8,219.0 L144.2,224.7 L144.6,219.5 L145.1,220.5 L145.5,218.8 L146.0,218.8 L146.5,223.6 L147.0,218.3 L147.5,225.0 L148.0,232.7 L148.5,233.6 L149.0,227.9 L149.5,233.8 L150.0,238.7 L150.5,241.9 L151.0,243.5 L151.5,235.0 L152.0,230.4 L152.5,230.0 L153.0,228.9 L153.5,222.1 L154.0,208.8 L154.4,208.2 L154.9,214.7 L155.3,210.2 L155.8,215.5 L156.2,221.7 L156.6,215.0 L157.1,226.7 L157.5,226.2 L158.0,226.1 L158.5,238.1 L159.0,238.0 L159.4,228.9 L159.9,238.4 L160.3,225.5 L160.8,225.0 L161.2,225.5 L161.6,219.5 L162.1,225.5 L162.5,220.0 L162.9,218.8 L163.3,220.5 L163.8,220.5 L164.2,218.3 L164.6,220.5 L165.0,218.8 L165.4,215.8 L165.8,219.2 L166.2,219.2 L166.7,218.9 L167.1,215.8 L167.5,216.2 L168.0,222.5 L168.5,215.8 L169.0,223.0 L169.5,222.5 L169.9,214.7 L170.4,220.2 L170.8,214.1 L171.2,213.8 L171.7,220.5 L172.1,220.5 L172.6,215.2 L173.0,220.0 L173.5,225.7 L174.0,219.7 L174.5,230.5 L175.0,230.0 L175.4,229.5 L175.8,233.0 L176.2,229.6 L176.7,232.9 L177.1,232.6 L177.5,232.5 L178.0,233.9 L178.5,242.9 L179.0,242.9 L179.5,242.5 L179.9,242.1 L180.3,245.1 L180.8,246.7 L181.2,242.1 L181.6,246.7 L182.0,246.2 L182.4,245.8 L182.9,250.4 L183.3,245.8 L183.8,250.4 L184.2,250.0 L184.8,250.4 L185.2,244.6 L185.8,244.6 L186.2,245.0 L186.7,250.4 L187.1,244.6 L187.6,250.4 L188.0,250.0 L188.5,254.3 L189.0,249.6 L189.5,257.9 L190.0,257.5 L190.4,257.1 L190.9,268.1 L191.3,264.8 L191.8,269.3 L192.2,271.2 L192.8,270.9 L193.2,281.5 L193.8,276.2 L194.2,283.8 L194.7,284.1 L195.2,278.9 L195.6,275.9 L196.1,268.4 L196.5,268.8 L196.9,269.1 L197.3,263.7 L197.8,264.5 L198.2,266.7 L198.6,257.1 L199.0,257.5 L199.4,260.4 L199.9,258.8 L200.3,265.4 L200.8,258.8 L201.2,265.0 L201.7,269.3 L202.1,271.2 L202.5,265.9 L202.9,271.2 L203.3,269.2 L203.8,271.2 L204.2,272.2 L204.6,271.3 L205.0,271.7 L205.4,271.7 L205.8,274.1 L206.2,273.8 L206.7,273.4 L207.1,273.4 L207.5,279.1 L207.9,273.4 L208.3,279.1 L208.8,278.8 L209.2,278.4 L209.8,286.1 L210.2,282.8 L210.8,287.5 L211.2,296.1 L211.8,297.5 L212.2,306.0 L212.7,306.0 L213.1,295.6 L213.6,293.4 L214.0,293.0 L214.4,293.3 L214.9,289.6 L215.3,292.4 L215.8,286.0 L216.2,286.0 L216.6,289.0 L217.1,286.3 L217.5,286.2 L217.9,286.6 L218.3,282.2 L218.8,286.4 L219.2,282.2 L219.6,282.2 L220.0,282.5 L220.4,282.8 L220.8,282.8 L221.2,280.9 L221.7,282.8 L222.1,280.9 L222.5,281.2 L222.9,282.6 L223.3,283.4 L223.8,281.6 L224.2,282.3 L224.6,285.3 L225.0,285.0 L225.5,284.7 L226.0,286.4 L226.5,291.4 L227.0,291.5 L227.5,291.3 L228.0,285.6 L228.5,287.6 L229.0,283.8 L229.4,284.1 L229.9,284.1 L230.3,280.9 L230.8,283.6 L231.2,281.2 L231.7,280.9 L232.1,286.6 L232.5,280.9 L232.9,286.6 L233.3,282.8 L233.8,286.2 L234.2,288.7 L234.6,286.0 L235.0,288.9 L235.4,289.5 L235.8,287.4 L236.2,290.0 L236.7,289.7 L237.1,292.8 L237.6,289.7 L238.0,292.5 L238.5,297.6 L239.0,292.2 L239.5,297.8 L240.0,298.8 L240.4,299.7 L240.9,304.2 L241.3,301.5 L241.8,305.0 L242.2,309.6 L242.6,304.8 L243.1,311.0 L243.5,311.2 L244.0,312.3 L244.5,316.2 L245.0,318.3 L245.5,320.0 L245.9,323.4 L246.3,320.4 L246.8,323.8 L247.2,322.4 L247.6,315.0 L248.0,313.8 L248.5,315.8 L249.0,314.3 L249.5,314.7 L250.0,317.5 L250.4,321.1 L250.9,318.6 L251.3,323.9 L251.8,323.8 L252.2,323.6 L252.6,326.4 L253.1,325.1 L253.5,326.2 L254.0,324.5 L254.5,320.4 L255.0,318.8 L255.4,318.0 L255.8,318.2 L256.2,317.1 L256.7,318.3 L257.1,316.1 L257.5,316.2 L257.9,316.1 L258.3,316.4 L258.8,316.1 L259.2,316.4 L259.6,316.1 L260.0,316.2 L260.4,316.2 L260.8,317.5 L261.2,317.1 L261.7,317.6 L262.1,318.6 L262.5,318.8 L262.9,317.2 L263.4,316.5 L263.8,317.2 L264.2,316.2 L264.7,317.1 L265.1,320.5 L265.6,318.5 L266.0,321.2 L266.5,322.7 L267.0,322.6 L267.5,324.7 L268.0,325.0 L268.5,325.7 L269.0,325.0 L269.5,325.4 L270.0,326.2 L270.5,325.8 L271.0,324.9 L271.5,322.4 L272.0,322.5 L272.4,320.5 L272.9,320.7 L273.4,320.6 L273.8,318.6 L274.2,318.8 L274.7,318.9 L275.1,317.0 L275.5,317.4 L275.9,315.3 L276.3,316.4 L276.8,315.0 L277.2,312.9 L277.6,314.9 L278.0,312.1 L278.4,312.0 L278.8,310.2 L279.2,310.0 L279.7,310.1 L280.1,308.9 L280.5,310.1 L280.9,310.0 L281.3,308.6 L281.8,308.8 L282.2,308.6 L282.6,309.6 L283.0,309.2 L283.4,309.8 L283.8,310.1 L284.2,310.0 L284.7,308.8 L285.1,309.4 L285.5,308.5 L285.9,309.0 L286.3,307.4 L286.8,307.5 L287.2,307.7 L287.6,305.9 L288.0,306.6 L288.4,305.5 L288.8,306.3 L289.2,305.0 L289.7,304.8 L290.1,305.9 L290.5,306.1 L290.9,306.4 L291.3,305.6 L291.8,306.2 L292.2,306.2 L292.6,305.0 L293.0,306.0 L293.4,303.7 L293.8,304.8 L294.2,303.8 L294.7,303.1 L295.1,303.5 L295.5,302.9 L295.9,303.5 L296.3,302.3 L296.8,302.5 L297.2,302.4 L297.6,301.2 L298.0,300.3 L298.4,300.0 L298.8,300.8 L299.2,300.0 L299.7,298.5 L300.1,299.8 L300.5,299.0 L300.9,295.9 L301.3,296.4 L301.8,295.0 L302.2,293.0 L302.6,292.0 L303.0,293.7 L303.4,292.0 L303.8,292.2 L304.2,291.2 L304.7,291.4 L305.1,291.4 L305.5,291.1 L305.9,291.4 L306.3,291.1 L306.8,291.2 L307.2,291.9 L307.6,292.4 L308.0,292.0 L308.4,293.4 L308.8,293.9 L309.2,293.8 L309.7,296.4 L310.1,294.6 L310.6,297.5 L311.0,297.5 L311.5,297.7 L312.0,294.2 L312.5,295.1 L313.0,293.8 L313.4,293.9 L313.8,293.8 L314.2,295.8 L314.7,296.4 L315.1,294.8 L315.5,296.2 L316.0,296.2 L316.5,296.4 L317.0,297.7 L317.5,297.5 L317.9,294.2 L318.4,296.7 L318.8,293.7 L319.2,293.8 L319.7,294.2 L320.1,293.9 L320.5,295.2 L320.9,293.7 L321.3,295.2 L321.8,295.0 L322.2,294.8 L322.6,297.3 L323.0,296.8 L323.4,299.3 L323.8,298.4 L324.2,300.0 L324.7,301.1 L325.1,299.8 L325.6,300.7 L326.0,301.2 L326.5,300.5 L327.0,296.5 L327.5,299.4 L328.0,296.2 L328.4,295.6 L328.8,296.3 L329.2,294.9 L329.7,296.1 L330.1,294.8 L330.5,295.0 L330.9,295.9 L331.3,294.8 L331.8,296.4 L332.2,295.1 L332.6,295.4 L333.0,296.2 L333.5,296.4 L334.0,295.3 L334.5,290.2 L335.0,290.0 L335.4,290.2 L335.8,287.9 L336.2,289.1 L336.7,286.8 L337.1,287.4 L337.5,286.2 L337.9,285.5 L338.3,286.4 L338.8,284.8 L339.2,286.4 L339.6,284.8 L340.0,285.0 L340.4,286.6 L340.8,284.8 L341.2,287.7 L341.7,285.2 L342.1,287.7 L342.5,287.5 L342.9,286.3 L343.3,287.7 L343.8,284.8 L344.2,287.5 L344.6,284.8 L345.0,285.0 L345.4,285.2 L345.8,284.3 L346.2,284.7 L346.7,283.9 L347.1,283.7 L347.5,283.8 L347.9,285.7 L348.3,284.0 L348.8,288.9 L349.2,284.5 L349.6,288.9 L350.0,288.8 L350.4,288.6 L350.8,291.6 L351.2,288.9 L351.7,292.7 L352.1,290.3 L352.5,292.5 L352.9,292.7 L353.3,290.3 L353.8,291.3 L354.2,289.3 L354.6,289.8 L355.0,288.8 L355.4,287.9 L355.9,286.3 L356.3,288.7 L356.7,288.0 L357.1,284.8 L357.6,286.9 L358.0,285.0 L358.4,285.2 L358.8,285.2 L359.2,282.3 L359.7,284.6 L360.1,282.3 L360.5,282.5 L360.9,283.7 L361.3,282.3 L361.8,283.9 L362.2,282.3 L362.6,283.3 L363.0,283.8 L363.4,283.6 L363.8,281.7 L364.2,283.8 L364.7,283.1 L365.1,281.1 L365.5,281.2 L365.9,282.0 L366.3,281.1 L366.8,281.5 L367.2,282.4 L367.6,281.5 L368.0,282.5 L368.4,284.4 L368.8,282.3 L369.2,286.2 L369.7,284.0 L370.1,286.4 L370.5,286.2 L371.0,286.1 L371.5,286.1 L372.0,287.7 L372.5,287.5 L372.9,287.7 L373.4,281.4 L373.8,285.5 L374.2,281.2 L374.7,279.6 L375.1,281.3 L375.5,277.3 L375.9,280.8 L376.3,277.5 L376.8,277.5 L377.2,277.7 L377.6,276.1 L378.0,277.7 L378.4,277.7 L378.8,276.0 L379.2,276.2 L379.6,276.5 L380.0,276.2 L380.4,275.6 L380.8,275.9 L381.2,274.4 L381.7,275.8 L382.1,273.5 L382.5,273.8 L382.9,273.8 L383.3,273.0 L383.8,274.0 L384.2,272.3 L384.6,273.0 L385.0,272.5 L385.4,272.0 L385.8,272.3 L386.2,271.6 L386.7,272.2 L387.1,271.1 L387.5,271.2 L387.9,271.5 L388.3,271.0 L388.8,271.0 L389.2,271.5 L389.6,271.0 L390.0,271.2 L390.4,271.5 L390.8,271.2 L391.2,270.3 L391.7,269.8 L392.1,271.1 L392.5,270.0 L392.9,270.2 L393.3,273.2 L393.8,271.4 L394.2,272.6 L394.6,273.4 L395.0,276.2 L395.4,278.2 L395.8,276.0 L396.2,280.0 L396.7,277.6 L397.1,278.4 L397.5,280.0 L397.9,279.9 L398.3,278.7 L398.8,277.7 L399.2,279.3 L399.6,277.3 L400.0,277.5 L400.4,277.7 L400.8,276.6 L401.2,277.4 L401.7,276.4 L402.1,276.6 L402.5,276.2 L402.9,273.3 L403.3,271.9 L403.8,276.4 L404.2,271.0 L404.6,271.0 L405.0,271.2 L405.4,271.5 L405.8,268.8 L406.2,270.6 L406.7,267.3 L407.1,267.3 L407.5,267.5 L407.9,267.7 L408.3,263.9 L408.8,265.7 L409.2,263.5 L409.6,264.9 L410.0,262.5 L410.4,260.6 L410.8,262.7 L411.2,258.5 L411.7,261.7 L412.1,260.7 L412.5,258.8 L412.9,258.3 L413.3,258.6 L413.8,257.6 L414.2,257.4 L414.6,258.3 L415.0,257.5 L415.4,256.3 L415.8,254.8 L416.2,257.7 L416.7,254.8 L417.1,256.8 L417.5,255.0 L417.9,254.3 L418.3,255.1 L418.8,253.5 L419.2,255.2 L419.6,253.5 L420.0,253.8 L420.4,254.0 L420.8,251.8 L421.2,251.3 L421.7,253.7 L422.1,251.0 L422.5,251.2 L423.0,251.5 L423.5,249.8 L424.0,251.5 L424.5,250.0 L425.0,256.4 L425.5,253.9 L426.0,261.0 L426.5,261.2 L427.0,252.3 L427.5,257.1 L428.0,251.2 L428.5,247.8 L429.0,251.3 L429.5,246.5 L430.0,246.2 L430.5,246.1 L431.0,241.6 L431.5,244.4 L432.0,241.2 L432.5,237.9 L433.0,241.5 L433.5,237.2 L434.0,237.5 L434.4,238.8 L434.9,237.2 L435.4,239.1 L435.8,238.2 L436.2,238.8 L436.7,238.7 L437.1,235.9 L437.6,239.1 L438.0,236.2 L438.5,235.5 L439.0,236.1 L439.5,234.7 L440.0,235.0 L440.5,241.5 L441.0,238.9 L441.5,243.4 L442.0,245.0 L442.4,245.6 L442.9,253.3 L443.3,250.6 L443.8,256.5 L444.2,256.8 L444.6,255.1 L445.1,247.2 L445.5,247.5 L446.0,241.3 L446.5,247.8 L447.0,238.4 L447.5,238.8 L448.0,239.1 L448.5,233.4 L449.0,239.2 L449.5,233.8 L449.9,233.3 L450.4,237.9 L450.8,233.3 L451.2,237.5 L451.8,245.3 L452.2,239.7 L452.8,247.5 L453.2,254.8 L453.6,247.9 L454.0,256.5 L454.5,256.9 L455.0,250.3 L455.5,242.0 L456.0,248.2 L456.5,246.3 L457.0,250.0 L457.4,252.8 L457.9,249.6 L458.3,257.9 L458.8,257.5 L459.2,257.1 L459.6,257.2 L460.1,264.1 L460.5,263.8 L461.0,264.3 L461.5,272.5 L461.9,266.8 L462.3,272.7 L462.8,267.0 L463.2,267.6 L463.6,270.7 L464.1,268.9 L464.5,272.5 L464.9,277.0 L465.3,274.4 L465.8,279.0 L466.2,279.1 L466.6,271.7 L467.1,269.5 L467.6,269.1 L468.0,268.8 L468.5,269.1 L469.0,263.6 L469.5,267.4 L470.0,263.8 L470.5,264.1 L471.0,259.7 L471.5,264.1 L472.0,260.0 L472.5,259.7 L473.0,262.8 L473.5,260.4 L474.0,262.5 L474.5,266.6 L475.0,262.7 L475.5,269.1 L476.0,268.8 L476.5,268.4 L477.0,276.9 L477.5,277.8 L478.0,277.5 L478.5,277.3 L479.0,283.6 L479.5,281.3 L480.0,285.0 L480.5,285.3 L481.0,279.6 L481.5,282.3 L482.0,278.8 L482.5,278.5 L483.0,281.1 L483.5,281.5 L484.0,281.2 L484.5,281.0 L485.0,286.9 L485.5,283.8 L486.0,287.5 L486.0,292.5 L486.5,300.2 L487.0,302.5 L487.5,309.3 L488.0,311.2 L488.5,312.0 L489.0,318.8 L489.4,323.0 L489.8,319.5 L490.2,323.8 L490.7,324.3 L491.1,330.4 L491.5,332.5 L491.9,333.5 L492.3,336.4 L492.8,337.5 L493.2,334.4 L493.6,333.1 L494.0,330.0 L494.5,329.0 L495.0,330.2 L495.5,327.3 L496.0,327.5 L496.4,329.0 L496.9,327.8 L497.3,330.1 L497.8,330.0 L498.2,330.0 L498.6,333.3 L499.1,331.6 L499.5,333.8 L500.0,335.8 L500.5,334.4 L501.0,337.6 L501.5,337.5 L502.0,340.5 L502.5,340.4 L503.0,342.5 L503.5,344.2 L504.0,345.0 L504.5,341.8 L505.0,342.0 L505.5,338.8 L506.0,338.7 L506.5,335.8 L507.0,337.4 L507.5,335.0 L508.0,333.2 L508.5,334.1 L509.0,332.8 L509.5,332.5 L510.0,332.6 L510.5,330.4 L511.0,331.0 L511.5,330.0 L512.0,330.6 L512.5,331.4 L513.0,330.3 L513.5,331.2 L514.0,331.4 L514.5,328.7 L515.0,329.9 L515.5,328.8 L516.0,328.7 L516.5,330.1 L517.0,329.0 L517.5,330.0 L518.0,329.2 L518.5,327.0 L519.0,326.7 L519.5,325.0 L520.0,324.1 L520.5,325.2 L521.0,322.3 L521.5,322.5 L521.9,322.7 L522.3,320.4 L522.8,321.9 L523.2,320.2 L523.6,320.1 L524.0,320.0 L524.4,319.9 L524.8,317.7 L525.2,317.3 L525.7,319.4 L526.1,317.3 L526.5,317.5 L526.9,317.7 L527.3,316.1 L527.8,317.7 L528.2,316.1 L528.6,317.1 L529.0,316.2 L529.4,315.3 L529.8,316.4 L530.2,314.8 L530.7,315.7 L531.1,315.0 L531.5,315.0 L531.9,315.2 L532.3,313.8 L532.8,315.2 L533.2,313.6 L533.6,314.6 L534.0,313.8 L534.4,312.5 L534.8,313.9 L535.2,311.1 L535.7,311.5 L536.1,312.2 L536.5,311.2 L537.0,311.1 L537.5,311.1 L538.0,312.7 L538.5,312.5 L539.0,312.3 L539.5,317.3 L540.0,314.3 L540.5,317.5 L541.0,316.9 L541.5,314.3 L542.0,316.0 L542.5,312.5 L543.0,309.6 L543.5,311.4 L544.0,309.0 L544.5,308.8 L545.0,308.8 L545.5,306.8 L546.0,308.4 L546.5,306.2 L546.9,304.8 L547.4,306.5 L547.8,304.8 L548.2,305.0 L548.7,308.6 L549.1,304.8 L549.6,306.2 L550.0,310.0 L550.5,313.7 L551.0,311.0 L551.5,315.0 L552.0,315.0 L552.5,314.8 L553.0,314.8 L553.5,317.2 L554.0,317.5 L554.5,318.0 L555.0,321.3 L555.5,321.4 L556.0,321.2 L556.5,319.0 L557.0,319.9 L557.5,316.7 L558.0,316.2 L558.5,316.3 L559.0,315.2 L559.5,315.7 L560.0,315.0 L560.5,314.8 L561.0,320.2 L561.5,320.0 L562.0,319.8 L562.5,317.3 L563.0,317.8 L563.5,316.2 L564.0,314.7 L564.5,315.9 L565.0,312.3 L565.5,312.5 L566.0,312.7 L566.4,310.2 L566.9,312.4 L567.3,309.8 L567.8,310.0 L568.2,308.4 L568.6,310.2 L569.0,307.8 L569.4,309.2 L569.8,307.3 L570.2,307.5 L570.7,307.7 L571.1,305.2 L571.5,304.8 L571.9,307.3 L572.3,304.8 L572.8,305.0 L573.2,305.2 L573.6,302.2 L574.0,304.2 L574.4,303.5 L574.8,301.0 L575.2,301.2 L575.7,301.5 L576.1,299.3 L576.5,298.6 L576.9,299.6 L577.3,297.4 L577.8,297.5 L578.2,297.7 L578.6,294.3 L579.0,296.2 L579.4,294.5 L579.8,295.8 L580.2,293.8 L580.7,295.8 L581.1,294.5 L581.5,296.1 L581.9,297.4 L582.3,295.9 L582.8,297.5 L583.2,297.7 L583.6,294.8 L584.1,297.7 L584.5,295.0 L585.0,292.3 L585.5,295.0 L586.0,292.3 L586.5,292.5 L587.0,292.7 L587.5,291.0 L588.0,292.7 L588.5,291.2 L589.0,291.0 L589.5,294.0 L590.0,291.8 L590.5,293.8 L591.0,295.8 L591.5,293.5 L592.0,296.5 L592.5,296.2 L593.0,296.0 L593.5,298.5 L594.0,298.8 L594.5,296.3 L595.0,296.7 L595.5,293.8 L596.0,293.6 L596.5,296.5 L597.0,296.2 L597.5,296.9 L598.0,304.9 L598.5,305.0 L599.0,305.3 L599.5,311.5 L600.0,313.8 L600.5,312.4 L601.0,313.8 L601.5,311.2 L602.0,308.6 L602.5,310.1 L603.0,308.8 L603.5,310.6 L604.0,316.4 L604.5,316.2 L605.0,311.9 L605.5,314.5 L606.0,311.2 L606.5,307.1 L607.0,309.3 L607.5,303.8 L608.0,303.5 L608.5,307.7 L609.0,307.5 L609.5,307.3 L610.0,312.5 L610.5,312.5 L611.0,309.2 L611.5,311.7 L612.0,307.5 L612.5,304.5 L613.0,307.2 L613.5,303.5 L614.0,303.8 L614.5,303.5 L615.0,302.0 L615.5,303.0 L616.0,301.2 L616.5,298.8 L617.0,300.3 L617.5,297.7 L618.0,297.5 L618.5,297.7 L619.0,294.8 L619.5,294.8 L620.0,295.0 L620.5,295.2 L621.0,292.3 L621.5,292.9 L622.0,291.2 L622.5,289.0 L623.0,291.5 L623.5,288.6 L624.0,288.8 L624.5,289.6 L625.0,290.2 L625.5,288.5 L626.0,290.0 L626.4,291.2 L626.9,291.9 L627.3,289.8 L627.8,292.5 L628.2,297.4 L628.6,297.7 L629.1,295.4 L629.5,298.8 L630.0,298.5 L630.5,301.2 L631.0,298.8 L631.5,301.2 L632.0,297.9 L632.5,301.5 L633.0,297.3 L633.5,297.5 L634.0,297.3 L634.5,297.3 L635.0,299.0 L635.5,298.8 L636.0,295.3 L636.5,298.5 L637.0,297.4 L637.5,295.0 L638.0,292.0 L638.5,295.2 L639.0,291.5 L639.5,291.2 L640.0,291.0 L640.5,287.3 L641.0,291.4 L641.5,287.5 L642.0,287.7 L642.5,284.7 L643.0,287.4 L643.5,285.0 L644.0,284.7 L644.5,286.5 L645.0,284.7 L645.5,286.2 L646.0,286.0 L646.5,290.2 L647.0,290.2 L647.5,290.0 L648.0,289.8 L648.5,294.0 L649.0,290.2 L649.5,293.8 L650.0,294.0 L650.5,288.5 L651.0,291.4 L651.5,288.8 L652.0,287.2 L652.5,289.0 L653.0,286.0 L653.5,286.2 L654.0,286.5 L654.5,286.5 L655.0,282.6 L655.5,282.5 L656.0,282.5 L656.5,282.4 L657.0,279.7 L657.5,280.0 L658.0,277.9 L658.5,280.3 L659.0,277.2 L659.5,277.5 L660.0,278.5 L660.5,277.2 L661.0,279.0 L661.5,278.8 L662.0,275.8 L662.5,279.0 L663.0,274.8 L663.5,275.0 L664.0,273.5 L664.5,275.3 L665.0,272.2 L665.5,272.5 L666.0,272.8 L666.4,271.0 L666.9,272.8 L667.3,271.0 L667.8,271.2 L668.2,271.5 L668.6,269.7 L669.0,271.0 L669.4,270.1 L669.8,271.5 L670.2,270.0 L670.7,270.3 L671.1,268.5 L671.5,268.8 L672.0,269.0 L672.5,266.5 L673.0,266.2 L673.5,265.4 L674.0,259.7 L674.5,264.6 L675.0,260.0 L675.5,260.1 L676.0,256.9 L676.5,259.9 L677.0,256.2 L677.5,256.0 L678.0,256.0 L678.5,261.5 L679.0,261.2 L679.5,265.3 L680.0,261.0 L680.5,265.0 L681.0,265.2 L681.5,260.7 L682.0,264.2 L682.5,260.0 L683.0,255.8 L683.5,258.6 L684.0,257.2 L684.5,255.0 L685.0,251.5 L685.5,255.1 L686.0,250.1 L686.5,250.0 L687.0,250.1 L687.5,246.1 L688.0,249.0 L688.5,246.2 L689.0,242.3 L689.5,246.5 L690.0,242.9 L690.5,242.5 L691.0,242.3 L691.5,239.7 L692.0,242.8 L692.5,240.0 L693.0,243.9 L693.5,239.7 L694.0,240.9 L694.5,243.8 L694.9,247.6 L695.4,244.6 L695.8,250.3 L696.2,250.0 L696.7,246.4 L697.1,247.3 L697.6,241.3 L698.0,241.2 L698.5,237.5 L699.0,239.3 L699.5,237.6 L700.0,235.0 L700.5,233.5 L701.0,235.3 L701.5,233.5 L702.0,233.8 L702.4,239.2 L702.9,233.5 L703.3,241.5 L703.8,241.2 L704.2,237.9 L704.6,241.5 L705.1,237.2 L705.5,237.5 L706.0,237.8 L706.5,232.2 L707.0,236.8 L707.5,232.5 L708.0,230.1 L708.5,231.4 L709.0,230.1 L709.5,227.5 L710.0,227.7 L710.5,223.4 L711.0,223.4 L711.5,223.8 L712.0,224.1 L712.5,219.7 L713.0,223.9 L713.5,220.0 L714.0,219.7 L714.5,224.5 L715.0,222.0 L715.5,225.0 L716.0,225.3 L716.5,225.3 L717.0,221.0 L717.5,221.2 L718.0,221.6 L718.5,218.4 L719.0,221.5 L719.5,218.8 L720.0,217.1 L720.5,219.1 L721.0,217.2 L721.5,217.5 L722.0,222.3 L722.5,222.3 L723.0,227.5 L723.5,233.2 L724.0,235.0 L724.5,227.4 L725.0,230.2 L725.5,222.5 L726.0,217.6 L726.5,219.3 L727.0,212.1 L727.5,211.2 L728.0,211.7 L728.5,211.7 L729.0,207.0 L729.5,207.5 L730.0,211.2 L730.5,209.2 L731.0,215.4 L731.5,215.0 L732.0,214.6 L732.5,219.2 L733.0,218.8 L733.5,215.3 L734.0,218.3 L734.5,213.8 L735.0,209.5 L735.5,214.2 L736.0,212.6 L736.5,207.5 L737.0,207.1 L737.5,211.7 L738.0,207.2 L738.5,211.2 L739.0,211.7 L739.5,211.7 L740.0,205.8 L740.5,206.2 L741.0,203.3 L741.5,203.3 L742.0,203.3 L742.5,203.8 L742.9,204.2 L743.3,202.0 L743.8,204.2 L744.2,202.0 L744.6,202.0 L745.0,202.5 L745.4,203.0 L745.8,200.8 L746.2,203.0 L746.7,200.8 L747.1,203.0 L747.5,201.2 L747.9,200.8 L748.3,204.0 L748.8,200.8 L749.2,204.1 L749.6,202.4 L750.0,203.8 L750.5,203.3 L751.0,209.2 L751.5,203.3 L752.0,208.8 L752.5,209.2 L753.0,204.2 L753.5,206.8 L754.0,203.8 L754.5,202.1 L755.0,204.2 L755.5,202.5 L756.0,207.3 L756.5,215.0 L757.0,226.4 L757.5,235.0 L758.0,229.6 L758.5,235.4 L759.0,230.0 L759.5,229.6 L760.0,237.9 L760.5,237.5 L761.0,226.6 L761.5,231.1 L762.0,220.0 L762.5,217.9 L763.0,212.0 L763.5,210.0 L764.0,210.4 L764.5,205.8 L765.0,206.2 L765.5,211.6 L766.0,207.0 L766.5,214.7 L767.0,215.0 L767.5,211.6 L768.0,215.4 L768.5,208.3 L769.0,208.8 L769.5,212.7 L770.0,212.9 L770.5,212.5 L771.0,213.1 L771.5,224.3 L772.0,225.0 L772.5,224.6 L773.0,235.4 L773.5,235.0 L774.0,234.6 L774.5,240.4 L775.0,240.0 L775.5,239.6 L776.0,245.4 L776.5,245.0 L777.0,238.3 L777.5,236.7 L778.0,230.0 L778.5,224.6 L779.0,227.9 L779.5,222.5 L779.9,218.6 L780.4,222.1 L780.8,215.8 L781.2,216.2 L781.7,216.7 L782.1,210.8 L782.6,216.5 L783.0,211.2 L783.5,210.8 L784.0,214.2 L784.5,212.3 L785.0,213.8 L785.5,213.8 L786.0,208.9 L786.5,212.1 L787.0,208.8 L787.4,207.1 L787.9,209.2 L788.3,207.1 L788.8,207.5 L789.2,212.9 L789.6,212.0 L790.0,217.5 L790.4,212.9 L790.8,211.2 L791.2,210.0 L791.5,200.0 L792.0,200.2 L792.5,197.1 L793.0,200.4 L793.5,197.5 L794.0,196.1 L794.5,197.9 L795.0,195.8 L795.5,196.2 L796.0,197.9 L796.5,195.9 L797.0,197.9 L797.5,197.5 L798.0,197.1 L798.5,199.1 L799.0,197.2 L799.5,198.8 L800.0,198.4 L800.5,201.9 L801.0,202.6 L801.5,202.5 L802.0,207.4 L802.5,202.7 L803.0,207.5 L803.5,211.3 L804.0,211.2 L804.5,203.7 L805.0,200.0 L805.5,200.3 L806.0,193.5 L806.5,193.8 L807.0,188.3 L807.5,192.9 L808.0,187.5 L808.5,187.8 L809.0,183.5 L809.5,183.8 L810.0,185.3 L810.5,183.5 L811.0,185.3 L811.5,185.0 L812.0,181.6 L812.5,183.5 L813.0,181.2 L813.5,178.2 L814.0,178.4 L814.5,175.0 L815.0,170.7 L815.5,170.3 L816.0,166.2 L816.5,164.5 L817.0,166.5 L817.5,163.8 L818.0,163.5 L818.5,169.0 L819.0,168.8 L819.5,168.5 L820.0,172.8 L820.5,169.0 L821.0,172.5 L821.5,172.8 L822.0,171.9 L822.5,167.5 L823.0,163.7 L823.5,167.8 L824.0,163.9 L824.5,163.8 L825.0,163.5 L825.5,158.5 L826.0,162.9 L826.5,158.8 L827.0,155.4 L827.5,158.7 L828.0,153.5 L828.5,153.8 L829.0,153.5 L829.5,158.1 L830.0,158.8 L830.5,155.7 L831.0,156.9 L831.5,152.5 L832.0,150.5 L832.5,151.9 L833.0,151.2 L833.5,150.0 L834.0,150.0 L834.5,156.2 L835.0,156.2 L835.5,156.5 L836.0,149.7 L836.5,150.0 L837.0,146.0 L837.5,150.3 L838.0,146.2 L838.5,143.2 L839.0,143.1 L839.5,140.0 L840.0,136.4 L840.5,138.7 L841.0,135.0 L841.5,131.0 L842.0,135.3 L842.5,131.2 L843.0,128.5 L843.5,131.5 L844.0,128.8 L844.5,128.5 L845.0,132.5 L845.5,132.4 L846.0,125.0 L846.5,121.0 L847.0,118.8 L847.5,115.4 L848.0,113.8 L848.4,114.1 L848.8,114.1 L849.2,111.2" fill="none" stroke="#0070c0" stroke-width="3.2" stroke-linejoin="round" stroke-linecap="round"/>
<path d="M68.9,295.5 L69.3,295.3 L69.8,301.2 L70.3,301.4 L70.9,292.5 L71.4,292.3 L71.9,292.5 L72.3,291.9 L72.7,290.8 L73.2,292.3 L73.6,284.8 L74.0,288.4 L74.4,285.0 L74.9,281.1 L75.3,284.9 L75.7,276.5 L76.1,276.3 L76.6,278.3 L77.0,275.0 L77.4,273.4 L77.9,274.9 L78.3,272.3 L78.8,272.5 L79.2,275.3 L79.7,272.3 L80.2,277.7 L80.6,277.7 L81.1,272.3 L81.5,277.7 L82.0,277.5 L82.4,274.8 L82.8,275.7 L83.3,277.3 L83.7,277.7 L84.1,274.8 L84.5,275.0 L84.9,275.2 L85.4,271.0 L85.8,273.6 L86.2,270.6 L86.6,271.5 L87.0,270.0 L87.5,267.6 L87.9,269.5 L88.4,263.5 L88.8,263.8 L89.3,267.6 L89.8,264.2 L90.3,267.4 L90.8,270.0 L91.3,274.2 L91.8,271.6 L92.2,282.7 L92.7,282.5 L93.1,282.3 L93.6,293.7 L94.0,292.1 L94.4,296.2 L94.8,294.8 L95.3,287.3 L95.7,294.1 L96.2,287.5 L96.7,293.4 L97.2,287.3 L97.7,294.0 L98.2,293.8 L98.7,288.2 L99.2,288.2 L99.7,282.3 L100.3,280.0 L100.7,280.2 L101.2,280.2 L101.6,271.3 L102.1,270.0 L102.5,270.3 L103.0,266.0 L103.4,266.0 L103.9,266.2 L104.4,266.5 L104.9,262.2 L105.4,264.9 L105.9,262.5 L106.3,258.2 L106.8,252.3 L107.2,259.6 L107.7,252.5 L108.2,252.8 L108.7,251.2 L109.2,252.8 L109.7,251.2 L110.1,249.8 L110.5,251.6 L111.0,249.7 L111.4,249.8 L111.8,250.7 L112.2,250.0 L112.7,246.2 L113.1,250.3 L113.5,250.3 L114.0,244.7 L114.4,250.3 L114.8,245.0 L115.3,239.7 L115.7,245.3 L116.1,240.4 L116.6,239.6 L117.0,239.6 L117.4,240.0 L117.8,240.4 L118.3,235.9 L118.7,240.4 L119.1,235.9 L119.6,239.4 L120.0,236.2 L120.4,235.9 L120.8,235.9 L121.3,241.6 L121.7,235.9 L122.1,241.6 L122.5,241.2 L122.9,238.6 L123.4,237.4 L123.8,241.7 L124.2,237.1 L124.7,241.7 L125.1,237.5 L125.5,229.7 L126.0,237.9 L126.4,226.8 L126.9,235.9 L127.3,225.8 L127.7,226.2 L128.1,225.8 L128.6,235.0 L129.0,226.7 L129.4,235.0 L129.9,240.4 L130.4,234.6 L130.9,240.4 L131.4,240.0 L131.9,232.1 L132.4,240.4 L132.9,232.1 L133.4,232.5 L133.8,239.5 L134.2,232.1 L134.7,244.2 L135.1,243.8 L135.5,243.3 L135.9,243.3 L136.3,247.9 L136.7,243.3 L137.1,247.9 L137.5,247.5 L138.0,247.6 L138.5,237.1 L138.9,245.1 L139.4,237.5 L139.9,227.8 L140.4,237.9 L140.9,227.0 L141.5,227.5 L141.9,228.0 L142.3,224.5 L142.7,228.0 L143.1,224.5 L143.6,228.0 L144.0,225.0 L144.4,220.1 L144.9,225.5 L145.3,218.3 L145.7,225.5 L146.2,218.3 L146.6,223.9 L147.0,218.8 L147.5,218.3 L148.0,224.9 L148.5,220.3 L149.0,225.0 L149.5,230.3 L149.9,224.5 L150.4,234.2 L150.9,233.8 L151.4,240.5 L151.9,236.8 L152.3,243.5 L152.9,243.9 L153.4,229.6 L153.9,230.0 L154.5,225.6 L155.1,213.0 L155.6,208.8 L156.0,212.4 L156.5,209.9 L156.9,216.0 L157.3,215.5 L157.7,215.0 L158.1,226.7 L158.6,215.0 L159.0,226.2 L159.4,238.5 L159.9,225.8 L160.4,238.0 L160.8,237.3 L161.3,228.5 L161.8,224.5 L162.2,225.0 L162.7,225.5 L163.1,225.5 L163.6,219.5 L164.0,220.0 L164.4,220.5 L164.9,218.4 L165.3,220.5 L165.7,220.5 L166.1,218.3 L166.5,218.8 L166.9,219.2 L167.4,219.2 L167.8,215.8 L168.2,215.8 L168.6,219.2 L169.0,216.2 L169.5,221.6 L170.0,215.8 L170.5,223.0 L171.0,222.5 L171.5,223.0 L171.9,213.3 L172.4,221.8 L172.8,213.8 L173.2,213.3 L173.7,219.9 L174.1,214.3 L174.5,220.0 L175.0,226.5 L175.5,223.2 L176.0,229.1 L176.4,230.0 L176.9,229.5 L177.3,233.0 L177.7,229.6 L178.1,229.6 L178.5,232.9 L178.9,232.5 L179.4,232.1 L179.9,242.9 L180.4,233.6 L180.8,242.5 L181.2,244.5 L181.7,242.1 L182.1,246.7 L182.5,242.1 L182.9,246.7 L183.3,246.2 L183.8,245.8 L184.2,250.4 L184.6,245.8 L185.1,250.4 L185.5,250.0 L186.0,250.4 L186.5,244.6 L187.1,250.4 L187.6,245.0 L188.0,244.6 L188.4,250.4 L188.8,244.6 L189.3,250.0 L189.8,257.9 L190.2,249.6 L190.7,257.9 L191.2,257.5 L191.6,257.1 L192.1,270.7 L192.5,258.4 L192.9,271.6 L193.3,271.2 L193.8,270.9 L194.3,283.4 L194.8,284.1 L195.2,283.8 L195.7,275.6 L196.2,282.1 L196.7,270.3 L197.1,274.7 L197.6,268.8 L198.1,264.0 L198.5,269.1 L198.9,257.1 L199.3,268.5 L199.8,257.1 L200.2,257.5 L200.7,260.3 L201.1,262.0 L201.5,257.1 L202.0,265.4 L202.4,265.0 L202.8,264.6 L203.2,271.6 L203.6,264.6 L204.0,271.6 L204.4,271.6 L204.8,271.2 L205.3,270.9 L205.7,274.1 L206.1,270.9 L206.5,274.1 L206.9,270.9 L207.3,273.8 L207.7,277.2 L208.1,273.4 L208.6,279.1 L209.0,279.1 L209.4,276.5 L209.8,278.8 L210.3,282.7 L210.7,278.4 L211.2,281.0 L211.7,287.5 L212.1,296.7 L212.6,297.0 L213.0,306.0 L213.5,304.3 L214.0,297.7 L214.4,301.6 L214.9,293.0 L215.3,288.3 L215.8,293.3 L216.2,288.2 L216.7,293.3 L217.1,286.0 L217.6,289.9 L218.0,285.9 L218.5,286.2 L218.9,286.6 L219.3,283.5 L219.7,285.6 L220.2,282.6 L220.6,284.2 L221.0,282.5 L221.4,281.6 L221.8,282.8 L222.3,280.9 L222.7,282.8 L223.1,280.9 L223.5,281.2 L223.9,282.7 L224.3,283.5 L224.7,280.9 L225.2,285.3 L225.6,280.9 L226.0,285.0 L226.5,291.8 L226.9,286.3 L227.4,291.5 L227.9,291.5 L228.4,287.4 L228.9,290.2 L229.5,283.4 L230.0,283.8 L230.4,284.1 L230.9,280.9 L231.3,284.1 L231.8,283.7 L232.3,281.2 L232.7,280.9 L233.1,286.6 L233.5,280.9 L233.9,286.6 L234.3,283.0 L234.7,286.2 L235.1,288.2 L235.5,289.1 L235.9,286.0 L236.4,290.3 L236.8,290.3 L237.2,290.0 L237.6,289.7 L238.0,292.8 L238.5,289.7 L238.9,292.5 L239.4,295.7 L239.9,293.7 L240.4,294.4 L240.8,298.8 L241.3,302.9 L241.7,299.6 L242.1,305.2 L242.5,305.0 L242.9,304.8 L243.3,310.3 L243.8,310.5 L244.2,311.2 L244.6,312.7 L245.1,320.1 L245.6,314.1 L246.1,320.0 L246.5,319.8 L246.9,323.9 L247.3,323.8 L247.7,317.6 L248.1,320.0 L248.6,313.8 L249.1,313.6 L249.6,317.7 L250.0,316.0 L250.5,317.5 L250.9,319.6 L251.4,322.5 L251.8,320.7 L252.2,323.8 L252.6,325.2 L253.1,324.0 L253.5,326.4 L253.9,326.2 L254.4,321.4 L254.9,322.4 L255.4,318.8 L255.9,318.9 L256.3,316.6 L256.7,316.1 L257.1,317.4 L257.5,316.4 L258.0,316.2 L258.4,316.4 L258.8,316.1 L259.2,316.4 L259.6,316.1 L260.0,316.4 L260.5,316.2 L260.9,317.0 L261.3,318.1 L261.7,316.4 L262.1,318.6 L262.5,317.8 L262.9,318.8 L263.4,318.5 L263.8,317.0 L264.3,317.7 L264.7,316.2 L265.1,316.3 L265.6,321.4 L266.0,317.2 L266.4,321.2 L266.9,323.3 L267.4,321.8 L267.9,325.0 L268.4,325.0 L268.9,324.9 L269.4,326.4 L269.9,326.4 L270.4,326.2 L270.9,324.6 L271.4,325.2 L271.9,322.4 L272.4,322.5 L272.9,322.6 L273.3,319.4 L273.8,318.6 L274.2,320.3 L274.7,318.8 L275.1,317.4 L275.5,318.3 L275.9,316.0 L276.4,316.8 L276.8,315.2 L277.2,315.0 L277.6,315.1 L278.0,312.1 L278.5,313.6 L278.9,310.6 L279.3,312.4 L279.7,310.0 L280.1,309.0 L280.6,310.2 L281.0,308.6 L281.4,309.8 L281.8,308.6 L282.2,308.8 L282.6,309.6 L283.1,308.6 L283.5,308.6 L283.9,310.2 L284.3,308.8 L284.7,310.0 L285.1,310.1 L285.6,307.5 L286.0,307.3 L286.4,309.9 L286.8,307.3 L287.2,307.5 L287.7,307.7 L288.1,305.0 L288.5,306.7 L288.9,305.4 L289.3,306.6 L289.7,305.0 L290.2,304.8 L290.6,306.4 L291.0,304.8 L291.4,306.1 L291.8,305.8 L292.2,306.2 L292.7,304.4 L293.1,306.4 L293.5,304.3 L293.9,305.3 L294.3,303.6 L294.8,303.8 L295.2,303.9 L295.6,302.3 L296.0,303.9 L296.4,302.3 L296.8,303.5 L297.3,302.5 L297.7,302.7 L298.1,300.6 L298.5,301.8 L298.9,301.4 L299.3,299.8 L299.8,300.0 L300.2,300.2 L300.6,300.2 L301.0,294.8 L301.5,300.1 L301.9,294.8 L302.3,295.0 L302.7,295.2 L303.1,291.3 L303.6,295.2 L304.0,291.1 L304.4,291.1 L304.8,291.2 L305.2,291.4 L305.7,291.1 L306.1,291.4 L306.5,291.1 L306.9,291.4 L307.3,291.2 L307.7,291.1 L308.1,292.9 L308.6,291.1 L309.0,293.9 L309.4,292.1 L309.8,293.8 L310.2,297.0 L310.7,293.6 L311.1,297.7 L311.5,297.5 L312.0,295.7 L312.5,296.7 L313.0,293.6 L313.6,293.8 L314.0,295.8 L314.4,293.6 L314.8,294.0 L315.2,296.4 L315.6,294.6 L316.0,296.2 L316.5,296.8 L317.0,296.6 L317.5,297.7 L318.0,297.5 L318.5,295.5 L318.9,296.3 L319.4,294.1 L319.8,293.8 L320.2,294.8 L320.6,293.6 L321.1,295.2 L321.5,295.2 L321.9,293.7 L322.3,295.0 L322.7,297.9 L323.1,294.8 L323.5,300.2 L323.9,295.8 L324.4,300.2 L324.8,300.0 L325.2,299.9 L325.6,301.0 L326.1,299.9 L326.5,301.2 L327.0,301.4 L327.5,300.4 L328.0,296.1 L328.5,296.2 L329.0,296.4 L329.4,294.8 L329.8,294.8 L330.2,294.8 L330.6,296.3 L331.0,295.0 L331.5,294.8 L331.9,296.4 L332.3,294.8 L332.7,296.4 L333.1,296.4 L333.5,296.2 L334.0,292.4 L334.6,295.8 L335.1,289.8 L335.6,290.0 L336.0,290.2 L336.4,290.2 L336.8,286.1 L337.3,289.0 L337.7,286.1 L338.1,286.2 L338.5,286.4 L338.9,284.8 L339.4,286.4 L339.8,284.8 L340.2,285.8 L340.6,285.0 L341.0,286.2 L341.4,285.1 L341.8,287.0 L342.3,285.8 L342.7,287.7 L343.1,287.5 L343.5,287.7 L343.9,284.8 L344.3,287.6 L344.8,284.8 L345.2,287.2 L345.6,285.0 L346.0,283.6 L346.4,283.6 L346.9,285.2 L347.3,283.8 L347.7,284.2 L348.1,283.8 L348.5,283.6 L348.9,288.0 L349.3,283.6 L349.8,288.9 L350.2,285.6 L350.6,288.8 L351.0,291.2 L351.4,292.6 L351.8,288.6 L352.2,292.7 L352.6,292.7 L353.1,292.5 L353.5,291.1 L353.9,292.3 L354.3,288.9 L354.7,291.7 L355.2,288.7 L355.6,288.8 L356.0,288.8 L356.4,285.9 L356.9,288.9 L357.3,284.8 L357.7,288.1 L358.2,287.1 L358.6,285.0 L359.0,285.2 L359.4,285.2 L359.9,282.3 L360.3,283.9 L360.7,282.4 L361.1,282.5 L361.5,283.5 L361.9,282.3 L362.4,283.9 L362.8,282.3 L363.2,283.9 L363.6,283.8 L364.0,282.1 L364.4,283.9 L364.9,281.1 L365.3,281.1 L365.7,281.1 L366.1,281.2 L366.5,281.8 L367.0,281.2 L367.4,282.7 L367.8,281.3 L368.2,282.7 L368.6,282.5 L369.0,284.3 L369.4,282.3 L369.9,286.0 L370.3,282.7 L370.7,286.4 L371.1,286.2 L371.6,286.1 L372.1,287.7 L372.6,286.1 L373.1,287.5 L373.5,287.7 L374.0,282.7 L374.4,284.3 L374.9,281.2 L375.3,279.6 L375.7,281.3 L376.1,277.3 L376.6,281.5 L377.0,277.3 L377.4,277.5 L377.8,277.7 L378.2,276.0 L378.6,277.7 L379.1,276.0 L379.5,277.2 L379.9,276.2 L380.3,276.0 L380.7,276.2 L381.1,276.5 L381.5,274.9 L381.9,274.4 L382.3,276.0 L382.7,273.5 L383.2,273.8 L383.6,272.9 L384.0,274.0 L384.4,272.3 L384.8,274.0 L385.3,272.3 L385.7,272.5 L386.1,272.7 L386.5,271.0 L386.9,272.7 L387.3,271.3 L387.8,271.8 L388.2,271.2 L388.6,271.5 L389.0,271.0 L389.4,271.5 L389.8,271.5 L390.3,271.5 L390.7,271.2 L391.1,269.8 L391.5,271.5 L391.9,271.5 L392.4,269.8 L392.8,271.5 L393.2,270.0 L393.6,269.8 L394.0,273.9 L394.4,269.8 L394.8,276.5 L395.2,273.1 L395.7,276.2 L396.1,278.3 L396.5,280.2 L396.9,276.0 L397.3,279.3 L397.7,279.8 L398.1,280.0 L398.6,278.2 L399.0,280.2 L399.4,280.2 L399.8,277.3 L400.2,278.6 L400.6,277.5 L401.1,276.8 L401.5,277.7 L401.9,276.0 L402.3,277.3 L402.7,276.9 L403.2,276.2 L403.6,272.9 L404.0,276.5 L404.4,271.0 L404.8,276.0 L405.3,271.0 L405.7,271.2 L406.1,269.0 L406.5,271.3 L406.9,268.0 L407.4,271.0 L407.8,267.3 L408.2,267.5 L408.6,267.7 L409.0,263.3 L409.5,267.7 L409.9,262.3 L410.3,265.9 L410.7,262.5 L411.1,259.8 L411.6,262.7 L412.0,258.5 L412.4,261.7 L412.8,258.5 L413.2,258.8 L413.7,259.0 L414.1,259.0 L414.5,257.3 L414.9,259.0 L415.3,259.0 L415.8,257.5 L416.2,257.7 L416.6,255.4 L417.0,254.9 L417.4,256.5 L417.8,254.9 L418.3,255.0 L418.7,255.2 L419.1,255.2 L419.5,253.5 L419.9,255.2 L420.4,253.5 L420.8,253.8 L421.2,254.0 L421.6,251.0 L422.0,254.0 L422.4,251.4 L422.9,252.2 L423.3,251.2 L423.8,251.5 L424.3,249.8 L424.8,251.3 L425.3,250.0 L425.8,251.5 L426.3,259.4 L426.7,261.0 L427.2,256.7 L427.8,258.9 L428.3,251.2 L428.8,251.2 L429.3,248.0 L429.8,251.0 L430.3,246.0 L430.8,246.2 L431.3,246.5 L431.8,242.5 L432.4,243.6 L432.9,241.2 L433.4,239.5 L433.9,240.3 L434.4,241.4 L434.9,237.5 L435.4,237.2 L435.9,239.1 L436.3,237.2 L436.8,239.1 L437.2,238.8 L437.7,235.9 L438.1,239.1 L438.6,235.9 L439.0,236.2 L439.5,236.6 L440.1,234.7 L440.6,236.6 L441.1,235.0 L441.6,241.4 L442.1,234.7 L442.6,245.3 L443.1,245.0 L443.5,244.7 L443.9,256.8 L444.3,251.1 L444.8,256.5 L445.2,256.8 L445.7,247.2 L446.2,247.2 L446.6,247.5 L447.1,247.9 L447.7,238.4 L448.2,238.4 L448.7,238.8 L449.2,239.1 L449.8,234.1 L450.3,236.9 L450.8,233.8 L451.2,233.3 L451.7,237.9 L452.1,234.1 L452.5,237.5 L453.0,243.6 L453.5,237.6 L454.0,247.5 L454.4,256.8 L454.7,247.1 L455.1,256.5 L455.7,256.9 L456.2,241.8 L456.7,242.0 L457.2,241.6 L457.7,250.4 L458.2,250.0 L458.6,249.6 L459.0,257.9 L459.5,249.6 L459.9,257.5 L460.3,260.9 L460.7,258.6 L461.2,264.1 L461.6,263.8 L462.0,263.4 L462.5,272.5 L462.9,266.7 L463.4,272.8 L463.8,267.0 L464.2,266.7 L464.7,272.8 L465.1,266.7 L465.5,272.5 L465.9,279.3 L466.3,278.2 L466.7,279.0 L467.2,275.8 L467.6,279.3 L468.1,268.4 L468.6,274.0 L469.0,268.8 L469.6,264.0 L470.1,267.9 L470.6,263.5 L471.1,263.8 L471.6,264.1 L472.1,259.7 L472.6,259.7 L473.1,260.0 L473.6,262.1 L474.1,259.7 L474.6,262.8 L475.1,262.5 L475.6,262.2 L476.1,269.1 L476.6,262.7 L477.0,268.8 L477.5,275.3 L478.0,277.6 L478.5,277.8 L479.0,277.5 L479.5,277.2 L479.9,285.2 L480.4,281.6 L480.9,285.0 L481.4,285.0 L481.9,278.5 L482.4,285.3 L483.0,278.8 L483.5,278.5 L483.9,278.5 L484.4,281.5 L484.9,281.2 L485.4,281.0 L485.9,287.8 L486.4,281.0 L486.9,287.5 L486.8,292.5 L487.3,302.8 L487.8,302.5 L488.2,302.3 L488.7,311.2 L489.1,317.9 L489.6,318.8 L490.0,318.6 L490.4,323.9 L490.8,323.8 L491.2,323.6 L491.6,332.7 L492.0,332.5 L492.4,332.4 L492.8,337.0 L493.2,337.5 L493.6,333.8 L494.0,334.3 L494.5,330.0 L495.0,328.2 L495.5,329.4 L496.0,327.6 L496.5,327.5 L496.9,329.9 L497.4,330.2 L497.8,328.8 L498.2,330.0 L498.7,331.7 L499.1,330.1 L499.5,331.3 L499.9,333.8 L500.4,335.4 L500.9,334.8 L501.4,337.6 L501.9,337.5 L502.4,337.4 L502.9,341.3 L503.3,342.5 L503.8,343.3 L504.3,345.0 L504.8,344.8 L505.3,338.8 L505.9,338.8 L506.4,338.9 L506.9,338.6 L507.4,334.9 L507.9,335.0 L508.4,335.1 L508.9,332.4 L509.4,334.7 L509.9,332.5 L510.4,332.6 L510.9,330.2 L511.4,331.9 L511.9,330.0 L512.4,329.9 L512.9,330.4 L513.4,331.1 L513.9,331.2 L514.4,329.0 L514.9,331.4 L515.4,328.6 L515.9,328.8 L516.4,330.1 L516.9,328.6 L517.4,330.1 L517.9,330.0 L518.4,326.7 L519.0,329.9 L519.5,324.9 L520.0,325.0 L520.5,325.2 L521.0,322.3 L521.5,324.8 L522.0,322.5 L522.4,321.1 L522.8,322.7 L523.3,322.0 L523.7,321.5 L524.1,319.8 L524.5,320.0 L524.9,320.2 L525.4,318.1 L525.8,319.9 L526.2,317.5 L526.6,318.6 L527.0,317.5 L527.5,316.4 L527.9,317.7 L528.3,316.1 L528.7,317.6 L529.1,316.1 L529.6,316.2 L530.0,316.4 L530.4,314.9 L530.8,316.4 L531.2,314.8 L531.6,315.8 L532.1,315.0 L532.5,314.5 L532.9,315.0 L533.3,313.9 L533.7,314.6 L534.2,313.6 L534.6,313.8 L535.0,313.9 L535.4,312.5 L535.8,312.9 L536.3,311.1 L536.7,313.0 L537.1,311.2 L537.6,312.7 L538.1,311.1 L538.6,311.9 L539.1,312.5 L539.6,313.1 L540.1,316.4 L540.6,315.1 L541.0,317.5 L541.6,317.1 L542.1,314.0 L542.6,315.1 L543.1,312.5 L543.6,310.4 L544.1,312.2 L544.6,308.6 L545.1,308.8 L545.6,307.3 L546.1,306.6 L546.6,308.9 L547.1,306.2 L547.6,304.8 L548.0,306.5 L548.5,304.8 L548.9,305.0 L549.3,308.6 L549.8,304.9 L550.2,310.2 L550.6,310.0 L551.1,309.8 L551.6,309.8 L552.1,315.2 L552.6,315.0 L553.1,314.8 L553.6,317.6 L554.1,314.8 L554.5,317.5 L555.0,321.2 L555.5,318.3 L556.0,321.2 L556.5,321.2 L557.0,317.4 L557.5,321.4 L558.0,316.1 L558.6,316.2 L559.1,316.4 L559.6,315.2 L560.1,315.7 L560.6,315.0 L561.1,315.6 L561.5,319.4 L562.0,320.0 L562.5,318.2 L563.0,319.1 L563.5,316.7 L564.1,316.2 L564.6,314.8 L565.1,316.4 L565.6,316.3 L566.1,312.5 L566.5,311.5 L567.0,312.1 L567.5,310.5 L567.9,310.9 L568.4,310.0 L568.8,308.5 L569.2,310.2 L569.6,307.3 L570.0,310.2 L570.5,307.3 L570.9,307.5 L571.3,307.7 L571.7,304.8 L572.1,307.7 L572.6,304.8 L573.0,307.2 L573.4,305.0 L573.8,303.4 L574.2,304.9 L574.7,302.3 L575.1,303.3 L575.5,303.1 L575.9,301.2 L576.4,299.4 L576.8,301.5 L577.2,297.8 L577.6,300.9 L578.0,297.3 L578.5,297.5 L578.9,297.7 L579.3,293.5 L579.7,297.7 L580.1,293.5 L580.6,295.2 L581.0,293.8 L581.4,293.5 L581.8,295.8 L582.2,294.8 L582.6,297.7 L583.0,295.7 L583.5,297.5 L583.9,297.7 L584.3,294.8 L584.8,294.8 L585.2,295.0 L585.7,295.2 L586.2,292.3 L586.7,294.5 L587.2,292.5 L587.8,291.0 L588.3,291.0 L588.8,292.6 L589.3,291.2 L589.8,291.0 L590.2,294.0 L590.7,291.0 L591.2,293.8 L591.7,295.6 L592.2,293.6 L592.7,296.5 L593.2,296.2 L593.7,296.0 L594.2,299.0 L594.7,298.8 L595.2,293.5 L595.7,299.0 L596.2,293.8 L596.7,293.5 L597.2,296.5 L597.7,296.2 L598.2,296.6 L598.7,305.2 L599.1,305.0 L599.6,304.8 L600.1,313.7 L600.6,313.8 L601.1,311.1 L601.6,313.8 L602.1,311.2 L602.6,308.6 L603.1,310.4 L603.6,308.8 L604.1,312.3 L604.6,312.9 L605.1,316.2 L605.6,315.4 L606.1,311.3 L606.6,311.2 L607.1,310.5 L607.6,303.8 L608.2,303.8 L608.6,307.5 L609.1,303.5 L609.6,307.5 L610.1,307.3 L610.6,312.7 L611.1,312.5 L611.6,307.3 L612.1,310.5 L612.6,307.5 L613.1,305.5 L613.6,307.7 L614.2,307.2 L614.7,303.8 L615.2,301.8 L615.7,301.0 L616.2,304.0 L616.7,301.2 L617.2,301.5 L617.7,297.3 L618.2,301.5 L618.7,297.5 L619.2,294.8 L619.7,297.7 L620.2,294.8 L620.7,295.0 L621.2,292.8 L621.7,295.2 L622.3,291.0 L622.8,291.2 L623.3,291.5 L623.8,288.5 L624.3,290.7 L624.8,288.8 L625.3,288.5 L625.8,290.2 L626.3,288.5 L626.8,290.0 L627.2,292.7 L627.6,292.7 L628.1,289.8 L628.5,292.5 L628.9,298.1 L629.3,292.3 L629.8,294.0 L630.2,298.8 L630.7,299.9 L631.2,299.4 L631.7,301.5 L632.2,301.2 L632.7,298.0 L633.2,301.5 L633.7,297.3 L634.2,297.5 L634.7,299.0 L635.2,297.3 L635.7,297.7 L636.2,298.8 L636.7,299.0 L637.2,295.2 L637.7,297.4 L638.2,295.0 L638.7,291.0 L639.2,291.0 L639.8,295.2 L640.3,291.2 L640.8,287.3 L641.3,290.9 L641.8,287.3 L642.3,287.5 L642.8,287.7 L643.3,285.1 L643.8,286.2 L644.3,285.0 L644.8,284.9 L645.3,286.5 L645.8,284.7 L646.3,286.2 L646.8,290.2 L647.3,286.0 L647.8,290.2 L648.3,290.0 L648.8,289.8 L649.3,293.7 L649.7,291.2 L650.2,293.8 L650.7,293.6 L651.3,290.0 L651.8,294.0 L652.3,288.8 L652.8,286.0 L653.3,289.0 L653.8,286.0 L654.3,286.2 L654.8,286.5 L655.3,282.2 L655.8,286.5 L656.3,282.5 L656.8,279.7 L657.3,282.4 L657.8,279.7 L658.3,280.0 L658.8,280.3 L659.4,277.3 L659.9,279.4 L660.4,277.5 L660.9,277.2 L661.4,279.0 L661.8,277.2 L662.3,278.8 L662.8,276.2 L663.3,278.7 L663.9,274.7 L664.4,275.0 L664.9,275.3 L665.4,275.3 L665.9,272.2 L666.4,272.5 L666.8,272.8 L667.3,271.0 L667.7,272.8 L668.1,271.0 L668.6,271.2 L669.0,271.5 L669.4,269.7 L669.8,271.5 L670.3,269.7 L670.7,271.5 L671.1,270.0 L671.5,268.5 L671.9,270.3 L672.3,268.8 L672.8,266.0 L673.3,269.0 L673.8,266.2 L674.3,260.9 L674.9,266.5 L675.4,259.7 L675.9,260.0 L676.4,257.9 L676.9,259.5 L677.4,256.0 L677.9,256.2 L678.4,260.8 L678.8,256.3 L679.3,261.5 L679.8,261.2 L680.3,261.0 L680.8,265.3 L681.3,265.0 L681.8,259.8 L682.3,265.3 L682.8,259.7 L683.3,260.0 L683.8,256.9 L684.3,260.3 L684.8,254.7 L685.3,255.0 L685.8,255.3 L686.3,249.7 L686.8,255.3 L687.3,250.0 L687.8,246.0 L688.3,246.0 L688.8,250.3 L689.3,246.2 L689.8,244.4 L690.3,245.4 L690.8,242.2 L691.3,242.5 L691.8,242.8 L692.3,239.7 L692.8,242.8 L693.4,240.0 L693.8,239.7 L694.3,244.0 L694.8,239.7 L695.3,243.8 L695.8,249.5 L696.2,243.5 L696.6,250.3 L697.1,250.0 L697.5,245.9 L698.0,247.8 L698.4,241.0 L698.9,241.2 L699.4,241.5 L699.9,234.7 L700.4,241.5 L700.9,235.0 L701.4,233.5 L701.9,235.3 L702.4,233.5 L702.9,233.8 L703.4,241.5 L703.8,233.5 L704.2,241.5 L704.6,241.2 L705.1,237.2 L705.5,241.5 L706.0,237.2 L706.4,237.5 L706.9,232.2 L707.4,237.8 L707.9,232.2 L708.4,232.5 L709.0,228.0 L709.5,227.2 L710.0,232.8 L710.5,227.5 L711.0,223.4 L711.5,227.8 L712.0,223.4 L712.5,223.8 L713.0,224.1 L713.5,224.1 L714.0,219.7 L714.5,220.0 L715.0,225.2 L715.5,219.7 L716.0,219.7 L716.5,225.0 L717.1,225.3 L717.6,220.9 L718.1,220.9 L718.6,221.2 L719.1,221.6 L719.7,218.4 L720.2,221.4 L720.7,218.8 L721.2,217.1 L721.7,217.1 L722.2,219.1 L722.8,217.5 L723.3,217.1 L723.8,227.9 L724.2,227.5 L724.7,227.1 L725.2,235.0 L725.8,233.4 L726.3,224.0 L726.8,222.5 L727.4,222.9 L727.9,210.8 L728.4,217.8 L728.9,211.2 L729.4,207.1 L729.9,211.7 L730.4,207.0 L730.9,207.5 L731.4,212.0 L731.9,208.3 L732.4,215.4 L732.9,215.0 L733.4,214.6 L733.9,219.2 L734.4,218.8 L734.9,219.2 L735.4,217.3 L735.9,213.8 L736.4,210.4 L736.9,212.3 L737.4,210.5 L737.9,207.5 L738.4,207.1 L738.9,211.7 L739.4,209.1 L739.9,211.2 L740.4,211.5 L740.9,211.7 L741.4,205.8 L741.9,206.2 L742.4,206.7 L742.9,203.3 L743.4,205.7 L743.9,203.8 L744.4,202.7 L744.8,204.2 L745.2,204.2 L745.6,202.0 L746.0,204.2 L746.4,202.5 L746.9,200.9 L747.3,203.0 L747.7,203.0 L748.1,200.8 L748.5,203.0 L749.0,201.2 L749.4,200.8 L749.8,204.2 L750.2,200.8 L750.6,204.0 L751.0,202.5 L751.4,203.8 L751.9,206.5 L752.4,204.5 L752.9,209.2 L753.4,208.8 L753.9,204.2 L754.4,203.3 L754.9,208.1 L755.4,203.8 L755.9,202.2 L756.4,202.1 L756.9,202.5 L757.4,215.4 L757.8,215.0 L758.3,218.7 L758.7,235.0 L759.2,231.7 L759.7,230.0 L760.2,230.0 L760.7,237.9 L761.2,229.6 L761.7,237.5 L762.2,237.9 L762.8,219.6 L763.3,220.0 L763.8,220.0 L764.3,209.9 L764.9,210.0 L765.4,210.4 L765.9,210.4 L766.4,206.2 L766.9,205.8 L767.4,215.4 L767.8,215.2 L768.3,215.0 L768.8,215.4 L769.3,215.4 L769.9,208.3 L770.4,208.8 L770.9,212.9 L771.3,212.9 L771.8,212.5 L772.3,224.9 L772.8,212.8 L773.3,225.0 L773.7,230.2 L774.2,229.8 L774.7,235.0 L775.2,240.4 L775.7,234.6 L776.1,240.0 L776.6,245.3 L777.1,239.7 L777.6,245.0 L778.1,242.8 L778.7,232.1 L779.2,230.0 L779.7,230.4 L780.2,228.4 L780.8,222.5 L781.2,215.9 L781.7,215.8 L782.1,216.3 L782.5,216.2 L783.0,216.5 L783.4,210.8 L783.9,215.3 L784.3,211.2 L784.8,210.8 L785.3,214.2 L785.8,210.8 L786.3,213.8 L786.8,214.2 L787.3,208.7 L787.8,208.3 L788.3,208.8 L788.8,209.2 L789.2,207.1 L789.7,209.2 L790.1,207.5 L790.5,207.1 L790.9,211.4 L791.3,217.5 L791.7,212.2 L792.1,214.3 L792.6,210.0 L792.9,200.0 L793.4,198.2 L793.9,200.4 L794.4,197.1 L794.8,197.5 L795.3,197.9 L795.8,195.8 L796.3,197.9 L796.8,196.2 L797.2,195.9 L797.7,197.9 L798.2,195.9 L798.7,197.5 L799.1,199.1 L799.6,197.1 L800.1,199.1 L800.6,198.8 L801.1,198.4 L801.5,202.8 L802.0,198.7 L802.5,202.5 L803.0,207.8 L803.4,202.2 L803.9,207.5 L804.4,210.5 L804.8,211.2 L805.3,204.5 L805.8,200.0 L806.3,200.3 L806.8,193.5 L807.3,193.8 L807.8,194.0 L808.3,187.2 L808.8,187.5 L809.4,187.8 L809.9,183.5 L810.4,183.8 L810.9,185.3 L811.4,185.3 L811.8,183.5 L812.3,185.0 L812.8,185.3 L813.4,181.0 L813.9,181.2 L814.4,181.5 L814.9,174.7 L815.4,175.0 L815.9,175.3 L816.4,171.9 L816.9,166.2 L817.4,163.5 L817.9,166.5 L818.4,163.8 L818.9,163.5 L819.4,169.0 L819.9,168.8 L820.4,168.5 L820.9,172.8 L821.4,172.8 L821.9,172.5 L822.4,172.8 L822.9,172.8 L823.4,167.5 L823.9,163.7 L824.4,167.8 L824.9,163.5 L825.4,163.8 L825.9,164.0 L826.4,163.0 L826.9,158.5 L827.4,158.8 L827.9,159.0 L828.4,153.5 L828.9,158.8 L829.4,153.8 L829.9,153.5 L830.4,159.0 L830.9,158.8 L831.4,152.2 L831.9,159.0 L832.4,152.5 L832.9,149.7 L833.4,152.8 L833.9,149.7 L834.4,150.0 L834.9,154.2 L835.4,152.0 L835.9,156.2 L836.4,156.5 L836.9,149.7 L837.4,150.0 L837.9,150.3 L838.4,150.3 L838.9,146.2 L839.4,141.9 L839.9,144.3 L840.4,140.0 L840.9,134.7 L841.4,140.3 L841.9,135.0 L842.4,131.0 L842.9,131.0 L843.4,131.2 L843.9,131.5 L844.4,128.5 L844.9,128.8 L845.4,132.8 L845.9,132.5 L846.4,124.7 L846.9,125.0 L847.4,125.3 L847.9,118.8 L848.4,113.5 L849.0,113.8 L849.2,114.1 L849.2,110.9 L849.2,111.2" fill="none" stroke="#0070c0" stroke-width="2.2" stroke-linejoin="round" stroke-linecap="round"/>
<path d="M68.2,295.5 L68.8,294.5 L69.2,301.2 L69.9,302.0 L70.6,291.3 L71.2,292.5 L71.9,293.7 L72.5,283.8 L73.1,291.9 L73.8,285.0 L74.4,277.0 L75.0,286.4 L75.6,273.6 L76.2,275.0 L76.8,276.4 L77.4,271.4 L78.0,272.5 L78.7,275.3 L79.3,271.1 L80.0,278.9 L80.6,271.4 L81.2,277.5 L81.9,273.6 L82.5,278.9 L83.1,273.6 L83.8,275.0 L84.4,276.5 L85.0,268.5 L85.6,269.1 L86.2,270.0 L86.8,270.7 L87.4,262.2 L88.0,263.8 L88.7,271.6 L89.3,262.2 L90.0,270.0 L90.7,281.1 L91.3,269.3 L92.0,282.5 L92.6,295.4 L93.2,289.3 L93.8,296.2 L94.3,295.7 L94.9,286.2 L95.5,287.5 L96.2,295.0 L96.8,290.2 L97.5,293.8 L98.2,290.7 L98.8,278.6 L99.5,280.0 L100.1,281.5 L100.7,279.8 L101.2,270.0 L101.8,264.7 L102.4,271.6 L103.0,266.2 L103.7,260.9 L104.3,262.0 L105.0,262.5 L105.6,257.0 L106.2,264.2 L106.8,252.5 L107.4,249.5 L108.1,250.1 L108.8,251.2 L109.4,252.3 L110.0,248.2 L110.6,253.1 L111.2,250.0 L111.9,251.9 L112.5,243.0 L113.1,252.0 L113.8,245.0 L114.4,237.9 L115.0,247.1 L115.6,247.2 L116.2,240.0 L116.9,235.1 L117.5,242.3 L118.1,241.3 L118.8,236.2 L119.4,233.9 L120.0,243.6 L120.6,243.6 L121.2,241.2 L121.9,235.1 L122.5,243.7 L123.1,235.1 L123.8,237.5 L124.4,239.6 L125.0,223.6 L125.6,240.2 L126.2,226.2 L126.8,223.5 L127.4,237.7 L128.0,235.0 L128.7,232.4 L129.3,242.6 L130.0,240.0 L130.7,229.9 L131.3,242.6 L132.0,232.5 L132.6,229.9 L133.2,229.9 L133.8,243.8 L134.4,250.0 L135.0,241.3 L135.6,241.3 L136.2,247.5 L136.8,250.0 L137.4,234.9 L138.0,237.5 L138.7,240.2 L139.3,224.8 L140.0,227.5 L140.6,230.3 L141.2,222.2 L141.9,230.3 L142.5,225.0 L143.1,227.8 L143.7,227.8 L144.3,215.9 L144.9,215.9 L145.5,218.8 L146.2,227.9 L146.8,227.8 L147.5,225.0 L148.2,222.3 L148.8,236.5 L149.5,233.8 L150.2,231.2 L151.0,243.5 L151.8,246.1 L152.5,230.0 L153.2,207.1 L154.0,208.8 L154.6,218.5 L155.2,206.9 L155.8,215.5 L156.3,225.2 L156.9,229.1 L157.5,226.2 L158.2,223.6 L159.0,238.0 L159.6,237.3 L160.2,225.6 L160.8,225.0 L161.3,227.8 L161.9,217.2 L162.5,220.0 L163.1,222.3 L163.8,216.4 L164.4,222.9 L165.0,218.8 L165.6,221.6 L166.2,221.6 L166.9,213.3 L167.5,216.2 L168.2,223.9 L168.8,214.9 L169.5,222.5 L170.1,223.1 L170.7,213.1 L171.2,213.8 L171.8,219.3 L172.4,214.5 L173.0,220.0 L173.7,232.7 L174.3,217.4 L175.0,230.0 L175.6,235.2 L176.2,227.3 L176.9,235.2 L177.5,232.5 L178.2,229.9 L178.8,244.6 L179.5,242.5 L180.1,240.0 L180.8,240.0 L181.4,248.7 L182.0,246.2 L182.6,243.8 L183.1,252.4 L183.7,246.5 L184.2,250.0 L184.9,244.8 L185.6,252.5 L186.2,245.0 L186.8,242.5 L187.4,252.4 L188.0,250.0 L188.7,247.6 L189.3,247.7 L190.0,257.5 L190.6,267.4 L191.1,259.8 L191.7,271.7 L192.2,271.2 L192.9,281.3 L193.6,273.9 L194.2,283.8 L194.8,285.7 L195.4,285.7 L195.9,285.4 L196.5,268.8 L197.1,255.3 L197.8,255.3 L198.4,255.3 L199.0,257.5 L199.6,265.0 L200.1,255.3 L200.7,267.2 L201.2,265.0 L201.9,272.7 L202.5,262.9 L203.1,262.9 L203.8,271.2 L204.4,275.8 L205.0,269.2 L205.6,275.8 L206.2,273.8 L206.9,271.7 L207.5,280.7 L208.1,271.8 L208.8,278.8 L209.4,289.4 L210.1,276.9 L210.8,287.5 L211.5,305.4 L212.2,306.0 L212.8,294.0 L213.4,307.3 L214.0,293.0 L214.6,284.5 L215.2,284.5 L215.8,294.8 L216.3,284.5 L216.9,291.7 L217.5,286.2 L218.1,283.9 L218.8,286.0 L219.4,280.6 L220.0,282.5 L220.6,279.4 L221.2,284.4 L221.9,279.4 L222.5,281.2 L223.1,285.0 L223.8,279.9 L224.4,286.6 L225.0,285.0 L225.7,283.4 L226.3,283.2 L227.0,291.5 L227.7,282.0 L228.3,281.9 L229.0,283.8 L229.6,285.6 L230.1,279.4 L230.7,285.6 L231.2,281.2 L231.9,288.1 L232.5,279.4 L233.1,288.1 L233.8,286.2 L234.4,291.8 L235.0,284.5 L235.6,291.8 L236.2,290.0 L236.8,288.3 L237.4,294.2 L238.0,292.5 L238.7,290.8 L239.3,300.4 L240.0,298.8 L240.6,297.2 L241.2,306.5 L241.8,305.0 L242.3,312.6 L242.9,312.6 L243.5,311.2 L244.2,310.1 L244.8,321.1 L245.5,320.0 L246.1,324.8 L246.8,323.8 L247.4,322.3 L248.0,313.8 L248.7,312.7 L249.3,318.5 L250.0,317.5 L250.6,316.6 L251.2,324.6 L251.8,323.8 L252.3,322.9 L252.9,327.0 L253.5,326.2 L254.2,319.1 L255.0,318.8 L255.6,319.6 L256.2,316.5 L256.9,317.8 L257.5,316.2 L258.1,315.4 L258.8,317.1 L259.4,317.1 L260.0,316.2 L260.6,315.4 L261.2,319.6 L261.9,315.4 L262.5,318.8 L263.1,318.6 L263.7,316.4 L264.2,316.2 L264.8,315.4 L265.4,322.1 L266.0,321.2 L266.7,320.5 L267.3,320.6 L268.0,325.0 L268.7,324.3 L269.3,326.9 L270.0,326.2 L270.7,326.8 L271.3,322.0 L272.0,322.5 L272.6,322.8 L273.1,319.2 L273.7,321.1 L274.2,318.8 L274.9,316.4 L275.5,319.5 L276.1,314.2 L276.8,315.0 L277.4,315.9 L278.0,309.3 L278.6,315.4 L279.2,310.0 L279.9,307.8 L280.5,310.9 L281.1,307.8 L281.8,308.8 L282.4,307.8 L283.0,310.9 L283.6,307.8 L284.2,310.0 L284.9,310.9 L285.5,307.8 L286.1,308.9 L286.8,307.5 L287.4,305.7 L288.0,304.9 L288.6,304.1 L289.2,305.0 L289.9,306.9 L290.5,304.1 L291.1,307.2 L291.8,306.2 L292.4,302.8 L293.0,307.2 L293.6,303.2 L294.2,303.8 L294.9,304.4 L295.5,301.6 L296.1,301.5 L296.8,302.5 L297.4,302.5 L298.0,300.6 L298.6,302.4 L299.2,300.0 L299.9,301.0 L300.5,294.2 L301.1,294.0 L301.8,295.0 L302.4,296.0 L303.0,290.9 L303.6,296.1 L304.2,291.2 L304.9,292.3 L305.5,290.3 L306.1,292.1 L306.8,291.2 L307.4,291.2 L308.0,293.3 L308.6,291.2 L309.2,293.8 L309.8,298.4 L310.4,292.7 L311.0,297.5 L311.7,298.5 L312.3,292.7 L313.0,293.8 L313.6,297.3 L314.2,292.7 L314.9,297.3 L315.5,296.2 L316.2,295.2 L316.8,298.5 L317.5,297.5 L318.1,294.4 L318.7,296.9 L319.2,293.8 L319.9,292.7 L320.5,296.0 L321.1,294.2 L321.8,295.0 L322.4,297.3 L323.0,294.6 L323.6,301.0 L324.2,300.0 L324.8,299.3 L325.4,302.0 L326.0,301.2 L326.7,298.4 L327.3,299.1 L328.0,296.2 L328.6,294.0 L329.2,297.3 L329.9,294.9 L330.5,295.0 L331.1,295.8 L331.8,297.3 L332.4,294.0 L333.0,296.2 L333.7,297.3 L334.3,288.9 L335.0,290.0 L335.6,291.1 L336.2,285.1 L336.9,290.7 L337.5,286.2 L338.1,283.9 L338.8,283.9 L339.4,283.9 L340.0,285.0 L340.6,288.6 L341.2,283.9 L341.9,285.6 L342.5,287.5 L343.1,288.1 L343.8,285.5 L344.4,286.3 L345.0,285.0 L345.6,286.1 L346.2,282.6 L346.9,286.2 L347.5,283.8 L348.1,282.6 L348.8,284.3 L349.4,289.1 L350.0,288.8 L350.6,287.9 L351.2,292.6 L351.9,290.7 L352.5,292.5 L353.1,292.5 L353.8,287.7 L354.4,293.6 L355.0,288.8 L355.6,286.4 L356.2,285.3 L356.8,289.9 L357.4,283.9 L358.0,285.0 L358.6,286.1 L359.2,281.3 L359.9,281.3 L360.5,282.5 L361.1,284.9 L361.8,281.9 L362.4,284.5 L363.0,283.8 L363.6,280.1 L364.2,284.9 L364.9,281.0 L365.5,281.2 L366.1,282.3 L366.8,280.1 L367.4,283.7 L368.0,282.5 L368.6,281.3 L369.2,287.4 L369.9,281.4 L370.5,286.2 L371.2,288.6 L371.8,288.6 L372.5,287.5 L373.1,280.1 L373.7,288.7 L374.2,281.2 L374.9,276.5 L375.5,282.4 L376.1,282.5 L376.8,277.5 L377.4,275.4 L378.0,278.7 L378.6,278.7 L379.2,276.2 L380.0,276.2 L380.6,272.5 L381.2,272.5 L381.9,272.5 L382.5,273.8 L383.1,275.0 L383.8,271.2 L384.4,275.0 L385.0,272.5 L385.6,270.0 L386.2,273.8 L386.9,270.0 L387.5,271.2 L388.1,272.5 L388.8,270.0 L389.4,272.5 L390.0,271.2 L390.6,268.7 L391.2,272.5 L391.9,268.7 L392.5,270.0 L393.1,277.5 L393.8,277.5 L394.4,268.8 L395.0,276.2 L395.6,281.2 L396.2,275.0 L396.9,281.2 L397.5,280.0 L398.1,280.8 L398.8,277.1 L399.4,281.2 L400.0,277.5 L400.6,275.0 L401.2,278.7 L401.9,275.0 L402.5,276.2 L403.1,277.5 L403.8,277.5 L404.4,270.0 L405.0,271.2 L405.6,272.5 L406.2,266.2 L406.9,272.6 L407.5,267.5 L408.1,265.1 L408.8,266.4 L409.4,261.1 L410.0,262.5 L410.6,263.9 L411.2,258.8 L411.9,261.2 L412.5,258.8 L413.1,257.4 L413.8,256.9 L414.4,260.2 L415.0,257.5 L415.6,258.9 L416.2,254.3 L416.9,257.3 L417.5,255.0 L418.1,253.7 L418.8,255.5 L419.4,252.4 L420.0,253.8 L420.6,255.2 L421.2,249.8 L421.9,255.2 L422.5,251.2 L423.2,249.5 L423.8,251.8 L424.5,250.0 L425.2,248.6 L426.0,261.0 L426.7,262.4 L427.3,249.8 L428.0,251.2 L428.7,252.7 L429.3,252.8 L430.0,246.2 L430.7,239.7 L431.3,247.9 L432.0,241.2 L432.7,242.9 L433.3,235.8 L434.0,237.5 L434.6,240.5 L435.1,239.3 L435.7,237.4 L436.2,238.8 L436.8,240.6 L437.4,234.3 L438.0,236.2 L438.7,233.3 L439.3,238.0 L440.0,235.0 L440.7,233.0 L441.3,247.0 L442.0,245.0 L442.6,243.0 L443.2,258.5 L443.8,256.5 L444.3,246.4 L444.9,257.8 L445.5,247.5 L446.2,236.6 L446.8,249.7 L447.5,238.8 L448.2,231.4 L448.8,241.2 L449.5,233.8 L450.1,240.0 L450.7,231.3 L451.2,237.5 L452.0,249.9 L452.8,247.5 L453.4,258.7 L454.0,256.5 L454.8,239.7 L455.5,242.0 L456.2,252.3 L457.0,250.0 L457.6,247.8 L458.2,259.7 L458.8,257.5 L459.3,255.4 L459.9,265.8 L460.5,263.8 L461.0,261.8 L461.5,272.5 L462.1,274.4 L462.8,267.0 L463.3,265.0 L463.9,274.4 L464.5,272.5 L465.1,270.6 L465.8,279.0 L466.3,280.8 L466.9,280.9 L467.4,266.8 L468.0,268.8 L468.7,269.4 L469.3,263.0 L470.0,263.8 L470.7,265.8 L471.3,257.9 L472.0,260.0 L472.7,264.6 L473.3,257.9 L474.0,262.5 L474.7,270.8 L475.3,270.7 L476.0,268.8 L476.7,269.5 L477.3,276.7 L478.0,277.5 L478.7,276.0 L479.3,286.4 L480.0,285.0 L480.7,277.0 L481.3,286.8 L482.0,278.8 L482.7,282.0 L483.3,278.0 L484.0,281.2 L484.7,279.5 L485.3,289.2 L486.0,287.5 L486.0,292.5 L486.5,292.2 L487.0,302.5 L487.5,311.6 L488.0,311.2 L488.5,310.0 L489.0,318.8 L489.6,324.8 L490.2,323.8 L490.9,326.9 L491.5,332.5 L492.1,333.9 L492.8,337.5 L493.4,338.3 L494.0,330.0 L494.7,326.6 L495.3,329.5 L496.0,327.5 L496.6,327.0 L497.2,328.0 L497.8,330.0 L498.3,332.7 L498.9,334.6 L499.5,333.8 L500.2,333.0 L500.8,338.0 L501.5,337.5 L502.2,338.1 L503.0,342.5 L503.5,345.6 L504.0,345.0 L504.8,345.0 L505.5,338.8 L506.2,335.0 L506.8,334.3 L507.5,335.0 L508.2,334.9 L508.8,332.6 L509.5,332.5 L510.2,333.3 L510.8,329.2 L511.5,330.0 L512.2,331.3 L512.8,331.7 L513.5,331.2 L514.2,332.1 L514.8,327.9 L515.5,328.8 L516.2,330.2 L516.8,328.5 L517.5,330.0 L518.2,324.6 L518.8,330.5 L519.5,325.0 L520.2,322.4 L520.8,325.1 L521.5,322.5 L522.1,319.0 L522.8,323.5 L523.4,319.0 L524.0,320.0 L524.6,321.0 L525.2,316.5 L525.9,320.2 L526.5,317.5 L527.1,318.3 L527.8,318.1 L528.4,315.6 L529.0,316.2 L529.6,316.9 L530.2,314.0 L530.9,316.7 L531.5,315.0 L532.1,313.5 L532.8,315.7 L533.4,312.7 L534.0,313.8 L534.6,310.2 L535.2,313.5 L535.9,311.0 L536.5,311.2 L537.2,313.6 L537.8,310.1 L538.5,312.5 L539.2,315.4 L539.8,317.1 L540.5,317.5 L541.2,311.4 L541.8,318.6 L542.5,312.5 L543.2,307.6 L543.8,313.6 L544.5,308.8 L545.2,306.2 L545.8,308.8 L546.5,306.2 L547.1,303.8 L547.7,307.5 L548.2,305.0 L548.8,311.2 L549.4,303.8 L550.0,310.0 L550.7,314.8 L551.3,310.3 L552.0,315.0 L552.7,316.8 L553.3,315.7 L554.0,317.5 L554.7,322.3 L555.3,316.5 L556.0,321.2 L556.7,321.1 L557.3,316.3 L558.0,316.2 L558.7,317.0 L559.3,316.6 L560.0,315.0 L560.8,314.0 L561.5,320.0 L562.2,321.0 L562.8,315.2 L563.5,316.2 L564.2,317.3 L564.8,311.4 L565.5,312.5 L566.1,313.6 L566.6,308.9 L567.2,313.6 L567.8,310.0 L568.4,308.6 L569.0,309.7 L569.6,306.3 L570.2,307.5 L570.9,303.8 L571.5,308.7 L572.1,303.8 L572.8,305.0 L573.4,300.0 L574.0,306.3 L574.6,300.0 L575.2,301.2 L575.9,302.5 L576.5,297.0 L577.1,300.6 L577.8,297.5 L578.4,298.9 L579.0,292.4 L579.6,298.9 L580.2,293.8 L580.9,292.4 L581.5,297.0 L582.1,295.4 L582.8,297.5 L583.3,298.9 L583.9,293.6 L584.5,295.0 L585.2,296.4 L585.8,291.1 L586.5,292.5 L587.2,293.9 L587.8,289.8 L588.5,291.2 L589.2,295.2 L589.8,289.8 L590.5,293.8 L591.2,296.7 L591.8,293.3 L592.5,296.2 L593.2,300.1 L594.0,298.8 L594.8,292.4 L595.5,293.8 L596.2,297.6 L597.0,296.2 L597.8,295.0 L598.5,305.0 L599.2,311.8 L600.0,313.8 L600.8,314.3 L601.5,311.2 L602.2,307.6 L603.0,308.8 L603.8,317.0 L604.5,316.2 L605.2,310.2 L606.0,311.2 L606.8,312.4 L607.5,303.8 L608.2,308.7 L609.0,307.5 L609.8,306.4 L610.5,312.5 L611.2,306.4 L612.0,307.5 L612.7,308.7 L613.3,302.5 L614.0,303.8 L614.7,305.0 L615.3,300.0 L616.0,301.2 L616.7,302.6 L617.3,296.2 L618.0,297.5 L618.7,293.6 L619.3,294.7 L620.0,295.0 L620.7,292.2 L621.3,296.4 L622.0,291.2 L622.7,287.3 L623.3,292.4 L624.0,288.8 L624.7,287.3 L625.3,291.5 L626.0,290.0 L626.6,293.9 L627.2,288.6 L627.8,292.5 L628.3,299.3 L628.9,293.6 L629.5,298.8 L630.2,301.5 L630.8,297.5 L631.5,301.2 L632.2,302.6 L632.8,296.2 L633.5,297.5 L634.2,300.1 L634.8,296.7 L635.5,298.8 L636.2,300.1 L636.8,294.3 L637.5,295.0 L638.2,295.7 L638.8,289.8 L639.5,291.2 L640.2,292.7 L640.8,286.0 L641.5,287.5 L642.2,289.0 L642.8,289.0 L643.5,285.0 L644.2,283.5 L644.8,287.8 L645.5,286.2 L646.2,284.8 L646.8,291.5 L647.5,290.0 L648.2,288.6 L648.8,295.2 L649.5,293.8 L650.2,288.0 L650.8,295.2 L651.5,288.8 L652.2,284.8 L652.8,290.2 L653.5,286.2 L654.2,281.0 L654.8,287.8 L655.5,282.5 L656.2,284.1 L656.8,278.4 L657.5,280.0 L658.2,281.6 L658.8,275.9 L659.5,277.5 L660.2,280.4 L660.8,275.9 L661.5,278.8 L662.2,280.3 L662.8,273.4 L663.5,275.0 L664.2,276.6 L664.8,271.3 L665.5,272.5 L666.1,273.5 L666.6,269.6 L667.2,274.1 L667.8,271.2 L668.4,268.4 L669.0,272.8 L669.6,269.1 L670.2,270.0 L670.9,271.2 L671.5,268.8 L672.2,264.7 L673.0,266.2 L673.7,267.9 L674.3,258.4 L675.0,260.0 L675.7,261.6 L676.3,254.6 L677.0,256.2 L677.7,262.0 L678.3,254.7 L679.0,261.2 L679.8,259.7 L680.5,265.0 L681.2,266.5 L681.8,258.5 L682.5,260.0 L683.2,261.5 L683.8,253.5 L684.5,255.0 L685.2,256.5 L685.8,248.5 L686.5,250.0 L687.2,251.6 L687.8,251.6 L688.5,246.2 L689.2,247.8 L689.8,240.9 L690.5,242.5 L691.2,244.1 L691.8,238.4 L692.5,240.0 L693.2,245.4 L693.8,238.4 L694.5,243.8 L695.1,242.2 L695.7,244.0 L696.2,250.0 L696.8,251.6 L697.4,239.6 L698.0,241.2 L698.7,234.3 L699.3,242.0 L700.0,235.0 L700.7,232.3 L701.3,236.5 L702.0,233.8 L702.6,232.0 L703.2,242.9 L703.8,241.2 L704.3,235.8 L704.9,243.0 L705.5,237.5 L706.2,230.8 L706.8,239.3 L707.5,232.5 L708.2,225.7 L708.8,234.3 L709.5,227.5 L710.2,221.9 L710.8,229.4 L711.5,223.8 L712.2,219.6 L712.8,224.2 L713.5,220.0 L714.2,218.0 L714.8,218.1 L715.5,225.0 L716.2,227.0 L716.8,219.2 L717.5,221.2 L718.2,223.0 L718.8,216.9 L719.5,218.8 L720.2,221.1 L720.8,221.1 L721.5,217.5 L722.2,215.1 L723.0,227.5 L723.5,237.3 L724.0,235.0 L724.8,220.1 L725.5,222.5 L726.2,208.7 L726.8,208.6 L727.5,211.2 L728.2,204.8 L728.8,213.5 L729.5,207.5 L730.2,204.8 L730.8,217.7 L731.5,215.0 L732.2,212.4 L733.0,218.8 L733.8,219.2 L734.5,213.8 L735.2,208.8 L735.8,216.2 L736.5,207.5 L737.2,204.8 L737.8,213.9 L738.5,211.2 L739.2,204.6 L739.8,213.9 L740.5,206.2 L741.2,201.0 L741.8,209.0 L742.5,203.8 L743.1,199.8 L743.8,206.5 L744.4,199.8 L745.0,202.5 L745.6,205.2 L746.2,198.5 L746.9,199.0 L747.5,201.2 L748.1,205.1 L748.8,199.0 L749.4,206.2 L750.0,203.8 L750.7,201.1 L751.3,211.4 L752.0,208.8 L752.7,201.1 L753.3,211.4 L754.0,203.8 L754.8,199.8 L755.5,202.5 L756.0,217.6 L756.5,215.0 L757.0,212.9 L757.5,235.0 L758.2,237.3 L759.0,230.0 L759.8,227.7 L760.5,237.5 L761.2,239.9 L762.0,220.0 L762.8,207.5 L763.5,210.0 L764.2,212.6 L765.0,206.2 L765.7,203.7 L766.3,204.8 L767.0,215.0 L767.7,217.5 L768.3,206.2 L769.0,208.8 L769.8,215.1 L770.5,212.5 L771.2,212.1 L772.0,225.0 L772.8,237.3 L773.5,235.0 L774.2,232.8 L775.0,240.0 L775.8,245.1 L776.5,245.0 L777.2,234.8 L778.0,230.0 L778.8,232.3 L779.5,222.5 L780.1,213.8 L780.7,224.9 L781.2,216.2 L781.8,208.8 L782.4,218.7 L783.0,211.2 L783.7,208.8 L784.3,216.2 L785.0,213.8 L785.7,206.3 L786.3,206.2 L787.0,208.8 L787.6,211.3 L788.2,205.0 L788.8,207.5 L789.4,220.0 L790.0,217.5 L790.6,220.0 L791.2,210.0 L791.5,200.0 L792.2,194.9 L792.8,202.6 L793.5,197.5 L794.2,193.8 L794.8,199.9 L795.5,196.2 L796.2,193.9 L796.8,195.8 L797.5,197.5 L798.2,199.1 L798.8,195.4 L799.5,198.8 L800.2,204.5 L800.8,196.8 L801.5,202.5 L802.2,209.3 L803.0,207.5 L803.5,212.9 L804.0,211.2 L804.5,198.4 L805.0,200.0 L805.8,201.6 L806.5,193.8 L807.2,185.9 L808.0,187.5 L808.8,189.1 L809.5,183.8 L810.2,182.1 L810.8,182.1 L811.5,185.0 L812.2,186.6 L813.0,181.2 L813.8,173.4 L814.5,175.0 L815.2,176.1 L816.0,166.2 L816.8,162.1 L817.5,163.8 L818.2,170.4 L819.0,168.8 L819.7,167.1 L820.3,174.1 L821.0,172.5 L821.8,166.0 L822.5,167.5 L823.2,169.2 L823.8,162.1 L824.5,163.8 L825.2,157.1 L825.8,165.4 L826.5,158.8 L827.2,152.1 L827.8,160.4 L828.5,153.8 L829.2,152.1 L830.0,158.8 L830.8,158.5 L831.5,152.5 L832.2,149.9 L832.8,152.1 L833.5,150.0 L834.2,151.1 L835.0,156.2 L835.8,155.9 L836.5,150.0 L837.2,145.3 L838.0,146.2 L838.8,139.1 L839.5,140.0 L840.2,141.5 L841.0,135.0 L841.8,129.5 L842.5,131.2 L843.2,133.0 L844.0,128.8 L844.5,127.0 L845.0,132.5 L845.5,134.2 L846.0,125.0 L846.5,117.4 L847.0,118.8 L847.5,120.5 L848.0,113.8 L848.6,109.4 L849.2,111.2" fill="none" stroke="#0070c0" stroke-width="1.4" stroke-linejoin="round" stroke-linecap="round"/>
<line x1="68.0" x2="848.45" y1="295.1" y2="295.1" stroke="#ffc000" stroke-width="3" stroke-linecap="round"/>
<text font-weight="bold" fill="#000"><tspan x="315.6" y="54.5" font-family="'Liberation Sans', sans-serif" font-size="30.8" textLength="67" lengthAdjust="spacingAndGlyphs">1998</tspan><tspan x="382.6" y="53.7" font-family="'Noto Sans CJK JP', sans-serif" font-size="31.8" textLength="67.6" lengthAdjust="spacingAndGlyphs">年～</tspan><tspan x="452.4" y="54.5" font-family="'Liberation Sans', sans-serif" font-size="30.8" textLength="67" lengthAdjust="spacingAndGlyphs">2017</tspan><tspan x="520.7" y="53.7" font-family="'Noto Sans CJK JP', sans-serif" font-size="31.8" textLength="33.8" lengthAdjust="spacingAndGlyphs">年</tspan><tspan x="556.4" y="55.9" font-family="'Liberation Sans', sans-serif" font-size="29.8" textLength="15.2" lengthAdjust="spacingAndGlyphs" stroke="#000" stroke-width="2.0" stroke-linejoin="round">_</tspan><tspan x="572.8" y="53.7" font-family="'Noto Sans CJK JP', sans-serif" font-size="31.8" textLength="137.2" lengthAdjust="spacingAndGlyphs">一括投資</tspan></text>
<line x1="888.8" x2="924.7" y1="226.3" y2="226.3" stroke="#ff0000" stroke-width="3" stroke-linecap="round"/>
<text x="930.2" y="230.7" font-family="'Noto Sans CJK JP', sans-serif" font-weight="300" font-size="18.5" fill="#1a1a1a">ドル建て</text>
<line x1="888.8" x2="924.7" y1="260.7" y2="260.7" stroke="#0070c0" stroke-width="3" stroke-linecap="round"/>
<text x="930.2" y="265.1" font-family="'Noto Sans CJK JP', sans-serif" font-weight="300" font-size="18.5" fill="#1a1a1a">円建て</text>
<line x1="888.8" x2="924.7" y1="295.2" y2="295.2" stroke="#ffc000" stroke-width="3" stroke-linecap="round"/>
<text x="930.2" y="299.6" font-family="'Noto Sans CJK JP', sans-serif" font-weight="300" font-size="18.5" fill="#1a1a1a">一括元本</text>
</svg>
<div id="frame"></div>
</div>
</body></html>
